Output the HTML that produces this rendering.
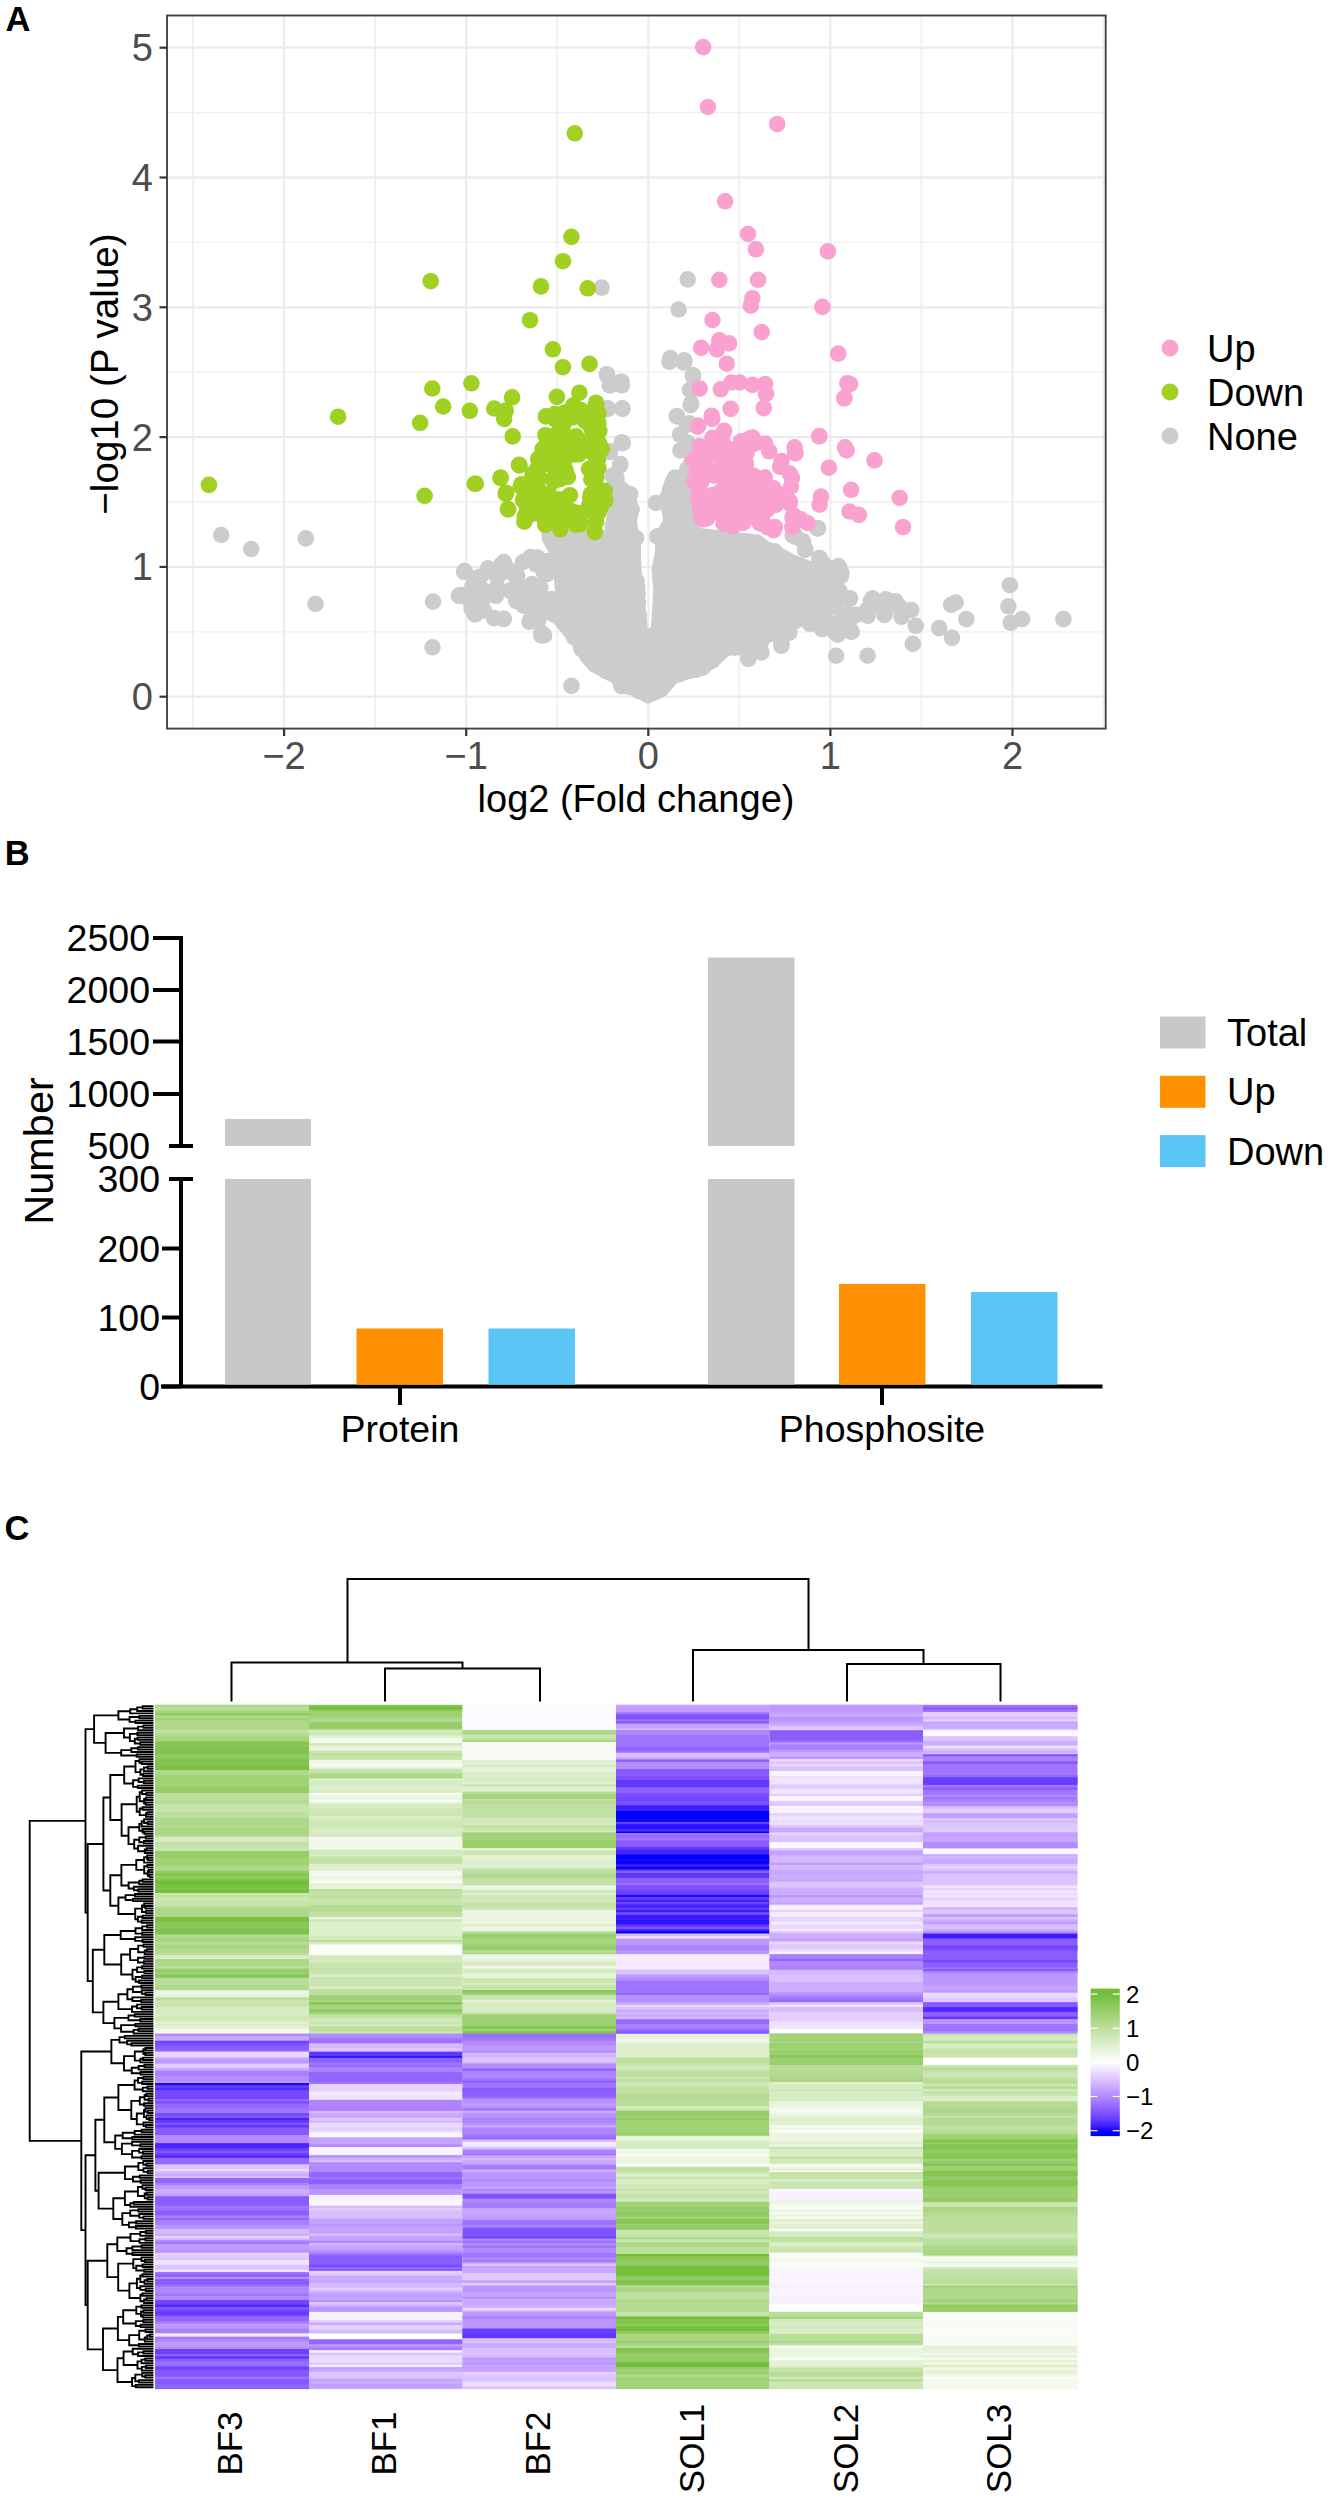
<!DOCTYPE html>
<html><head><meta charset="utf-8"><style>html,body{margin:0;padding:0;background:#fff;}svg{display:block;}</style></head>
<body><svg width="1328" height="2500" viewBox="0 0 1328 2500">
<rect width="1328" height="2500" fill="#fff"/>
<g id="panelA">
<text x="5.5" y="30.6" font-family="Liberation Sans" font-weight="bold" font-size="34.5" fill="#000">A</text>
<line x1="193.0" y1="15.5" x2="193.0" y2="728.6" stroke="#EEEEEE" stroke-width="1.6"/>
<line x1="375.1" y1="15.5" x2="375.1" y2="728.6" stroke="#EEEEEE" stroke-width="1.6"/>
<line x1="557.2" y1="15.5" x2="557.2" y2="728.6" stroke="#EEEEEE" stroke-width="1.6"/>
<line x1="739.3" y1="15.5" x2="739.3" y2="728.6" stroke="#EEEEEE" stroke-width="1.6"/>
<line x1="921.4" y1="15.5" x2="921.4" y2="728.6" stroke="#EEEEEE" stroke-width="1.6"/>
<line x1="1103.5" y1="15.5" x2="1103.5" y2="728.6" stroke="#EEEEEE" stroke-width="1.6"/>
<line x1="167.0" y1="631.8" x2="1105.7" y2="631.8" stroke="#EFEFEF" stroke-width="1.3"/>
<line x1="167.0" y1="502.0" x2="1105.7" y2="502.0" stroke="#EFEFEF" stroke-width="1.3"/>
<line x1="167.0" y1="372.2" x2="1105.7" y2="372.2" stroke="#EFEFEF" stroke-width="1.3"/>
<line x1="167.0" y1="242.4" x2="1105.7" y2="242.4" stroke="#EFEFEF" stroke-width="1.3"/>
<line x1="167.0" y1="112.6" x2="1105.7" y2="112.6" stroke="#EFEFEF" stroke-width="1.3"/>
<line x1="284.1" y1="15.5" x2="284.1" y2="728.6" stroke="#EBEBEB" stroke-width="2.0"/>
<line x1="466.2" y1="15.5" x2="466.2" y2="728.6" stroke="#EBEBEB" stroke-width="2.0"/>
<line x1="648.3" y1="15.5" x2="648.3" y2="728.6" stroke="#EBEBEB" stroke-width="2.0"/>
<line x1="830.4" y1="15.5" x2="830.4" y2="728.6" stroke="#EBEBEB" stroke-width="2.0"/>
<line x1="1012.5" y1="15.5" x2="1012.5" y2="728.6" stroke="#EBEBEB" stroke-width="2.0"/>
<line x1="167.0" y1="696.7" x2="1105.7" y2="696.7" stroke="#EBEBEB" stroke-width="2.3"/>
<line x1="167.0" y1="566.9" x2="1105.7" y2="566.9" stroke="#EBEBEB" stroke-width="2.3"/>
<line x1="167.0" y1="437.1" x2="1105.7" y2="437.1" stroke="#EBEBEB" stroke-width="2.3"/>
<line x1="167.0" y1="307.3" x2="1105.7" y2="307.3" stroke="#EBEBEB" stroke-width="2.3"/>
<line x1="167.0" y1="177.5" x2="1105.7" y2="177.5" stroke="#EBEBEB" stroke-width="2.3"/>
<line x1="167.0" y1="47.7" x2="1105.7" y2="47.7" stroke="#EBEBEB" stroke-width="2.3"/>
<polygon points="606.0,478.0 623.4,470.0 622.5,479.0 636.1,492.6 638.8,513.4 636.0,525.0 641.0,540.0 641.0,556.0 641.5,569.4 643.3,590.0 647.0,620.0 648.5,636.0 647.7,704.0 632.8,695.9 619.5,692.5 611.2,682.6 589.7,671.0 579.8,659.4 574.8,647.8 567.3,639.9 553.6,623.2 555.5,598.7 552.6,559.6 541.8,540.0 541.3,530.0 606.0,530.0 610.0,490.0" fill="#CCCCCC"/>
<polygon points="680.4,470.0 690.0,440.0 700.0,440.0 700.0,528.0 760.0,534.7 769.8,542.5 781.5,547.4 793.3,554.3 810.9,561.1 820.7,554.0 835.8,563.5 841.0,576.0 849.0,598.0 836.0,606.0 828.5,627.7 803.0,626.0 786.4,635.8 768.2,642.5 748.7,666.0 738.8,652.8 728.9,656.1 715.6,667.7 702.4,676.0 689.1,679.3 677.5,682.6 665.9,695.9 647.7,704.0 648.5,636.0 651.0,626.0 653.3,590.0 651.4,569.4 655.1,551.3 655.1,533.3 663.2,519.7 658.7,497.1 668.6,475.4" fill="#CCCCCC"/>
<g><circle cx="614.7" cy="484.1" r="8.3" fill="#CCCCCC"/><circle cx="621.3" cy="490.7" r="8.3" fill="#CCCCCC"/><circle cx="620.3" cy="497.8" r="8.3" fill="#CCCCCC"/><circle cx="628.3" cy="497.0" r="8.3" fill="#CCCCCC"/><circle cx="622.2" cy="504.7" r="8.3" fill="#CCCCCC"/><circle cx="628.5" cy="505.1" r="8.3" fill="#CCCCCC"/><circle cx="614.4" cy="513.0" r="8.3" fill="#CCCCCC"/><circle cx="621.9" cy="511.6" r="8.3" fill="#CCCCCC"/><circle cx="628.9" cy="511.1" r="8.3" fill="#CCCCCC"/><circle cx="614.4" cy="519.1" r="8.3" fill="#CCCCCC"/><circle cx="621.3" cy="520.0" r="8.3" fill="#CCCCCC"/><circle cx="628.5" cy="519.2" r="8.3" fill="#CCCCCC"/><circle cx="612.8" cy="525.8" r="8.3" fill="#CCCCCC"/><circle cx="622.1" cy="525.1" r="8.3" fill="#CCCCCC"/><circle cx="629.5" cy="524.6" r="8.3" fill="#CCCCCC"/><circle cx="612.1" cy="533.6" r="8.3" fill="#CCCCCC"/><circle cx="620.9" cy="533.8" r="8.3" fill="#CCCCCC"/><circle cx="630.5" cy="531.7" r="8.3" fill="#CCCCCC"/><circle cx="550.7" cy="538.7" r="8.3" fill="#CCCCCC"/><circle cx="557.6" cy="539.1" r="8.3" fill="#CCCCCC"/><circle cx="564.7" cy="538.0" r="8.3" fill="#CCCCCC"/><circle cx="574.5" cy="540.7" r="8.3" fill="#CCCCCC"/><circle cx="582.7" cy="538.1" r="8.3" fill="#CCCCCC"/><circle cx="588.4" cy="539.6" r="8.3" fill="#CCCCCC"/><circle cx="598.7" cy="539.4" r="8.3" fill="#CCCCCC"/><circle cx="605.9" cy="539.8" r="8.3" fill="#CCCCCC"/><circle cx="612.6" cy="539.4" r="8.3" fill="#CCCCCC"/><circle cx="620.7" cy="538.5" r="8.3" fill="#CCCCCC"/><circle cx="628.0" cy="538.6" r="8.3" fill="#CCCCCC"/><circle cx="556.8" cy="547.2" r="8.3" fill="#CCCCCC"/><circle cx="566.5" cy="545.6" r="8.3" fill="#CCCCCC"/><circle cx="572.8" cy="546.3" r="8.3" fill="#CCCCCC"/><circle cx="581.5" cy="546.5" r="8.3" fill="#CCCCCC"/><circle cx="588.5" cy="544.8" r="8.3" fill="#CCCCCC"/><circle cx="596.5" cy="544.9" r="8.3" fill="#CCCCCC"/><circle cx="605.5" cy="544.9" r="8.3" fill="#CCCCCC"/><circle cx="612.0" cy="546.6" r="8.3" fill="#CCCCCC"/><circle cx="620.7" cy="547.1" r="8.3" fill="#CCCCCC"/><circle cx="629.3" cy="547.3" r="8.3" fill="#CCCCCC"/><circle cx="558.3" cy="552.6" r="8.3" fill="#CCCCCC"/><circle cx="564.1" cy="553.2" r="8.3" fill="#CCCCCC"/><circle cx="574.6" cy="552.5" r="8.3" fill="#CCCCCC"/><circle cx="582.5" cy="552.1" r="8.3" fill="#CCCCCC"/><circle cx="590.5" cy="551.7" r="8.3" fill="#CCCCCC"/><circle cx="596.7" cy="554.3" r="8.3" fill="#CCCCCC"/><circle cx="606.2" cy="554.4" r="8.3" fill="#CCCCCC"/><circle cx="614.3" cy="553.9" r="8.3" fill="#CCCCCC"/><circle cx="621.9" cy="552.2" r="8.3" fill="#CCCCCC"/><circle cx="629.1" cy="552.1" r="8.3" fill="#CCCCCC"/><circle cx="558.4" cy="559.9" r="8.3" fill="#CCCCCC"/><circle cx="565.0" cy="559.6" r="8.3" fill="#CCCCCC"/><circle cx="572.6" cy="558.6" r="8.3" fill="#CCCCCC"/><circle cx="581.7" cy="559.8" r="8.3" fill="#CCCCCC"/><circle cx="589.5" cy="558.8" r="8.3" fill="#CCCCCC"/><circle cx="596.9" cy="559.0" r="8.3" fill="#CCCCCC"/><circle cx="604.2" cy="559.3" r="8.3" fill="#CCCCCC"/><circle cx="614.3" cy="559.8" r="8.3" fill="#CCCCCC"/><circle cx="621.0" cy="560.4" r="8.3" fill="#CCCCCC"/><circle cx="628.5" cy="558.6" r="8.3" fill="#CCCCCC"/><circle cx="565.0" cy="567.2" r="8.3" fill="#CCCCCC"/><circle cx="574.5" cy="568.2" r="8.3" fill="#CCCCCC"/><circle cx="580.6" cy="567.4" r="8.3" fill="#CCCCCC"/><circle cx="587.9" cy="565.7" r="8.3" fill="#CCCCCC"/><circle cx="597.3" cy="568.1" r="8.3" fill="#CCCCCC"/><circle cx="604.3" cy="567.8" r="8.3" fill="#CCCCCC"/><circle cx="614.4" cy="566.4" r="8.3" fill="#CCCCCC"/><circle cx="621.9" cy="568.0" r="8.3" fill="#CCCCCC"/><circle cx="628.9" cy="567.6" r="8.3" fill="#CCCCCC"/><circle cx="566.1" cy="572.6" r="8.3" fill="#CCCCCC"/><circle cx="573.8" cy="574.6" r="8.3" fill="#CCCCCC"/><circle cx="580.8" cy="574.0" r="8.3" fill="#CCCCCC"/><circle cx="588.3" cy="574.6" r="8.3" fill="#CCCCCC"/><circle cx="595.9" cy="575.4" r="8.3" fill="#CCCCCC"/><circle cx="606.2" cy="574.3" r="8.3" fill="#CCCCCC"/><circle cx="612.6" cy="575.2" r="8.3" fill="#CCCCCC"/><circle cx="622.7" cy="572.8" r="8.3" fill="#CCCCCC"/><circle cx="630.1" cy="574.9" r="8.3" fill="#CCCCCC"/><circle cx="564.2" cy="582.1" r="8.3" fill="#CCCCCC"/><circle cx="574.7" cy="579.7" r="8.3" fill="#CCCCCC"/><circle cx="581.6" cy="580.6" r="8.3" fill="#CCCCCC"/><circle cx="588.2" cy="580.2" r="8.3" fill="#CCCCCC"/><circle cx="596.5" cy="581.6" r="8.3" fill="#CCCCCC"/><circle cx="603.8" cy="579.9" r="8.3" fill="#CCCCCC"/><circle cx="613.1" cy="579.4" r="8.3" fill="#CCCCCC"/><circle cx="621.7" cy="581.2" r="8.3" fill="#CCCCCC"/><circle cx="630.3" cy="580.0" r="8.3" fill="#CCCCCC"/><circle cx="636.7" cy="581.0" r="8.3" fill="#CCCCCC"/><circle cx="565.3" cy="588.8" r="8.3" fill="#CCCCCC"/><circle cx="574.1" cy="588.0" r="8.3" fill="#CCCCCC"/><circle cx="580.9" cy="587.1" r="8.3" fill="#CCCCCC"/><circle cx="588.1" cy="588.7" r="8.3" fill="#CCCCCC"/><circle cx="596.2" cy="588.5" r="8.3" fill="#CCCCCC"/><circle cx="605.4" cy="589.2" r="8.3" fill="#CCCCCC"/><circle cx="614.1" cy="589.2" r="8.3" fill="#CCCCCC"/><circle cx="620.2" cy="587.8" r="8.3" fill="#CCCCCC"/><circle cx="629.5" cy="587.2" r="8.3" fill="#CCCCCC"/><circle cx="637.3" cy="587.3" r="8.3" fill="#CCCCCC"/><circle cx="565.3" cy="595.1" r="8.3" fill="#CCCCCC"/><circle cx="572.9" cy="593.8" r="8.3" fill="#CCCCCC"/><circle cx="579.8" cy="594.0" r="8.3" fill="#CCCCCC"/><circle cx="589.6" cy="595.8" r="8.3" fill="#CCCCCC"/><circle cx="598.3" cy="594.7" r="8.3" fill="#CCCCCC"/><circle cx="606.8" cy="594.6" r="8.3" fill="#CCCCCC"/><circle cx="614.3" cy="594.4" r="8.3" fill="#CCCCCC"/><circle cx="622.0" cy="596.2" r="8.3" fill="#CCCCCC"/><circle cx="628.7" cy="593.7" r="8.3" fill="#CCCCCC"/><circle cx="637.7" cy="594.8" r="8.3" fill="#CCCCCC"/><circle cx="566.5" cy="602.4" r="8.3" fill="#CCCCCC"/><circle cx="573.3" cy="602.4" r="8.3" fill="#CCCCCC"/><circle cx="581.7" cy="602.1" r="8.3" fill="#CCCCCC"/><circle cx="589.7" cy="601.4" r="8.3" fill="#CCCCCC"/><circle cx="597.7" cy="602.0" r="8.3" fill="#CCCCCC"/><circle cx="606.6" cy="602.5" r="8.3" fill="#CCCCCC"/><circle cx="614.3" cy="602.4" r="8.3" fill="#CCCCCC"/><circle cx="622.2" cy="601.9" r="8.3" fill="#CCCCCC"/><circle cx="628.8" cy="600.9" r="8.3" fill="#CCCCCC"/><circle cx="637.9" cy="602.8" r="8.3" fill="#CCCCCC"/><circle cx="565.1" cy="608.1" r="8.3" fill="#CCCCCC"/><circle cx="573.8" cy="607.1" r="8.3" fill="#CCCCCC"/><circle cx="581.3" cy="609.9" r="8.3" fill="#CCCCCC"/><circle cx="589.9" cy="608.3" r="8.3" fill="#CCCCCC"/><circle cx="597.9" cy="608.9" r="8.3" fill="#CCCCCC"/><circle cx="604.4" cy="607.7" r="8.3" fill="#CCCCCC"/><circle cx="614.5" cy="607.9" r="8.3" fill="#CCCCCC"/><circle cx="620.0" cy="609.6" r="8.3" fill="#CCCCCC"/><circle cx="629.4" cy="608.2" r="8.3" fill="#CCCCCC"/><circle cx="637.3" cy="609.3" r="8.3" fill="#CCCCCC"/><circle cx="564.3" cy="616.4" r="8.3" fill="#CCCCCC"/><circle cx="574.4" cy="615.0" r="8.3" fill="#CCCCCC"/><circle cx="580.5" cy="616.9" r="8.3" fill="#CCCCCC"/><circle cx="589.9" cy="616.5" r="8.3" fill="#CCCCCC"/><circle cx="595.9" cy="616.7" r="8.3" fill="#CCCCCC"/><circle cx="605.7" cy="614.9" r="8.3" fill="#CCCCCC"/><circle cx="613.1" cy="616.3" r="8.3" fill="#CCCCCC"/><circle cx="622.2" cy="614.6" r="8.3" fill="#CCCCCC"/><circle cx="629.7" cy="614.5" r="8.3" fill="#CCCCCC"/><circle cx="638.7" cy="615.3" r="8.3" fill="#CCCCCC"/><circle cx="564.9" cy="623.2" r="8.3" fill="#CCCCCC"/><circle cx="572.5" cy="623.1" r="8.3" fill="#CCCCCC"/><circle cx="582.0" cy="621.8" r="8.3" fill="#CCCCCC"/><circle cx="588.1" cy="622.1" r="8.3" fill="#CCCCCC"/><circle cx="597.3" cy="621.2" r="8.3" fill="#CCCCCC"/><circle cx="604.4" cy="621.1" r="8.3" fill="#CCCCCC"/><circle cx="613.6" cy="623.6" r="8.3" fill="#CCCCCC"/><circle cx="620.4" cy="621.0" r="8.3" fill="#CCCCCC"/><circle cx="629.9" cy="623.4" r="8.3" fill="#CCCCCC"/><circle cx="638.7" cy="622.8" r="8.3" fill="#CCCCCC"/><circle cx="574.3" cy="629.2" r="8.3" fill="#CCCCCC"/><circle cx="581.5" cy="628.5" r="8.3" fill="#CCCCCC"/><circle cx="589.9" cy="628.8" r="8.3" fill="#CCCCCC"/><circle cx="597.6" cy="630.6" r="8.3" fill="#CCCCCC"/><circle cx="606.8" cy="628.0" r="8.3" fill="#CCCCCC"/><circle cx="614.2" cy="630.4" r="8.3" fill="#CCCCCC"/><circle cx="620.8" cy="629.0" r="8.3" fill="#CCCCCC"/><circle cx="629.5" cy="630.6" r="8.3" fill="#CCCCCC"/><circle cx="637.0" cy="630.5" r="8.3" fill="#CCCCCC"/><circle cx="574.3" cy="637.5" r="8.3" fill="#CCCCCC"/><circle cx="579.9" cy="635.0" r="8.3" fill="#CCCCCC"/><circle cx="590.3" cy="634.9" r="8.3" fill="#CCCCCC"/><circle cx="596.6" cy="635.1" r="8.3" fill="#CCCCCC"/><circle cx="604.1" cy="634.9" r="8.3" fill="#CCCCCC"/><circle cx="613.7" cy="637.0" r="8.3" fill="#CCCCCC"/><circle cx="621.9" cy="637.3" r="8.3" fill="#CCCCCC"/><circle cx="629.8" cy="635.9" r="8.3" fill="#CCCCCC"/><circle cx="637.7" cy="637.7" r="8.3" fill="#CCCCCC"/><circle cx="580.4" cy="644.3" r="8.3" fill="#CCCCCC"/><circle cx="589.1" cy="643.7" r="8.3" fill="#CCCCCC"/><circle cx="597.9" cy="643.9" r="8.3" fill="#CCCCCC"/><circle cx="606.0" cy="644.0" r="8.3" fill="#CCCCCC"/><circle cx="612.6" cy="644.6" r="8.3" fill="#CCCCCC"/><circle cx="620.3" cy="644.5" r="8.3" fill="#CCCCCC"/><circle cx="630.4" cy="644.3" r="8.3" fill="#CCCCCC"/><circle cx="636.0" cy="642.0" r="8.3" fill="#CCCCCC"/><circle cx="581.4" cy="648.9" r="8.3" fill="#CCCCCC"/><circle cx="590.2" cy="648.9" r="8.3" fill="#CCCCCC"/><circle cx="595.9" cy="649.8" r="8.3" fill="#CCCCCC"/><circle cx="606.0" cy="649.6" r="8.3" fill="#CCCCCC"/><circle cx="612.2" cy="651.0" r="8.3" fill="#CCCCCC"/><circle cx="622.2" cy="651.2" r="8.3" fill="#CCCCCC"/><circle cx="628.7" cy="649.9" r="8.3" fill="#CCCCCC"/><circle cx="636.5" cy="650.3" r="8.3" fill="#CCCCCC"/><circle cx="590.3" cy="656.4" r="8.3" fill="#CCCCCC"/><circle cx="596.3" cy="656.7" r="8.3" fill="#CCCCCC"/><circle cx="605.4" cy="655.8" r="8.3" fill="#CCCCCC"/><circle cx="612.8" cy="657.3" r="8.3" fill="#CCCCCC"/><circle cx="619.9" cy="658.0" r="8.3" fill="#CCCCCC"/><circle cx="629.8" cy="656.5" r="8.3" fill="#CCCCCC"/><circle cx="636.7" cy="656.6" r="8.3" fill="#CCCCCC"/><circle cx="598.6" cy="664.9" r="8.3" fill="#CCCCCC"/><circle cx="604.2" cy="664.1" r="8.3" fill="#CCCCCC"/><circle cx="613.5" cy="665.5" r="8.3" fill="#CCCCCC"/><circle cx="622.2" cy="664.6" r="8.3" fill="#CCCCCC"/><circle cx="630.0" cy="663.6" r="8.3" fill="#CCCCCC"/><circle cx="638.6" cy="664.4" r="8.3" fill="#CCCCCC"/><circle cx="605.7" cy="671.0" r="8.3" fill="#CCCCCC"/><circle cx="612.0" cy="669.6" r="8.3" fill="#CCCCCC"/><circle cx="622.4" cy="671.3" r="8.3" fill="#CCCCCC"/><circle cx="628.3" cy="672.0" r="8.3" fill="#CCCCCC"/><circle cx="635.9" cy="670.5" r="8.3" fill="#CCCCCC"/><circle cx="622.4" cy="678.7" r="8.3" fill="#CCCCCC"/><circle cx="629.6" cy="676.5" r="8.3" fill="#CCCCCC"/><circle cx="638.4" cy="677.7" r="8.3" fill="#CCCCCC"/><circle cx="621.4" cy="686.2" r="8.3" fill="#CCCCCC"/><circle cx="628.3" cy="685.2" r="8.3" fill="#CCCCCC"/><circle cx="638.8" cy="685.5" r="8.3" fill="#CCCCCC"/><circle cx="638.8" cy="691.0" r="8.3" fill="#CCCCCC"/></g>
<g><circle cx="687.3" cy="469.0" r="8.3" fill="#CCCCCC"/><circle cx="694.4" cy="468.5" r="8.3" fill="#CCCCCC"/><circle cx="687.1" cy="473.8" r="8.3" fill="#CCCCCC"/><circle cx="672.3" cy="482.7" r="8.3" fill="#CCCCCC"/><circle cx="680.2" cy="482.5" r="8.3" fill="#CCCCCC"/><circle cx="686.3" cy="482.9" r="8.3" fill="#CCCCCC"/><circle cx="670.2" cy="488.7" r="8.3" fill="#CCCCCC"/><circle cx="681.1" cy="488.1" r="8.3" fill="#CCCCCC"/><circle cx="687.8" cy="488.1" r="8.3" fill="#CCCCCC"/><circle cx="670.8" cy="496.0" r="8.3" fill="#CCCCCC"/><circle cx="679.3" cy="495.0" r="8.3" fill="#CCCCCC"/><circle cx="688.6" cy="494.6" r="8.3" fill="#CCCCCC"/><circle cx="670.6" cy="501.5" r="8.3" fill="#CCCCCC"/><circle cx="679.0" cy="502.1" r="8.3" fill="#CCCCCC"/><circle cx="687.0" cy="501.9" r="8.3" fill="#CCCCCC"/><circle cx="670.7" cy="508.2" r="8.3" fill="#CCCCCC"/><circle cx="680.2" cy="508.1" r="8.3" fill="#CCCCCC"/><circle cx="689.1" cy="509.7" r="8.3" fill="#CCCCCC"/><circle cx="694.3" cy="510.5" r="8.3" fill="#CCCCCC"/><circle cx="670.9" cy="516.8" r="8.3" fill="#CCCCCC"/><circle cx="680.3" cy="516.7" r="8.3" fill="#CCCCCC"/><circle cx="686.3" cy="516.4" r="8.3" fill="#CCCCCC"/><circle cx="672.5" cy="523.7" r="8.3" fill="#CCCCCC"/><circle cx="680.6" cy="523.0" r="8.3" fill="#CCCCCC"/><circle cx="687.6" cy="522.7" r="8.3" fill="#CCCCCC"/><circle cx="673.1" cy="531.3" r="8.3" fill="#CCCCCC"/><circle cx="678.8" cy="530.7" r="8.3" fill="#CCCCCC"/><circle cx="688.8" cy="530.3" r="8.3" fill="#CCCCCC"/><circle cx="662.5" cy="537.5" r="8.3" fill="#CCCCCC"/><circle cx="671.5" cy="535.9" r="8.3" fill="#CCCCCC"/><circle cx="679.1" cy="537.5" r="8.3" fill="#CCCCCC"/><circle cx="687.6" cy="538.3" r="8.3" fill="#CCCCCC"/><circle cx="695.3" cy="536.5" r="8.3" fill="#CCCCCC"/><circle cx="705.0" cy="537.3" r="8.3" fill="#CCCCCC"/><circle cx="710.5" cy="537.8" r="8.3" fill="#CCCCCC"/><circle cx="719.3" cy="538.3" r="8.3" fill="#CCCCCC"/><circle cx="728.1" cy="537.9" r="8.3" fill="#CCCCCC"/><circle cx="662.9" cy="543.0" r="8.3" fill="#CCCCCC"/><circle cx="670.2" cy="543.6" r="8.3" fill="#CCCCCC"/><circle cx="679.7" cy="543.3" r="8.3" fill="#CCCCCC"/><circle cx="688.2" cy="542.6" r="8.3" fill="#CCCCCC"/><circle cx="695.8" cy="544.0" r="8.3" fill="#CCCCCC"/><circle cx="703.4" cy="545.2" r="8.3" fill="#CCCCCC"/><circle cx="710.6" cy="543.7" r="8.3" fill="#CCCCCC"/><circle cx="719.6" cy="543.5" r="8.3" fill="#CCCCCC"/><circle cx="729.1" cy="544.1" r="8.3" fill="#CCCCCC"/><circle cx="735.7" cy="543.7" r="8.3" fill="#CCCCCC"/><circle cx="743.5" cy="545.3" r="8.3" fill="#CCCCCC"/><circle cx="752.6" cy="544.4" r="8.3" fill="#CCCCCC"/><circle cx="758.7" cy="544.2" r="8.3" fill="#CCCCCC"/><circle cx="663.3" cy="551.9" r="8.3" fill="#CCCCCC"/><circle cx="671.6" cy="551.3" r="8.3" fill="#CCCCCC"/><circle cx="679.9" cy="551.0" r="8.3" fill="#CCCCCC"/><circle cx="687.6" cy="552.2" r="8.3" fill="#CCCCCC"/><circle cx="696.5" cy="550.6" r="8.3" fill="#CCCCCC"/><circle cx="703.7" cy="552.0" r="8.3" fill="#CCCCCC"/><circle cx="712.4" cy="551.3" r="8.3" fill="#CCCCCC"/><circle cx="721.1" cy="549.7" r="8.3" fill="#CCCCCC"/><circle cx="728.0" cy="551.2" r="8.3" fill="#CCCCCC"/><circle cx="735.6" cy="552.2" r="8.3" fill="#CCCCCC"/><circle cx="745.1" cy="550.5" r="8.3" fill="#CCCCCC"/><circle cx="752.0" cy="551.6" r="8.3" fill="#CCCCCC"/><circle cx="760.3" cy="550.4" r="8.3" fill="#CCCCCC"/><circle cx="768.6" cy="550.4" r="8.3" fill="#CCCCCC"/><circle cx="774.6" cy="551.3" r="8.3" fill="#CCCCCC"/><circle cx="662.7" cy="558.8" r="8.3" fill="#CCCCCC"/><circle cx="671.2" cy="556.5" r="8.3" fill="#CCCCCC"/><circle cx="680.0" cy="557.5" r="8.3" fill="#CCCCCC"/><circle cx="689.0" cy="557.6" r="8.3" fill="#CCCCCC"/><circle cx="694.5" cy="556.3" r="8.3" fill="#CCCCCC"/><circle cx="702.3" cy="557.8" r="8.3" fill="#CCCCCC"/><circle cx="712.3" cy="556.4" r="8.3" fill="#CCCCCC"/><circle cx="719.2" cy="557.7" r="8.3" fill="#CCCCCC"/><circle cx="728.9" cy="559.2" r="8.3" fill="#CCCCCC"/><circle cx="736.8" cy="558.2" r="8.3" fill="#CCCCCC"/><circle cx="743.9" cy="556.9" r="8.3" fill="#CCCCCC"/><circle cx="752.0" cy="556.8" r="8.3" fill="#CCCCCC"/><circle cx="759.1" cy="558.8" r="8.3" fill="#CCCCCC"/><circle cx="767.9" cy="558.5" r="8.3" fill="#CCCCCC"/><circle cx="775.6" cy="557.1" r="8.3" fill="#CCCCCC"/><circle cx="783.7" cy="558.0" r="8.3" fill="#CCCCCC"/><circle cx="665.0" cy="565.7" r="8.3" fill="#CCCCCC"/><circle cx="672.0" cy="565.6" r="8.3" fill="#CCCCCC"/><circle cx="678.6" cy="563.8" r="8.3" fill="#CCCCCC"/><circle cx="688.3" cy="563.2" r="8.3" fill="#CCCCCC"/><circle cx="694.5" cy="565.5" r="8.3" fill="#CCCCCC"/><circle cx="702.8" cy="563.8" r="8.3" fill="#CCCCCC"/><circle cx="711.4" cy="565.7" r="8.3" fill="#CCCCCC"/><circle cx="718.2" cy="565.8" r="8.3" fill="#CCCCCC"/><circle cx="727.1" cy="564.9" r="8.3" fill="#CCCCCC"/><circle cx="735.6" cy="563.6" r="8.3" fill="#CCCCCC"/><circle cx="745.1" cy="563.7" r="8.3" fill="#CCCCCC"/><circle cx="752.6" cy="565.8" r="8.3" fill="#CCCCCC"/><circle cx="759.6" cy="566.1" r="8.3" fill="#CCCCCC"/><circle cx="766.4" cy="563.6" r="8.3" fill="#CCCCCC"/><circle cx="775.7" cy="563.4" r="8.3" fill="#CCCCCC"/><circle cx="784.6" cy="564.8" r="8.3" fill="#CCCCCC"/><circle cx="792.6" cy="564.1" r="8.3" fill="#CCCCCC"/><circle cx="798.3" cy="565.9" r="8.3" fill="#CCCCCC"/><circle cx="823.6" cy="563.8" r="8.3" fill="#CCCCCC"/><circle cx="662.7" cy="572.9" r="8.3" fill="#CCCCCC"/><circle cx="670.3" cy="570.5" r="8.3" fill="#CCCCCC"/><circle cx="678.5" cy="572.5" r="8.3" fill="#CCCCCC"/><circle cx="687.7" cy="572.9" r="8.3" fill="#CCCCCC"/><circle cx="697.1" cy="573.0" r="8.3" fill="#CCCCCC"/><circle cx="704.0" cy="571.2" r="8.3" fill="#CCCCCC"/><circle cx="713.1" cy="572.3" r="8.3" fill="#CCCCCC"/><circle cx="718.8" cy="571.8" r="8.3" fill="#CCCCCC"/><circle cx="726.3" cy="570.2" r="8.3" fill="#CCCCCC"/><circle cx="736.1" cy="572.3" r="8.3" fill="#CCCCCC"/><circle cx="744.8" cy="572.4" r="8.3" fill="#CCCCCC"/><circle cx="750.6" cy="572.3" r="8.3" fill="#CCCCCC"/><circle cx="761.1" cy="572.2" r="8.3" fill="#CCCCCC"/><circle cx="767.6" cy="571.0" r="8.3" fill="#CCCCCC"/><circle cx="774.4" cy="572.0" r="8.3" fill="#CCCCCC"/><circle cx="785.1" cy="570.5" r="8.3" fill="#CCCCCC"/><circle cx="792.7" cy="572.8" r="8.3" fill="#CCCCCC"/><circle cx="799.3" cy="572.7" r="8.3" fill="#CCCCCC"/><circle cx="806.7" cy="571.0" r="8.3" fill="#CCCCCC"/><circle cx="815.9" cy="572.8" r="8.3" fill="#CCCCCC"/><circle cx="823.8" cy="570.4" r="8.3" fill="#CCCCCC"/><circle cx="833.0" cy="571.8" r="8.3" fill="#CCCCCC"/><circle cx="664.7" cy="578.1" r="8.3" fill="#CCCCCC"/><circle cx="673.0" cy="579.0" r="8.3" fill="#CCCCCC"/><circle cx="679.2" cy="577.6" r="8.3" fill="#CCCCCC"/><circle cx="689.1" cy="579.0" r="8.3" fill="#CCCCCC"/><circle cx="694.3" cy="579.1" r="8.3" fill="#CCCCCC"/><circle cx="703.3" cy="578.3" r="8.3" fill="#CCCCCC"/><circle cx="712.5" cy="577.7" r="8.3" fill="#CCCCCC"/><circle cx="719.0" cy="578.7" r="8.3" fill="#CCCCCC"/><circle cx="728.9" cy="577.3" r="8.3" fill="#CCCCCC"/><circle cx="736.7" cy="579.2" r="8.3" fill="#CCCCCC"/><circle cx="742.7" cy="579.0" r="8.3" fill="#CCCCCC"/><circle cx="752.1" cy="579.2" r="8.3" fill="#CCCCCC"/><circle cx="759.8" cy="578.0" r="8.3" fill="#CCCCCC"/><circle cx="767.7" cy="577.8" r="8.3" fill="#CCCCCC"/><circle cx="775.6" cy="578.3" r="8.3" fill="#CCCCCC"/><circle cx="782.5" cy="577.8" r="8.3" fill="#CCCCCC"/><circle cx="791.2" cy="578.2" r="8.3" fill="#CCCCCC"/><circle cx="799.9" cy="579.3" r="8.3" fill="#CCCCCC"/><circle cx="807.0" cy="578.7" r="8.3" fill="#CCCCCC"/><circle cx="815.2" cy="577.7" r="8.3" fill="#CCCCCC"/><circle cx="822.6" cy="579.9" r="8.3" fill="#CCCCCC"/><circle cx="833.0" cy="579.6" r="8.3" fill="#CCCCCC"/><circle cx="664.7" cy="584.6" r="8.3" fill="#CCCCCC"/><circle cx="670.2" cy="586.4" r="8.3" fill="#CCCCCC"/><circle cx="679.3" cy="584.9" r="8.3" fill="#CCCCCC"/><circle cx="686.7" cy="584.8" r="8.3" fill="#CCCCCC"/><circle cx="695.0" cy="584.8" r="8.3" fill="#CCCCCC"/><circle cx="702.9" cy="585.5" r="8.3" fill="#CCCCCC"/><circle cx="712.6" cy="584.9" r="8.3" fill="#CCCCCC"/><circle cx="719.4" cy="585.4" r="8.3" fill="#CCCCCC"/><circle cx="728.7" cy="586.3" r="8.3" fill="#CCCCCC"/><circle cx="737.2" cy="584.5" r="8.3" fill="#CCCCCC"/><circle cx="744.6" cy="584.9" r="8.3" fill="#CCCCCC"/><circle cx="751.9" cy="585.6" r="8.3" fill="#CCCCCC"/><circle cx="759.9" cy="585.0" r="8.3" fill="#CCCCCC"/><circle cx="766.4" cy="584.0" r="8.3" fill="#CCCCCC"/><circle cx="777.0" cy="586.6" r="8.3" fill="#CCCCCC"/><circle cx="783.6" cy="584.3" r="8.3" fill="#CCCCCC"/><circle cx="792.7" cy="585.5" r="8.3" fill="#CCCCCC"/><circle cx="799.6" cy="585.9" r="8.3" fill="#CCCCCC"/><circle cx="806.7" cy="584.6" r="8.3" fill="#CCCCCC"/><circle cx="816.6" cy="586.2" r="8.3" fill="#CCCCCC"/><circle cx="825.2" cy="585.3" r="8.3" fill="#CCCCCC"/><circle cx="833.1" cy="586.7" r="8.3" fill="#CCCCCC"/><circle cx="664.2" cy="591.6" r="8.3" fill="#CCCCCC"/><circle cx="672.6" cy="591.0" r="8.3" fill="#CCCCCC"/><circle cx="679.9" cy="593.6" r="8.3" fill="#CCCCCC"/><circle cx="687.8" cy="591.8" r="8.3" fill="#CCCCCC"/><circle cx="697.2" cy="593.1" r="8.3" fill="#CCCCCC"/><circle cx="704.6" cy="593.6" r="8.3" fill="#CCCCCC"/><circle cx="713.0" cy="592.6" r="8.3" fill="#CCCCCC"/><circle cx="720.7" cy="592.4" r="8.3" fill="#CCCCCC"/><circle cx="727.0" cy="591.8" r="8.3" fill="#CCCCCC"/><circle cx="735.0" cy="591.0" r="8.3" fill="#CCCCCC"/><circle cx="744.1" cy="592.1" r="8.3" fill="#CCCCCC"/><circle cx="752.9" cy="591.1" r="8.3" fill="#CCCCCC"/><circle cx="760.5" cy="591.5" r="8.3" fill="#CCCCCC"/><circle cx="767.2" cy="591.8" r="8.3" fill="#CCCCCC"/><circle cx="777.1" cy="592.9" r="8.3" fill="#CCCCCC"/><circle cx="783.6" cy="591.5" r="8.3" fill="#CCCCCC"/><circle cx="790.3" cy="592.0" r="8.3" fill="#CCCCCC"/><circle cx="801.1" cy="592.2" r="8.3" fill="#CCCCCC"/><circle cx="808.2" cy="593.6" r="8.3" fill="#CCCCCC"/><circle cx="814.3" cy="591.9" r="8.3" fill="#CCCCCC"/><circle cx="823.5" cy="591.6" r="8.3" fill="#CCCCCC"/><circle cx="831.3" cy="593.0" r="8.3" fill="#CCCCCC"/><circle cx="838.6" cy="593.0" r="8.3" fill="#CCCCCC"/><circle cx="665.1" cy="599.6" r="8.3" fill="#CCCCCC"/><circle cx="670.3" cy="598.9" r="8.3" fill="#CCCCCC"/><circle cx="681.1" cy="599.8" r="8.3" fill="#CCCCCC"/><circle cx="688.5" cy="599.3" r="8.3" fill="#CCCCCC"/><circle cx="697.0" cy="600.6" r="8.3" fill="#CCCCCC"/><circle cx="704.0" cy="599.6" r="8.3" fill="#CCCCCC"/><circle cx="710.5" cy="597.9" r="8.3" fill="#CCCCCC"/><circle cx="718.8" cy="600.0" r="8.3" fill="#CCCCCC"/><circle cx="728.7" cy="600.2" r="8.3" fill="#CCCCCC"/><circle cx="736.9" cy="597.9" r="8.3" fill="#CCCCCC"/><circle cx="742.3" cy="598.6" r="8.3" fill="#CCCCCC"/><circle cx="750.3" cy="599.6" r="8.3" fill="#CCCCCC"/><circle cx="761.0" cy="600.5" r="8.3" fill="#CCCCCC"/><circle cx="766.5" cy="599.8" r="8.3" fill="#CCCCCC"/><circle cx="776.2" cy="599.8" r="8.3" fill="#CCCCCC"/><circle cx="783.4" cy="598.6" r="8.3" fill="#CCCCCC"/><circle cx="792.9" cy="600.6" r="8.3" fill="#CCCCCC"/><circle cx="800.3" cy="599.5" r="8.3" fill="#CCCCCC"/><circle cx="806.3" cy="598.7" r="8.3" fill="#CCCCCC"/><circle cx="814.9" cy="598.6" r="8.3" fill="#CCCCCC"/><circle cx="822.8" cy="599.8" r="8.3" fill="#CCCCCC"/><circle cx="832.2" cy="598.4" r="8.3" fill="#CCCCCC"/><circle cx="662.8" cy="605.2" r="8.3" fill="#CCCCCC"/><circle cx="672.6" cy="605.5" r="8.3" fill="#CCCCCC"/><circle cx="678.5" cy="606.2" r="8.3" fill="#CCCCCC"/><circle cx="686.8" cy="605.4" r="8.3" fill="#CCCCCC"/><circle cx="695.1" cy="605.0" r="8.3" fill="#CCCCCC"/><circle cx="704.7" cy="606.5" r="8.3" fill="#CCCCCC"/><circle cx="712.2" cy="605.6" r="8.3" fill="#CCCCCC"/><circle cx="720.5" cy="607.7" r="8.3" fill="#CCCCCC"/><circle cx="729.2" cy="604.9" r="8.3" fill="#CCCCCC"/><circle cx="735.1" cy="605.0" r="8.3" fill="#CCCCCC"/><circle cx="743.6" cy="606.7" r="8.3" fill="#CCCCCC"/><circle cx="752.0" cy="605.8" r="8.3" fill="#CCCCCC"/><circle cx="761.1" cy="606.6" r="8.3" fill="#CCCCCC"/><circle cx="769.2" cy="606.0" r="8.3" fill="#CCCCCC"/><circle cx="776.1" cy="605.1" r="8.3" fill="#CCCCCC"/><circle cx="783.8" cy="606.7" r="8.3" fill="#CCCCCC"/><circle cx="790.9" cy="606.6" r="8.3" fill="#CCCCCC"/><circle cx="798.6" cy="606.2" r="8.3" fill="#CCCCCC"/><circle cx="808.0" cy="606.2" r="8.3" fill="#CCCCCC"/><circle cx="814.7" cy="605.3" r="8.3" fill="#CCCCCC"/><circle cx="823.3" cy="606.7" r="8.3" fill="#CCCCCC"/><circle cx="662.3" cy="612.0" r="8.3" fill="#CCCCCC"/><circle cx="671.1" cy="614.1" r="8.3" fill="#CCCCCC"/><circle cx="681.0" cy="614.0" r="8.3" fill="#CCCCCC"/><circle cx="686.8" cy="614.2" r="8.3" fill="#CCCCCC"/><circle cx="694.3" cy="612.0" r="8.3" fill="#CCCCCC"/><circle cx="702.5" cy="613.4" r="8.3" fill="#CCCCCC"/><circle cx="712.0" cy="613.6" r="8.3" fill="#CCCCCC"/><circle cx="721.0" cy="614.0" r="8.3" fill="#CCCCCC"/><circle cx="728.4" cy="612.2" r="8.3" fill="#CCCCCC"/><circle cx="736.9" cy="614.5" r="8.3" fill="#CCCCCC"/><circle cx="744.7" cy="611.9" r="8.3" fill="#CCCCCC"/><circle cx="752.3" cy="613.3" r="8.3" fill="#CCCCCC"/><circle cx="759.8" cy="612.5" r="8.3" fill="#CCCCCC"/><circle cx="768.5" cy="614.1" r="8.3" fill="#CCCCCC"/><circle cx="776.5" cy="612.6" r="8.3" fill="#CCCCCC"/><circle cx="784.4" cy="612.0" r="8.3" fill="#CCCCCC"/><circle cx="792.2" cy="611.8" r="8.3" fill="#CCCCCC"/><circle cx="798.2" cy="612.0" r="8.3" fill="#CCCCCC"/><circle cx="808.2" cy="614.7" r="8.3" fill="#CCCCCC"/><circle cx="815.6" cy="613.6" r="8.3" fill="#CCCCCC"/><circle cx="824.0" cy="614.2" r="8.3" fill="#CCCCCC"/><circle cx="663.5" cy="621.2" r="8.3" fill="#CCCCCC"/><circle cx="672.8" cy="621.6" r="8.3" fill="#CCCCCC"/><circle cx="679.0" cy="620.5" r="8.3" fill="#CCCCCC"/><circle cx="688.8" cy="619.8" r="8.3" fill="#CCCCCC"/><circle cx="696.0" cy="619.3" r="8.3" fill="#CCCCCC"/><circle cx="704.8" cy="620.0" r="8.3" fill="#CCCCCC"/><circle cx="711.7" cy="620.6" r="8.3" fill="#CCCCCC"/><circle cx="719.2" cy="621.1" r="8.3" fill="#CCCCCC"/><circle cx="727.6" cy="619.9" r="8.3" fill="#CCCCCC"/><circle cx="736.4" cy="620.6" r="8.3" fill="#CCCCCC"/><circle cx="744.3" cy="621.3" r="8.3" fill="#CCCCCC"/><circle cx="752.6" cy="619.9" r="8.3" fill="#CCCCCC"/><circle cx="760.1" cy="621.2" r="8.3" fill="#CCCCCC"/><circle cx="766.4" cy="620.6" r="8.3" fill="#CCCCCC"/><circle cx="775.8" cy="619.8" r="8.3" fill="#CCCCCC"/><circle cx="782.6" cy="619.5" r="8.3" fill="#CCCCCC"/><circle cx="792.4" cy="621.3" r="8.3" fill="#CCCCCC"/><circle cx="814.7" cy="620.7" r="8.3" fill="#CCCCCC"/><circle cx="824.8" cy="620.9" r="8.3" fill="#CCCCCC"/><circle cx="664.7" cy="628.3" r="8.3" fill="#CCCCCC"/><circle cx="671.0" cy="627.8" r="8.3" fill="#CCCCCC"/><circle cx="678.7" cy="627.0" r="8.3" fill="#CCCCCC"/><circle cx="687.2" cy="625.8" r="8.3" fill="#CCCCCC"/><circle cx="695.5" cy="627.2" r="8.3" fill="#CCCCCC"/><circle cx="704.8" cy="625.9" r="8.3" fill="#CCCCCC"/><circle cx="711.1" cy="625.6" r="8.3" fill="#CCCCCC"/><circle cx="718.8" cy="626.4" r="8.3" fill="#CCCCCC"/><circle cx="728.7" cy="628.4" r="8.3" fill="#CCCCCC"/><circle cx="734.8" cy="627.0" r="8.3" fill="#CCCCCC"/><circle cx="743.8" cy="627.0" r="8.3" fill="#CCCCCC"/><circle cx="753.1" cy="628.4" r="8.3" fill="#CCCCCC"/><circle cx="758.3" cy="626.8" r="8.3" fill="#CCCCCC"/><circle cx="767.8" cy="627.5" r="8.3" fill="#CCCCCC"/><circle cx="775.8" cy="628.0" r="8.3" fill="#CCCCCC"/><circle cx="782.5" cy="626.9" r="8.3" fill="#CCCCCC"/><circle cx="654.9" cy="634.2" r="8.3" fill="#CCCCCC"/><circle cx="665.1" cy="634.6" r="8.3" fill="#CCCCCC"/><circle cx="670.4" cy="634.9" r="8.3" fill="#CCCCCC"/><circle cx="678.8" cy="634.3" r="8.3" fill="#CCCCCC"/><circle cx="686.8" cy="632.7" r="8.3" fill="#CCCCCC"/><circle cx="696.5" cy="633.9" r="8.3" fill="#CCCCCC"/><circle cx="704.0" cy="634.6" r="8.3" fill="#CCCCCC"/><circle cx="712.0" cy="633.7" r="8.3" fill="#CCCCCC"/><circle cx="719.2" cy="634.1" r="8.3" fill="#CCCCCC"/><circle cx="726.9" cy="633.3" r="8.3" fill="#CCCCCC"/><circle cx="736.6" cy="633.5" r="8.3" fill="#CCCCCC"/><circle cx="744.4" cy="634.5" r="8.3" fill="#CCCCCC"/><circle cx="751.6" cy="634.8" r="8.3" fill="#CCCCCC"/><circle cx="759.2" cy="632.5" r="8.3" fill="#CCCCCC"/><circle cx="768.7" cy="634.7" r="8.3" fill="#CCCCCC"/><circle cx="655.1" cy="642.2" r="8.3" fill="#CCCCCC"/><circle cx="664.7" cy="640.2" r="8.3" fill="#CCCCCC"/><circle cx="671.7" cy="641.1" r="8.3" fill="#CCCCCC"/><circle cx="680.5" cy="640.2" r="8.3" fill="#CCCCCC"/><circle cx="687.9" cy="641.0" r="8.3" fill="#CCCCCC"/><circle cx="696.0" cy="641.1" r="8.3" fill="#CCCCCC"/><circle cx="703.5" cy="640.6" r="8.3" fill="#CCCCCC"/><circle cx="711.4" cy="642.4" r="8.3" fill="#CCCCCC"/><circle cx="719.8" cy="639.7" r="8.3" fill="#CCCCCC"/><circle cx="727.4" cy="641.7" r="8.3" fill="#CCCCCC"/><circle cx="736.2" cy="639.7" r="8.3" fill="#CCCCCC"/><circle cx="743.4" cy="640.8" r="8.3" fill="#CCCCCC"/><circle cx="752.7" cy="640.2" r="8.3" fill="#CCCCCC"/><circle cx="760.9" cy="641.9" r="8.3" fill="#CCCCCC"/><circle cx="654.2" cy="646.4" r="8.3" fill="#CCCCCC"/><circle cx="662.8" cy="648.7" r="8.3" fill="#CCCCCC"/><circle cx="671.9" cy="648.6" r="8.3" fill="#CCCCCC"/><circle cx="680.3" cy="649.0" r="8.3" fill="#CCCCCC"/><circle cx="688.0" cy="646.4" r="8.3" fill="#CCCCCC"/><circle cx="694.5" cy="647.6" r="8.3" fill="#CCCCCC"/><circle cx="702.6" cy="647.3" r="8.3" fill="#CCCCCC"/><circle cx="711.0" cy="649.3" r="8.3" fill="#CCCCCC"/><circle cx="721.1" cy="648.4" r="8.3" fill="#CCCCCC"/><circle cx="727.5" cy="647.6" r="8.3" fill="#CCCCCC"/><circle cx="734.4" cy="647.7" r="8.3" fill="#CCCCCC"/><circle cx="742.6" cy="647.9" r="8.3" fill="#CCCCCC"/><circle cx="752.6" cy="647.5" r="8.3" fill="#CCCCCC"/><circle cx="657.0" cy="653.5" r="8.3" fill="#CCCCCC"/><circle cx="663.7" cy="654.9" r="8.3" fill="#CCCCCC"/><circle cx="671.2" cy="655.5" r="8.3" fill="#CCCCCC"/><circle cx="680.8" cy="654.0" r="8.3" fill="#CCCCCC"/><circle cx="687.1" cy="654.7" r="8.3" fill="#CCCCCC"/><circle cx="695.6" cy="655.2" r="8.3" fill="#CCCCCC"/><circle cx="704.5" cy="654.3" r="8.3" fill="#CCCCCC"/><circle cx="713.0" cy="654.6" r="8.3" fill="#CCCCCC"/><circle cx="718.3" cy="654.5" r="8.3" fill="#CCCCCC"/><circle cx="750.6" cy="654.1" r="8.3" fill="#CCCCCC"/><circle cx="654.8" cy="660.2" r="8.3" fill="#CCCCCC"/><circle cx="663.9" cy="661.2" r="8.3" fill="#CCCCCC"/><circle cx="671.4" cy="662.0" r="8.3" fill="#CCCCCC"/><circle cx="680.5" cy="662.8" r="8.3" fill="#CCCCCC"/><circle cx="687.2" cy="661.9" r="8.3" fill="#CCCCCC"/><circle cx="696.1" cy="662.3" r="8.3" fill="#CCCCCC"/><circle cx="704.0" cy="661.6" r="8.3" fill="#CCCCCC"/><circle cx="712.6" cy="660.3" r="8.3" fill="#CCCCCC"/><circle cx="654.9" cy="668.4" r="8.3" fill="#CCCCCC"/><circle cx="663.5" cy="667.5" r="8.3" fill="#CCCCCC"/><circle cx="671.1" cy="667.1" r="8.3" fill="#CCCCCC"/><circle cx="679.7" cy="669.0" r="8.3" fill="#CCCCCC"/><circle cx="689.2" cy="670.0" r="8.3" fill="#CCCCCC"/><circle cx="695.2" cy="670.0" r="8.3" fill="#CCCCCC"/><circle cx="702.5" cy="667.6" r="8.3" fill="#CCCCCC"/><circle cx="655.3" cy="676.4" r="8.3" fill="#CCCCCC"/><circle cx="662.3" cy="675.3" r="8.3" fill="#CCCCCC"/><circle cx="670.6" cy="676.4" r="8.3" fill="#CCCCCC"/><circle cx="679.1" cy="674.5" r="8.3" fill="#CCCCCC"/><circle cx="655.5" cy="681.9" r="8.3" fill="#CCCCCC"/><circle cx="664.0" cy="681.9" r="8.3" fill="#CCCCCC"/><circle cx="655.7" cy="689.6" r="8.3" fill="#CCCCCC"/></g>
<circle cx="523.6" cy="605.7" r="8.3" fill="#CCCCCC"/><circle cx="538.4" cy="619.9" r="8.3" fill="#CCCCCC"/><circle cx="533.6" cy="618.5" r="8.3" fill="#CCCCCC"/><circle cx="472.5" cy="586.1" r="8.3" fill="#CCCCCC"/><circle cx="551.1" cy="599.1" r="8.3" fill="#CCCCCC"/><circle cx="547.5" cy="561.0" r="8.3" fill="#CCCCCC"/><circle cx="510.3" cy="570.5" r="8.3" fill="#CCCCCC"/><circle cx="516.8" cy="593.7" r="8.3" fill="#CCCCCC"/><circle cx="494.0" cy="618.1" r="8.3" fill="#CCCCCC"/><circle cx="535.9" cy="564.3" r="8.3" fill="#CCCCCC"/><circle cx="538.6" cy="562.9" r="8.3" fill="#CCCCCC"/><circle cx="523.1" cy="562.0" r="8.3" fill="#CCCCCC"/><circle cx="488.0" cy="568.3" r="8.3" fill="#CCCCCC"/><circle cx="554.5" cy="614.9" r="8.3" fill="#CCCCCC"/><circle cx="516.4" cy="601.1" r="8.3" fill="#CCCCCC"/><circle cx="529.4" cy="621.6" r="8.3" fill="#CCCCCC"/><circle cx="546.9" cy="574.2" r="8.3" fill="#CCCCCC"/><circle cx="501.1" cy="564.8" r="8.3" fill="#CCCCCC"/><circle cx="495.9" cy="595.8" r="8.3" fill="#CCCCCC"/><circle cx="470.3" cy="601.1" r="8.3" fill="#CCCCCC"/><circle cx="499.1" cy="575.0" r="8.3" fill="#CCCCCC"/><circle cx="540.4" cy="587.1" r="8.3" fill="#CCCCCC"/><circle cx="497.2" cy="587.2" r="8.3" fill="#CCCCCC"/><circle cx="530.6" cy="557.0" r="8.3" fill="#CCCCCC"/><circle cx="534.5" cy="613.0" r="8.3" fill="#CCCCCC"/><circle cx="471.6" cy="608.9" r="8.3" fill="#CCCCCC"/>
<circle cx="800.0" cy="613.0" r="8.3" fill="#CCCCCC"/><circle cx="849.4" cy="620.8" r="8.3" fill="#CCCCCC"/><circle cx="839.2" cy="621.6" r="8.3" fill="#CCCCCC"/><circle cx="828.6" cy="624.2" r="8.3" fill="#CCCCCC"/><circle cx="856.5" cy="614.6" r="8.3" fill="#CCCCCC"/><circle cx="820.3" cy="604.3" r="8.3" fill="#CCCCCC"/><circle cx="884.4" cy="614.9" r="8.3" fill="#CCCCCC"/><circle cx="809.8" cy="624.0" r="8.3" fill="#CCCCCC"/><circle cx="809.8" cy="575.8" r="8.3" fill="#CCCCCC"/><circle cx="899.9" cy="607.1" r="8.3" fill="#CCCCCC"/><circle cx="821.1" cy="612.4" r="8.3" fill="#CCCCCC"/><circle cx="837.8" cy="634.6" r="8.3" fill="#CCCCCC"/><circle cx="895.5" cy="601.2" r="8.3" fill="#CCCCCC"/><circle cx="867.7" cy="615.8" r="8.3" fill="#CCCCCC"/><circle cx="803.0" cy="588.9" r="8.3" fill="#CCCCCC"/><circle cx="892.4" cy="602.0" r="8.3" fill="#CCCCCC"/><circle cx="812.3" cy="613.0" r="8.3" fill="#CCCCCC"/><circle cx="832.8" cy="575.7" r="8.3" fill="#CCCCCC"/><circle cx="822.0" cy="629.2" r="8.3" fill="#CCCCCC"/><circle cx="835.0" cy="632.4" r="8.3" fill="#CCCCCC"/><circle cx="839.6" cy="591.1" r="8.3" fill="#CCCCCC"/><circle cx="805.7" cy="593.8" r="8.3" fill="#CCCCCC"/>
<circle cx="221.3" cy="535.0" r="8.3" fill="#CCCCCC"/>
<circle cx="251.2" cy="549.0" r="8.3" fill="#CCCCCC"/>
<circle cx="305.8" cy="538.4" r="8.3" fill="#CCCCCC"/>
<circle cx="315.5" cy="603.9" r="8.3" fill="#CCCCCC"/>
<circle cx="433.0" cy="601.6" r="8.3" fill="#CCCCCC"/>
<circle cx="432.5" cy="647.3" r="8.3" fill="#CCCCCC"/>
<circle cx="464.2" cy="571.8" r="8.3" fill="#CCCCCC"/>
<circle cx="459.0" cy="595.6" r="8.3" fill="#CCCCCC"/>
<circle cx="474.8" cy="614.0" r="8.3" fill="#CCCCCC"/>
<circle cx="477.0" cy="578.0" r="8.3" fill="#CCCCCC"/>
<circle cx="478.2" cy="598.0" r="8.3" fill="#CCCCCC"/>
<circle cx="601.6" cy="287.6" r="8.3" fill="#CCCCCC"/>
<circle cx="606.8" cy="374.2" r="8.3" fill="#CCCCCC"/>
<circle cx="620.4" cy="382.0" r="8.3" fill="#CCCCCC"/>
<circle cx="609.8" cy="385.0" r="8.3" fill="#CCCCCC"/>
<circle cx="607.6" cy="408.3" r="8.3" fill="#CCCCCC"/>
<circle cx="622.3" cy="408.3" r="8.3" fill="#CCCCCC"/>
<circle cx="622.7" cy="443.0" r="8.3" fill="#CCCCCC"/>
<circle cx="609.8" cy="452.0" r="8.3" fill="#CCCCCC"/>
<circle cx="620.4" cy="464.0" r="8.3" fill="#CCCCCC"/>
<circle cx="630.2" cy="494.2" r="8.3" fill="#CCCCCC"/>
<circle cx="631.7" cy="509.3" r="8.3" fill="#CCCCCC"/>
<circle cx="636.2" cy="538.0" r="8.3" fill="#CCCCCC"/>
<circle cx="610.2" cy="385.3" r="8.3" fill="#CCCCCC"/>
<circle cx="621.8" cy="385.3" r="8.3" fill="#CCCCCC"/>
<circle cx="621.8" cy="442.2" r="8.3" fill="#CCCCCC"/>
<circle cx="616.5" cy="478.0" r="8.3" fill="#CCCCCC"/>
<circle cx="623.9" cy="491.7" r="8.3" fill="#CCCCCC"/>
<circle cx="626.0" cy="517.0" r="8.3" fill="#CCCCCC"/>
<circle cx="687.7" cy="279.4" r="8.3" fill="#CCCCCC"/>
<circle cx="678.6" cy="309.5" r="8.3" fill="#CCCCCC"/>
<circle cx="670.3" cy="358.1" r="8.3" fill="#CCCCCC"/>
<circle cx="684.3" cy="360.4" r="8.3" fill="#CCCCCC"/>
<circle cx="692.9" cy="375.0" r="8.3" fill="#CCCCCC"/>
<circle cx="689.9" cy="390.0" r="8.3" fill="#CCCCCC"/>
<circle cx="690.7" cy="405.1" r="8.3" fill="#CCCCCC"/>
<circle cx="677.1" cy="416.4" r="8.3" fill="#CCCCCC"/>
<circle cx="686.9" cy="424.7" r="8.3" fill="#CCCCCC"/>
<circle cx="687.7" cy="442.8" r="8.3" fill="#CCCCCC"/>
<circle cx="680.0" cy="434.6" r="8.3" fill="#CCCCCC"/>
<circle cx="655.8" cy="503.0" r="8.3" fill="#CCCCCC"/>
<circle cx="657.3" cy="536.4" r="8.3" fill="#CCCCCC"/>
<circle cx="464.5" cy="571.0" r="8.3" fill="#CCCCCC"/>
<circle cx="479.6" cy="577.0" r="8.3" fill="#CCCCCC"/>
<circle cx="503.7" cy="562.0" r="8.3" fill="#CCCCCC"/>
<circle cx="494.6" cy="574.0" r="8.3" fill="#CCCCCC"/>
<circle cx="517.2" cy="575.5" r="8.3" fill="#CCCCCC"/>
<circle cx="533.8" cy="559.0" r="8.3" fill="#CCCCCC"/>
<circle cx="484.0" cy="590.6" r="8.3" fill="#CCCCCC"/>
<circle cx="461.5" cy="595.0" r="8.3" fill="#CCCCCC"/>
<circle cx="475.0" cy="613.0" r="8.3" fill="#CCCCCC"/>
<circle cx="503.7" cy="619.0" r="8.3" fill="#CCCCCC"/>
<circle cx="530.8" cy="619.0" r="8.3" fill="#CCCCCC"/>
<circle cx="541.3" cy="632.8" r="8.3" fill="#CCCCCC"/>
<circle cx="509.7" cy="590.6" r="8.3" fill="#CCCCCC"/>
<circle cx="544.3" cy="599.6" r="8.3" fill="#CCCCCC"/>
<circle cx="545.0" cy="604.7" r="8.3" fill="#CCCCCC"/>
<circle cx="544.1" cy="635.4" r="8.3" fill="#CCCCCC"/>
<circle cx="571.5" cy="685.9" r="8.3" fill="#CCCCCC"/>
<circle cx="794.7" cy="534.8" r="8.3" fill="#CCCCCC"/>
<circle cx="803.0" cy="541.4" r="8.3" fill="#CCCCCC"/>
<circle cx="805.4" cy="549.7" r="8.3" fill="#CCCCCC"/>
<circle cx="819.5" cy="558.0" r="8.3" fill="#CCCCCC"/>
<circle cx="817.9" cy="528.2" r="8.3" fill="#CCCCCC"/>
<circle cx="839.4" cy="567.9" r="8.3" fill="#CCCCCC"/>
<circle cx="834.4" cy="579.5" r="8.3" fill="#CCCCCC"/>
<circle cx="841.0" cy="576.2" r="8.3" fill="#CCCCCC"/>
<circle cx="788.0" cy="576.2" r="8.3" fill="#CCCCCC"/>
<circle cx="786.4" cy="589.5" r="8.3" fill="#CCCCCC"/>
<circle cx="809.6" cy="576.2" r="8.3" fill="#CCCCCC"/>
<circle cx="811.2" cy="589.5" r="8.3" fill="#CCCCCC"/>
<circle cx="821.2" cy="586.1" r="8.3" fill="#CCCCCC"/>
<circle cx="849.3" cy="598.6" r="8.3" fill="#CCCCCC"/>
<circle cx="849.3" cy="614.3" r="8.3" fill="#CCCCCC"/>
<circle cx="836.1" cy="606.0" r="8.3" fill="#CCCCCC"/>
<circle cx="870.9" cy="601.1" r="8.3" fill="#CCCCCC"/>
<circle cx="885.8" cy="599.4" r="8.3" fill="#CCCCCC"/>
<circle cx="867.6" cy="609.3" r="8.3" fill="#CCCCCC"/>
<circle cx="884.1" cy="609.3" r="8.3" fill="#CCCCCC"/>
<circle cx="851.8" cy="631.7" r="8.3" fill="#CCCCCC"/>
<circle cx="836.1" cy="655.7" r="8.3" fill="#CCCCCC"/>
<circle cx="867.6" cy="655.7" r="8.3" fill="#CCCCCC"/>
<circle cx="781.4" cy="645.8" r="8.3" fill="#CCCCCC"/>
<circle cx="761.5" cy="652.4" r="8.3" fill="#CCCCCC"/>
<circle cx="748.3" cy="659.0" r="8.3" fill="#CCCCCC"/>
<circle cx="792.6" cy="535.4" r="8.3" fill="#CCCCCC"/>
<circle cx="817.6" cy="528.4" r="8.3" fill="#CCCCCC"/>
<circle cx="901.5" cy="616.8" r="8.3" fill="#CCCCCC"/>
<circle cx="911.3" cy="610.0" r="8.3" fill="#CCCCCC"/>
<circle cx="915.8" cy="625.8" r="8.3" fill="#CCCCCC"/>
<circle cx="912.8" cy="643.9" r="8.3" fill="#CCCCCC"/>
<circle cx="951.2" cy="604.8" r="8.3" fill="#CCCCCC"/>
<circle cx="955.7" cy="602.5" r="8.3" fill="#CCCCCC"/>
<circle cx="966.3" cy="619.1" r="8.3" fill="#CCCCCC"/>
<circle cx="939.2" cy="628.1" r="8.3" fill="#CCCCCC"/>
<circle cx="952.0" cy="637.9" r="8.3" fill="#CCCCCC"/>
<circle cx="1009.9" cy="585.2" r="8.3" fill="#CCCCCC"/>
<circle cx="1008.4" cy="606.3" r="8.3" fill="#CCCCCC"/>
<circle cx="1010.7" cy="622.8" r="8.3" fill="#CCCCCC"/>
<circle cx="1022.0" cy="619.1" r="8.3" fill="#CCCCCC"/>
<circle cx="1063.4" cy="619.1" r="8.3" fill="#CCCCCC"/>
<circle cx="607.2" cy="375.4" r="8.3" fill="#CCCCCC"/>
<circle cx="621.6" cy="381.7" r="8.3" fill="#CCCCCC"/>
<circle cx="609.9" cy="385.3" r="8.3" fill="#CCCCCC"/>
<circle cx="608.0" cy="408.8" r="8.3" fill="#CCCCCC"/>
<circle cx="622.5" cy="408.8" r="8.3" fill="#CCCCCC"/>
<circle cx="622.5" cy="443.1" r="8.3" fill="#CCCCCC"/>
<circle cx="609.9" cy="451.3" r="8.3" fill="#CCCCCC"/>
<circle cx="619.8" cy="465.7" r="8.3" fill="#CCCCCC"/>
<circle cx="612.6" cy="475.7" r="8.3" fill="#CCCCCC"/>
<circle cx="669.5" cy="361.8" r="8.3" fill="#CCCCCC"/>
<circle cx="684.0" cy="362.7" r="8.3" fill="#CCCCCC"/>
<circle cx="693.0" cy="376.3" r="8.3" fill="#CCCCCC"/>
<circle cx="691.2" cy="389.8" r="8.3" fill="#CCCCCC"/>
<circle cx="691.2" cy="403.4" r="8.3" fill="#CCCCCC"/>
<circle cx="676.7" cy="416.0" r="8.3" fill="#CCCCCC"/>
<circle cx="689.4" cy="423.3" r="8.3" fill="#CCCCCC"/>
<circle cx="685.8" cy="445.8" r="8.3" fill="#CCCCCC"/>
<circle cx="680.4" cy="450.4" r="8.3" fill="#CCCCCC"/>
<circle cx="675.0" cy="477.5" r="8.3" fill="#CCCCCC"/>
<circle cx="464.5" cy="571.8" r="8.3" fill="#CCCCCC"/>
<circle cx="479.6" cy="578.2" r="8.3" fill="#CCCCCC"/>
<circle cx="459.1" cy="595.8" r="8.3" fill="#CCCCCC"/>
<circle cx="503.6" cy="563.0" r="8.3" fill="#CCCCCC"/>
<circle cx="497.8" cy="574.8" r="8.3" fill="#CCCCCC"/>
<circle cx="515.4" cy="576.2" r="8.3" fill="#CCCCCC"/>
<circle cx="508.5" cy="571.3" r="8.3" fill="#CCCCCC"/>
<circle cx="487.0" cy="592.9" r="8.3" fill="#CCCCCC"/>
<circle cx="483.1" cy="598.7" r="8.3" fill="#CCCCCC"/>
<circle cx="484.0" cy="610.5" r="8.3" fill="#CCCCCC"/>
<circle cx="475.2" cy="614.4" r="8.3" fill="#CCCCCC"/>
<circle cx="503.6" cy="618.8" r="8.3" fill="#CCCCCC"/>
<circle cx="516.4" cy="600.7" r="8.3" fill="#CCCCCC"/>
<circle cx="511.5" cy="590.9" r="8.3" fill="#CCCCCC"/>
<circle cx="524.2" cy="588.0" r="8.3" fill="#CCCCCC"/>
<circle cx="537.9" cy="557.6" r="8.3" fill="#CCCCCC"/>
<circle cx="543.8" cy="572.3" r="8.3" fill="#CCCCCC"/>
<circle cx="532.0" cy="584.0" r="8.3" fill="#CCCCCC"/>
<circle cx="533.0" cy="597.8" r="8.3" fill="#CCCCCC"/>
<circle cx="545.7" cy="602.7" r="8.3" fill="#CCCCCC"/>
<circle cx="544.7" cy="612.4" r="8.3" fill="#CCCCCC"/>
<circle cx="531.0" cy="620.3" r="8.3" fill="#CCCCCC"/>
<circle cx="541.3" cy="635.4" r="8.3" fill="#CCCCCC"/>
<circle cx="817.8" cy="528.3" r="8.3" fill="#CCCCCC"/>
<circle cx="795.2" cy="536.6" r="8.3" fill="#CCCCCC"/>
<circle cx="805.0" cy="549.4" r="8.3" fill="#CCCCCC"/>
<circle cx="819.7" cy="558.2" r="8.3" fill="#CCCCCC"/>
<circle cx="838.3" cy="566.0" r="8.3" fill="#CCCCCC"/>
<circle cx="841.3" cy="572.9" r="8.3" fill="#CCCCCC"/>
<circle cx="834.4" cy="580.7" r="8.3" fill="#CCCCCC"/>
<circle cx="788.4" cy="577.8" r="8.3" fill="#CCCCCC"/>
<circle cx="788.4" cy="588.5" r="8.3" fill="#CCCCCC"/>
<circle cx="809.0" cy="575.8" r="8.3" fill="#CCCCCC"/>
<circle cx="809.0" cy="586.6" r="8.3" fill="#CCCCCC"/>
<circle cx="850.1" cy="598.3" r="8.3" fill="#CCCCCC"/>
<circle cx="848.1" cy="614.0" r="8.3" fill="#CCCCCC"/>
<circle cx="834.4" cy="606.1" r="8.3" fill="#CCCCCC"/>
<circle cx="820.7" cy="621.8" r="8.3" fill="#CCCCCC"/>
<circle cx="870.6" cy="606.1" r="8.3" fill="#CCCCCC"/>
<circle cx="872.6" cy="598.3" r="8.3" fill="#CCCCCC"/>
<circle cx="885.3" cy="603.2" r="8.3" fill="#CCCCCC"/>
<circle cx="885.3" cy="612.0" r="8.3" fill="#CCCCCC"/>
<circle cx="851.0" cy="631.6" r="8.3" fill="#CCCCCC"/>
<circle cx="789.4" cy="632.6" r="8.3" fill="#CCCCCC"/>
<circle cx="781.5" cy="643.3" r="8.3" fill="#CCCCCC"/>
<circle cx="538.7" cy="490.0" r="8.3" fill="#9FD022"/><circle cx="577.3" cy="512.7" r="8.3" fill="#9FD022"/><circle cx="581.8" cy="413.2" r="8.3" fill="#9FD022"/><circle cx="563.4" cy="424.8" r="8.3" fill="#9FD022"/><circle cx="542.0" cy="454.9" r="8.3" fill="#9FD022"/><circle cx="591.3" cy="479.3" r="8.3" fill="#9FD022"/><circle cx="528.5" cy="515.7" r="8.3" fill="#9FD022"/><circle cx="588.7" cy="506.7" r="8.3" fill="#9FD022"/><circle cx="590.2" cy="498.2" r="8.3" fill="#9FD022"/><circle cx="601.4" cy="505.0" r="8.3" fill="#9FD022"/><circle cx="538.5" cy="512.7" r="8.3" fill="#9FD022"/><circle cx="559.4" cy="499.6" r="8.3" fill="#9FD022"/><circle cx="566.4" cy="454.6" r="8.3" fill="#9FD022"/><circle cx="548.3" cy="454.6" r="8.3" fill="#9FD022"/><circle cx="589.6" cy="505.6" r="8.3" fill="#9FD022"/><circle cx="604.7" cy="490.8" r="8.3" fill="#9FD022"/><circle cx="565.5" cy="498.7" r="8.3" fill="#9FD022"/><circle cx="527.4" cy="488.8" r="8.3" fill="#9FD022"/><circle cx="555.5" cy="419.6" r="8.3" fill="#9FD022"/><circle cx="538.2" cy="458.7" r="8.3" fill="#9FD022"/><circle cx="570.2" cy="449.9" r="8.3" fill="#9FD022"/><circle cx="521.9" cy="485.3" r="8.3" fill="#9FD022"/><circle cx="601.8" cy="449.1" r="8.3" fill="#9FD022"/><circle cx="580.5" cy="524.2" r="8.3" fill="#9FD022"/><circle cx="588.4" cy="511.1" r="8.3" fill="#9FD022"/><circle cx="573.2" cy="417.3" r="8.3" fill="#9FD022"/><circle cx="552.7" cy="515.3" r="8.3" fill="#9FD022"/><circle cx="595.7" cy="506.3" r="8.3" fill="#9FD022"/><circle cx="533.6" cy="513.3" r="8.3" fill="#9FD022"/><circle cx="549.2" cy="494.3" r="8.3" fill="#9FD022"/><circle cx="570.0" cy="495.2" r="8.3" fill="#9FD022"/><circle cx="534.4" cy="480.6" r="8.3" fill="#9FD022"/><circle cx="567.9" cy="477.0" r="8.3" fill="#9FD022"/><circle cx="547.8" cy="495.8" r="8.3" fill="#9FD022"/><circle cx="546.2" cy="436.0" r="8.3" fill="#9FD022"/><circle cx="530.1" cy="489.8" r="8.3" fill="#9FD022"/><circle cx="521.5" cy="484.2" r="8.3" fill="#9FD022"/><circle cx="565.7" cy="470.3" r="8.3" fill="#9FD022"/><circle cx="539.6" cy="477.8" r="8.3" fill="#9FD022"/><circle cx="548.5" cy="510.6" r="8.3" fill="#9FD022"/><circle cx="560.3" cy="529.3" r="8.3" fill="#9FD022"/><circle cx="562.1" cy="460.8" r="8.3" fill="#9FD022"/><circle cx="576.0" cy="436.2" r="8.3" fill="#9FD022"/><circle cx="597.9" cy="497.3" r="8.3" fill="#9FD022"/><circle cx="538.7" cy="489.8" r="8.3" fill="#9FD022"/><circle cx="592.3" cy="431.0" r="8.3" fill="#9FD022"/><circle cx="568.6" cy="444.4" r="8.3" fill="#9FD022"/><circle cx="523.1" cy="500.1" r="8.3" fill="#9FD022"/><circle cx="585.5" cy="421.5" r="8.3" fill="#9FD022"/><circle cx="558.9" cy="471.9" r="8.3" fill="#9FD022"/><circle cx="545.4" cy="435.2" r="8.3" fill="#9FD022"/><circle cx="554.7" cy="414.1" r="8.3" fill="#9FD022"/><circle cx="593.6" cy="410.7" r="8.3" fill="#9FD022"/><circle cx="590.0" cy="425.4" r="8.3" fill="#9FD022"/><circle cx="542.7" cy="448.9" r="8.3" fill="#9FD022"/><circle cx="548.0" cy="456.3" r="8.3" fill="#9FD022"/><circle cx="594.8" cy="532.1" r="8.3" fill="#9FD022"/><circle cx="526.9" cy="506.3" r="8.3" fill="#9FD022"/><circle cx="544.5" cy="518.7" r="8.3" fill="#9FD022"/><circle cx="564.7" cy="412.6" r="8.3" fill="#9FD022"/><circle cx="594.0" cy="415.9" r="8.3" fill="#9FD022"/><circle cx="558.7" cy="446.6" r="8.3" fill="#9FD022"/><circle cx="546.5" cy="506.1" r="8.3" fill="#9FD022"/><circle cx="534.6" cy="494.6" r="8.3" fill="#9FD022"/><circle cx="575.7" cy="524.6" r="8.3" fill="#9FD022"/><circle cx="562.4" cy="522.5" r="8.3" fill="#9FD022"/><circle cx="555.2" cy="474.5" r="8.3" fill="#9FD022"/><circle cx="571.6" cy="511.3" r="8.3" fill="#9FD022"/><circle cx="596.7" cy="411.2" r="8.3" fill="#9FD022"/><circle cx="589.0" cy="469.0" r="8.3" fill="#9FD022"/><circle cx="581.2" cy="410.0" r="8.3" fill="#9FD022"/><circle cx="580.2" cy="515.0" r="8.3" fill="#9FD022"/><circle cx="553.7" cy="481.2" r="8.3" fill="#9FD022"/><circle cx="590.9" cy="494.2" r="8.3" fill="#9FD022"/><circle cx="541.6" cy="500.6" r="8.3" fill="#9FD022"/><circle cx="539.5" cy="503.7" r="8.3" fill="#9FD022"/><circle cx="545.3" cy="524.8" r="8.3" fill="#9FD022"/><circle cx="537.7" cy="512.8" r="8.3" fill="#9FD022"/><circle cx="592.7" cy="452.8" r="8.3" fill="#9FD022"/><circle cx="605.4" cy="500.6" r="8.3" fill="#9FD022"/><circle cx="559.2" cy="431.4" r="8.3" fill="#9FD022"/><circle cx="557.1" cy="520.0" r="8.3" fill="#9FD022"/><circle cx="563.9" cy="422.0" r="8.3" fill="#9FD022"/><circle cx="549.3" cy="461.0" r="8.3" fill="#9FD022"/><circle cx="532.5" cy="474.4" r="8.3" fill="#9FD022"/><circle cx="568.7" cy="437.7" r="8.3" fill="#9FD022"/><circle cx="595.6" cy="463.9" r="8.3" fill="#9FD022"/><circle cx="562.5" cy="510.6" r="8.3" fill="#9FD022"/><circle cx="534.7" cy="498.3" r="8.3" fill="#9FD022"/><circle cx="574.1" cy="454.5" r="8.3" fill="#9FD022"/><circle cx="593.5" cy="415.0" r="8.3" fill="#9FD022"/><circle cx="591.4" cy="416.5" r="8.3" fill="#9FD022"/><circle cx="599.3" cy="430.8" r="8.3" fill="#9FD022"/><circle cx="559.4" cy="479.3" r="8.3" fill="#9FD022"/><circle cx="537.3" cy="468.5" r="8.3" fill="#9FD022"/><circle cx="584.2" cy="442.2" r="8.3" fill="#9FD022"/><circle cx="578.8" cy="454.3" r="8.3" fill="#9FD022"/><circle cx="598.2" cy="497.6" r="8.3" fill="#9FD022"/><circle cx="524.3" cy="521.6" r="8.3" fill="#9FD022"/><circle cx="599.8" cy="508.2" r="8.3" fill="#9FD022"/>
<circle cx="596.4" cy="405" r="8.3" fill="#9FD022"/>
<circle cx="598.5" cy="414" r="8.3" fill="#9FD022"/>
<circle cx="598.3" cy="423" r="8.3" fill="#9FD022"/>
<circle cx="596.8" cy="432" r="8.3" fill="#9FD022"/>
<circle cx="597.5" cy="441" r="8.3" fill="#9FD022"/>
<circle cx="597.3" cy="450" r="8.3" fill="#9FD022"/>
<circle cx="598.0" cy="459" r="8.3" fill="#9FD022"/>
<circle cx="598.4" cy="468" r="8.3" fill="#9FD022"/>
<circle cx="596.3" cy="477" r="8.3" fill="#9FD022"/>
<circle cx="596.1" cy="486" r="8.3" fill="#9FD022"/>
<circle cx="598.5" cy="495" r="8.3" fill="#9FD022"/>
<circle cx="597.3" cy="504" r="8.3" fill="#9FD022"/>
<circle cx="598.3" cy="513" r="8.3" fill="#9FD022"/>
<circle cx="596.0" cy="522" r="8.3" fill="#9FD022"/>
<circle cx="574.8" cy="133.3" r="8.3" fill="#9FD022"/>
<circle cx="571.4" cy="236.9" r="8.3" fill="#9FD022"/>
<circle cx="563.0" cy="261.2" r="8.3" fill="#9FD022"/>
<circle cx="430.7" cy="281.2" r="8.3" fill="#9FD022"/>
<circle cx="541.0" cy="286.4" r="8.3" fill="#9FD022"/>
<circle cx="587.7" cy="288.3" r="8.3" fill="#9FD022"/>
<circle cx="530.0" cy="320.2" r="8.3" fill="#9FD022"/>
<circle cx="552.9" cy="349.3" r="8.3" fill="#9FD022"/>
<circle cx="562.9" cy="367.2" r="8.3" fill="#9FD022"/>
<circle cx="589.5" cy="363.9" r="8.3" fill="#9FD022"/>
<circle cx="338.1" cy="416.7" r="8.3" fill="#9FD022"/>
<circle cx="432.3" cy="388.5" r="8.3" fill="#9FD022"/>
<circle cx="443.2" cy="406.5" r="8.3" fill="#9FD022"/>
<circle cx="420.1" cy="422.8" r="8.3" fill="#9FD022"/>
<circle cx="471.4" cy="383.3" r="8.3" fill="#9FD022"/>
<circle cx="469.8" cy="410.8" r="8.3" fill="#9FD022"/>
<circle cx="208.9" cy="484.9" r="8.3" fill="#9FD022"/>
<circle cx="424.6" cy="495.8" r="8.3" fill="#9FD022"/>
<circle cx="474.8" cy="483.8" r="8.3" fill="#9FD022"/>
<circle cx="512.1" cy="397.4" r="8.3" fill="#9FD022"/>
<circle cx="494.2" cy="408.5" r="8.3" fill="#9FD022"/>
<circle cx="505.8" cy="410.6" r="8.3" fill="#9FD022"/>
<circle cx="504.2" cy="419.0" r="8.3" fill="#9FD022"/>
<circle cx="512.7" cy="436.4" r="8.3" fill="#9FD022"/>
<circle cx="556.9" cy="396.9" r="8.3" fill="#9FD022"/>
<circle cx="579.4" cy="392.7" r="8.3" fill="#9FD022"/>
<circle cx="573.3" cy="405.3" r="8.3" fill="#9FD022"/>
<circle cx="596.0" cy="402.7" r="8.3" fill="#9FD022"/>
<circle cx="545.9" cy="416.4" r="8.3" fill="#9FD022"/>
<circle cx="562.7" cy="421.1" r="8.3" fill="#9FD022"/>
<circle cx="588.0" cy="414.8" r="8.3" fill="#9FD022"/>
<circle cx="596.5" cy="415.8" r="8.3" fill="#9FD022"/>
<circle cx="552.2" cy="436.4" r="8.3" fill="#9FD022"/>
<circle cx="551.1" cy="449.6" r="8.3" fill="#9FD022"/>
<circle cx="570.1" cy="438.0" r="8.3" fill="#9FD022"/>
<circle cx="579.6" cy="447.5" r="8.3" fill="#9FD022"/>
<circle cx="599.6" cy="444.3" r="8.3" fill="#9FD022"/>
<circle cx="519.5" cy="465.4" r="8.3" fill="#9FD022"/>
<circle cx="500.5" cy="478.0" r="8.3" fill="#9FD022"/>
<circle cx="543.8" cy="464.3" r="8.3" fill="#9FD022"/>
<circle cx="534.3" cy="472.8" r="8.3" fill="#9FD022"/>
<circle cx="563.8" cy="462.2" r="8.3" fill="#9FD022"/>
<circle cx="520.6" cy="486.5" r="8.3" fill="#9FD022"/>
<circle cx="505.8" cy="493.9" r="8.3" fill="#9FD022"/>
<circle cx="507.9" cy="509.1" r="8.3" fill="#9FD022"/>
<circle cx="524.8" cy="516.0" r="8.3" fill="#9FD022"/>
<circle cx="539.5" cy="502.3" r="8.3" fill="#9FD022"/>
<circle cx="475.8" cy="483.7" r="8.3" fill="#9FD022"/>
<circle cx="500.7" cy="477.6" r="8.3" fill="#9FD022"/>
<circle cx="519.0" cy="464.8" r="8.3" fill="#9FD022"/>
<circle cx="505.9" cy="492.7" r="8.3" fill="#9FD022"/>
<circle cx="508.2" cy="509.3" r="8.3" fill="#9FD022"/>
<circle cx="703.9" cy="502.1" r="8.3" fill="#F9A2CF"/><circle cx="767.4" cy="527.2" r="8.3" fill="#F9A2CF"/><circle cx="723.0" cy="454.8" r="8.3" fill="#F9A2CF"/><circle cx="777.0" cy="497.4" r="8.3" fill="#F9A2CF"/><circle cx="726.7" cy="500.1" r="8.3" fill="#F9A2CF"/><circle cx="737.7" cy="510.0" r="8.3" fill="#F9A2CF"/><circle cx="705.2" cy="451.4" r="8.3" fill="#F9A2CF"/><circle cx="721.8" cy="512.8" r="8.3" fill="#F9A2CF"/><circle cx="765.1" cy="443.6" r="8.3" fill="#F9A2CF"/><circle cx="755.7" cy="498.0" r="8.3" fill="#F9A2CF"/><circle cx="710.6" cy="496.7" r="8.3" fill="#F9A2CF"/><circle cx="705.7" cy="463.4" r="8.3" fill="#F9A2CF"/><circle cx="701.1" cy="449.4" r="8.3" fill="#F9A2CF"/><circle cx="762.2" cy="520.0" r="8.3" fill="#F9A2CF"/><circle cx="760.1" cy="494.8" r="8.3" fill="#F9A2CF"/><circle cx="712.5" cy="437.8" r="8.3" fill="#F9A2CF"/><circle cx="714.0" cy="475.6" r="8.3" fill="#F9A2CF"/><circle cx="716.8" cy="512.2" r="8.3" fill="#F9A2CF"/><circle cx="749.8" cy="438.6" r="8.3" fill="#F9A2CF"/><circle cx="724.1" cy="430.8" r="8.3" fill="#F9A2CF"/><circle cx="752.7" cy="437.6" r="8.3" fill="#F9A2CF"/><circle cx="747.4" cy="500.2" r="8.3" fill="#F9A2CF"/><circle cx="753.8" cy="475.9" r="8.3" fill="#F9A2CF"/><circle cx="747.9" cy="474.0" r="8.3" fill="#F9A2CF"/><circle cx="746.7" cy="452.8" r="8.3" fill="#F9A2CF"/><circle cx="792.3" cy="527.1" r="8.3" fill="#F9A2CF"/><circle cx="773.4" cy="488.2" r="8.3" fill="#F9A2CF"/><circle cx="731.9" cy="488.0" r="8.3" fill="#F9A2CF"/><circle cx="726.6" cy="447.7" r="8.3" fill="#F9A2CF"/><circle cx="764.7" cy="477.4" r="8.3" fill="#F9A2CF"/><circle cx="721.3" cy="468.8" r="8.3" fill="#F9A2CF"/><circle cx="695.5" cy="460.8" r="8.3" fill="#F9A2CF"/><circle cx="733.2" cy="454.4" r="8.3" fill="#F9A2CF"/><circle cx="714.6" cy="452.1" r="8.3" fill="#F9A2CF"/><circle cx="720.4" cy="491.6" r="8.3" fill="#F9A2CF"/><circle cx="780.2" cy="466.8" r="8.3" fill="#F9A2CF"/><circle cx="756.8" cy="490.8" r="8.3" fill="#F9A2CF"/><circle cx="750.7" cy="516.7" r="8.3" fill="#F9A2CF"/><circle cx="734.1" cy="468.4" r="8.3" fill="#F9A2CF"/><circle cx="781.6" cy="461.0" r="8.3" fill="#F9A2CF"/><circle cx="746.1" cy="463.7" r="8.3" fill="#F9A2CF"/><circle cx="722.0" cy="438.7" r="8.3" fill="#F9A2CF"/><circle cx="714.8" cy="501.0" r="8.3" fill="#F9A2CF"/><circle cx="707.8" cy="455.1" r="8.3" fill="#F9A2CF"/><circle cx="743.6" cy="485.4" r="8.3" fill="#F9A2CF"/><circle cx="735.8" cy="510.8" r="8.3" fill="#F9A2CF"/><circle cx="721.3" cy="466.8" r="8.3" fill="#F9A2CF"/><circle cx="741.0" cy="441.4" r="8.3" fill="#F9A2CF"/><circle cx="717.3" cy="443.3" r="8.3" fill="#F9A2CF"/><circle cx="769.3" cy="451.3" r="8.3" fill="#F9A2CF"/><circle cx="766.8" cy="497.2" r="8.3" fill="#F9A2CF"/><circle cx="732.6" cy="526.4" r="8.3" fill="#F9A2CF"/><circle cx="768.0" cy="486.7" r="8.3" fill="#F9A2CF"/><circle cx="696.8" cy="470.8" r="8.3" fill="#F9A2CF"/><circle cx="722.4" cy="477.5" r="8.3" fill="#F9A2CF"/><circle cx="800.2" cy="519.1" r="8.3" fill="#F9A2CF"/><circle cx="698.6" cy="499.7" r="8.3" fill="#F9A2CF"/><circle cx="702.7" cy="519.4" r="8.3" fill="#F9A2CF"/><circle cx="793.4" cy="515.4" r="8.3" fill="#F9A2CF"/><circle cx="707.2" cy="467.9" r="8.3" fill="#F9A2CF"/><circle cx="743.8" cy="510.7" r="8.3" fill="#F9A2CF"/><circle cx="749.2" cy="483.6" r="8.3" fill="#F9A2CF"/><circle cx="720.3" cy="499.8" r="8.3" fill="#F9A2CF"/><circle cx="796.5" cy="518.2" r="8.3" fill="#F9A2CF"/><circle cx="737.8" cy="474.9" r="8.3" fill="#F9A2CF"/><circle cx="773.7" cy="530.1" r="8.3" fill="#F9A2CF"/><circle cx="752.5" cy="516.1" r="8.3" fill="#F9A2CF"/><circle cx="743.0" cy="523.0" r="8.3" fill="#F9A2CF"/><circle cx="699.5" cy="474.1" r="8.3" fill="#F9A2CF"/><circle cx="758.7" cy="511.8" r="8.3" fill="#F9A2CF"/><circle cx="740.7" cy="499.7" r="8.3" fill="#F9A2CF"/><circle cx="791.9" cy="478.1" r="8.3" fill="#F9A2CF"/><circle cx="736.6" cy="482.7" r="8.3" fill="#F9A2CF"/><circle cx="705.4" cy="451.3" r="8.3" fill="#F9A2CF"/><circle cx="718.9" cy="454.8" r="8.3" fill="#F9A2CF"/><circle cx="770.1" cy="500.3" r="8.3" fill="#F9A2CF"/><circle cx="767.1" cy="509.7" r="8.3" fill="#F9A2CF"/><circle cx="740.8" cy="451.6" r="8.3" fill="#F9A2CF"/><circle cx="778.2" cy="493.9" r="8.3" fill="#F9A2CF"/><circle cx="734.9" cy="500.9" r="8.3" fill="#F9A2CF"/><circle cx="736.2" cy="491.5" r="8.3" fill="#F9A2CF"/><circle cx="746.5" cy="507.6" r="8.3" fill="#F9A2CF"/><circle cx="732.0" cy="480.4" r="8.3" fill="#F9A2CF"/><circle cx="711.9" cy="495.1" r="8.3" fill="#F9A2CF"/><circle cx="706.9" cy="518.4" r="8.3" fill="#F9A2CF"/><circle cx="723.5" cy="523.4" r="8.3" fill="#F9A2CF"/><circle cx="753.6" cy="444.1" r="8.3" fill="#F9A2CF"/><circle cx="752.2" cy="499.9" r="8.3" fill="#F9A2CF"/><circle cx="748.1" cy="494.9" r="8.3" fill="#F9A2CF"/><circle cx="711.7" cy="512.1" r="8.3" fill="#F9A2CF"/><circle cx="694.2" cy="481.4" r="8.3" fill="#F9A2CF"/><circle cx="760.0" cy="523.4" r="8.3" fill="#F9A2CF"/><circle cx="727.5" cy="470.4" r="8.3" fill="#F9A2CF"/><circle cx="746.9" cy="491.8" r="8.3" fill="#F9A2CF"/><circle cx="732.2" cy="464.9" r="8.3" fill="#F9A2CF"/><circle cx="790.9" cy="486.5" r="8.3" fill="#F9A2CF"/><circle cx="732.5" cy="514.3" r="8.3" fill="#F9A2CF"/><circle cx="693.2" cy="460.1" r="8.3" fill="#F9A2CF"/><circle cx="714.6" cy="511.6" r="8.3" fill="#F9A2CF"/><circle cx="704.7" cy="517.6" r="8.3" fill="#F9A2CF"/>
<circle cx="699.8" cy="446" r="8.3" fill="#F9A2CF"/>
<circle cx="700.7" cy="455" r="8.3" fill="#F9A2CF"/>
<circle cx="699.2" cy="464" r="8.3" fill="#F9A2CF"/>
<circle cx="701.3" cy="473" r="8.3" fill="#F9A2CF"/>
<circle cx="701.2" cy="482" r="8.3" fill="#F9A2CF"/>
<circle cx="698.6" cy="491" r="8.3" fill="#F9A2CF"/>
<circle cx="698.6" cy="500" r="8.3" fill="#F9A2CF"/>
<circle cx="700.1" cy="509" r="8.3" fill="#F9A2CF"/>
<circle cx="701.3" cy="518" r="8.3" fill="#F9A2CF"/>
<circle cx="703.2" cy="47.1" r="8.3" fill="#F9A2CF"/>
<circle cx="707.9" cy="107.0" r="8.3" fill="#F9A2CF"/>
<circle cx="777.2" cy="124.1" r="8.3" fill="#F9A2CF"/>
<circle cx="725.1" cy="201.3" r="8.3" fill="#F9A2CF"/>
<circle cx="748.0" cy="234.0" r="8.3" fill="#F9A2CF"/>
<circle cx="755.9" cy="249.3" r="8.3" fill="#F9A2CF"/>
<circle cx="827.9" cy="251.4" r="8.3" fill="#F9A2CF"/>
<circle cx="719.3" cy="279.8" r="8.3" fill="#F9A2CF"/>
<circle cx="758.1" cy="279.8" r="8.3" fill="#F9A2CF"/>
<circle cx="752.4" cy="298.2" r="8.3" fill="#F9A2CF"/>
<circle cx="750.9" cy="305.7" r="8.3" fill="#F9A2CF"/>
<circle cx="822.4" cy="306.9" r="8.3" fill="#F9A2CF"/>
<circle cx="712.5" cy="320.0" r="8.3" fill="#F9A2CF"/>
<circle cx="761.7" cy="332.1" r="8.3" fill="#F9A2CF"/>
<circle cx="701.2" cy="347.9" r="8.3" fill="#F9A2CF"/>
<circle cx="719.3" cy="340.4" r="8.3" fill="#F9A2CF"/>
<circle cx="729.1" cy="343.4" r="8.3" fill="#F9A2CF"/>
<circle cx="717.0" cy="349.4" r="8.3" fill="#F9A2CF"/>
<circle cx="838.3" cy="353.6" r="8.3" fill="#F9A2CF"/>
<circle cx="726.8" cy="363.7" r="8.3" fill="#F9A2CF"/>
<circle cx="699.7" cy="388.6" r="8.3" fill="#F9A2CF"/>
<circle cx="720.8" cy="389.3" r="8.3" fill="#F9A2CF"/>
<circle cx="731.3" cy="382.5" r="8.3" fill="#F9A2CF"/>
<circle cx="739.6" cy="382.5" r="8.3" fill="#F9A2CF"/>
<circle cx="752.4" cy="384.8" r="8.3" fill="#F9A2CF"/>
<circle cx="765.2" cy="384.0" r="8.3" fill="#F9A2CF"/>
<circle cx="766.0" cy="393.8" r="8.3" fill="#F9A2CF"/>
<circle cx="763.7" cy="408.1" r="8.3" fill="#F9A2CF"/>
<circle cx="730.6" cy="408.9" r="8.3" fill="#F9A2CF"/>
<circle cx="711.7" cy="415.7" r="8.3" fill="#F9A2CF"/>
<circle cx="698.2" cy="425.5" r="8.3" fill="#F9A2CF"/>
<circle cx="819.4" cy="436.0" r="8.3" fill="#F9A2CF"/>
<circle cx="844.3" cy="398.3" r="8.3" fill="#F9A2CF"/>
<circle cx="847.3" cy="383.3" r="8.3" fill="#F9A2CF"/>
<circle cx="850.1" cy="384.2" r="8.3" fill="#F9A2CF"/>
<circle cx="844.4" cy="398.1" r="8.3" fill="#F9A2CF"/>
<circle cx="794.6" cy="447.3" r="8.3" fill="#F9A2CF"/>
<circle cx="845.0" cy="447.3" r="8.3" fill="#F9A2CF"/>
<circle cx="697.6" cy="426.7" r="8.3" fill="#F9A2CF"/>
<circle cx="712.3" cy="418.9" r="8.3" fill="#F9A2CF"/>
<circle cx="795.5" cy="453.2" r="8.3" fill="#F9A2CF"/>
<circle cx="819.2" cy="436.5" r="8.3" fill="#F9A2CF"/>
<circle cx="795.2" cy="453.2" r="8.3" fill="#F9A2CF"/>
<circle cx="846.7" cy="450.5" r="8.3" fill="#F9A2CF"/>
<circle cx="874.5" cy="460.4" r="8.3" fill="#F9A2CF"/>
<circle cx="828.9" cy="467.7" r="8.3" fill="#F9A2CF"/>
<circle cx="789.8" cy="473.5" r="8.3" fill="#F9A2CF"/>
<circle cx="851.1" cy="489.8" r="8.3" fill="#F9A2CF"/>
<circle cx="821.0" cy="496.6" r="8.3" fill="#F9A2CF"/>
<circle cx="819.6" cy="504.7" r="8.3" fill="#F9A2CF"/>
<circle cx="899.6" cy="497.9" r="8.3" fill="#F9A2CF"/>
<circle cx="849.5" cy="511.5" r="8.3" fill="#F9A2CF"/>
<circle cx="858.9" cy="514.9" r="8.3" fill="#F9A2CF"/>
<circle cx="903.0" cy="527.1" r="8.3" fill="#F9A2CF"/>
<circle cx="789.8" cy="501.3" r="8.3" fill="#F9A2CF"/>
<circle cx="776.3" cy="504.0" r="8.3" fill="#F9A2CF"/>
<circle cx="792.5" cy="517.6" r="8.3" fill="#F9A2CF"/>
<circle cx="807.4" cy="523.0" r="8.3" fill="#F9A2CF"/>
<circle cx="774.9" cy="527.1" r="8.3" fill="#F9A2CF"/>
<circle cx="775.6" cy="505.0" r="8.3" fill="#F9A2CF"/>
<circle cx="789.7" cy="503.3" r="8.3" fill="#F9A2CF"/>
<circle cx="793.0" cy="518.2" r="8.3" fill="#F9A2CF"/>
<rect x="167.0" y="15.5" width="938.7" height="713.1" fill="none" stroke="#444" stroke-width="1.9"/>
<line x1="159.5" y1="696.7" x2="167.0" y2="696.7" stroke="#333" stroke-width="2.2"/>
<text x="153" y="710.2" font-family="Liberation Sans" font-size="38" fill="#4D4D4D" text-anchor="end">0</text>
<line x1="159.5" y1="566.9" x2="167.0" y2="566.9" stroke="#333" stroke-width="2.2"/>
<text x="153" y="580.4" font-family="Liberation Sans" font-size="38" fill="#4D4D4D" text-anchor="end">1</text>
<line x1="159.5" y1="437.1" x2="167.0" y2="437.1" stroke="#333" stroke-width="2.2"/>
<text x="153" y="450.6" font-family="Liberation Sans" font-size="38" fill="#4D4D4D" text-anchor="end">2</text>
<line x1="159.5" y1="307.3" x2="167.0" y2="307.3" stroke="#333" stroke-width="2.2"/>
<text x="153" y="320.8" font-family="Liberation Sans" font-size="38" fill="#4D4D4D" text-anchor="end">3</text>
<line x1="159.5" y1="177.5" x2="167.0" y2="177.5" stroke="#333" stroke-width="2.2"/>
<text x="153" y="191.0" font-family="Liberation Sans" font-size="38" fill="#4D4D4D" text-anchor="end">4</text>
<line x1="159.5" y1="47.7" x2="167.0" y2="47.7" stroke="#333" stroke-width="2.2"/>
<text x="153" y="61.2" font-family="Liberation Sans" font-size="38" fill="#4D4D4D" text-anchor="end">5</text>
<line x1="284.1" y1="728.6" x2="284.1" y2="736" stroke="#333" stroke-width="2.2"/>
<text x="284.1" y="769" font-family="Liberation Sans" font-size="38" fill="#4D4D4D" text-anchor="middle">−2</text>
<line x1="466.2" y1="728.6" x2="466.2" y2="736" stroke="#333" stroke-width="2.2"/>
<text x="466.2" y="769" font-family="Liberation Sans" font-size="38" fill="#4D4D4D" text-anchor="middle">−1</text>
<line x1="648.3" y1="728.6" x2="648.3" y2="736" stroke="#333" stroke-width="2.2"/>
<text x="648.3" y="769" font-family="Liberation Sans" font-size="38" fill="#4D4D4D" text-anchor="middle">0</text>
<line x1="830.4" y1="728.6" x2="830.4" y2="736" stroke="#333" stroke-width="2.2"/>
<text x="830.4" y="769" font-family="Liberation Sans" font-size="38" fill="#4D4D4D" text-anchor="middle">1</text>
<line x1="1012.5" y1="728.6" x2="1012.5" y2="736" stroke="#333" stroke-width="2.2"/>
<text x="1012.5" y="769" font-family="Liberation Sans" font-size="38" fill="#4D4D4D" text-anchor="middle">2</text>
<text x="636" y="811.5" font-family="Liberation Sans" font-size="38" fill="#000" text-anchor="middle">log2 (Fold change)</text>
<text transform="translate(117.8,374) rotate(-90)" x="0" y="0" font-family="Liberation Sans" font-size="38.6" fill="#000" text-anchor="middle">−log10 (P value)</text>
<circle cx="1170" cy="348" r="8.5" fill="#F9A2CF"/>
<text x="1207" y="362" font-family="Liberation Sans" font-size="38" fill="#000">Up</text>
<circle cx="1170" cy="392" r="8.5" fill="#9FD022"/>
<text x="1207" y="406" font-family="Liberation Sans" font-size="38" fill="#000">Down</text>
<circle cx="1170" cy="436" r="8.5" fill="#CCCCCC"/>
<text x="1207" y="450" font-family="Liberation Sans" font-size="38" fill="#000">None</text>
</g>
<g id="panelB">
<text x="4.8" y="864.5" font-family="Liberation Sans" font-weight="bold" font-size="34.5" fill="#000">B</text>
<line x1="181" y1="936" x2="181" y2="1147" stroke="#000" stroke-width="4"/>
<line x1="181" y1="1177.5" x2="181" y2="1388" stroke="#000" stroke-width="4"/>
<line x1="153" y1="938" x2="181" y2="938" stroke="#000" stroke-width="4"/>
<text x="150" y="951" font-family="Liberation Sans" font-size="37.5" fill="#000" text-anchor="end">2500</text>
<line x1="153" y1="990" x2="181" y2="990" stroke="#000" stroke-width="4"/>
<text x="150" y="1003" font-family="Liberation Sans" font-size="37.5" fill="#000" text-anchor="end">2000</text>
<line x1="153" y1="1041.5" x2="181" y2="1041.5" stroke="#000" stroke-width="4"/>
<text x="150" y="1054.5" font-family="Liberation Sans" font-size="37.5" fill="#000" text-anchor="end">1500</text>
<line x1="153" y1="1094" x2="181" y2="1094" stroke="#000" stroke-width="4"/>
<text x="150" y="1107" font-family="Liberation Sans" font-size="37.5" fill="#000" text-anchor="end">1000</text>
<line x1="169" y1="1146" x2="193" y2="1146" stroke="#000" stroke-width="4"/>
<text x="150" y="1159" font-family="Liberation Sans" font-size="37.5" fill="#000" text-anchor="end">500</text>
<line x1="169" y1="1179" x2="193" y2="1179" stroke="#000" stroke-width="4"/>
<text x="160" y="1192" font-family="Liberation Sans" font-size="37.5" fill="#000" text-anchor="end">300</text>
<line x1="162" y1="1248.5" x2="181" y2="1248.5" stroke="#000" stroke-width="4"/>
<text x="160" y="1261.5" font-family="Liberation Sans" font-size="37.5" fill="#000" text-anchor="end">200</text>
<line x1="162" y1="1317.5" x2="181" y2="1317.5" stroke="#000" stroke-width="4"/>
<text x="160" y="1330.5" font-family="Liberation Sans" font-size="37.5" fill="#000" text-anchor="end">100</text>
<line x1="162" y1="1386.5" x2="181" y2="1386.5" stroke="#000" stroke-width="4"/>
<text x="160" y="1399.5" font-family="Liberation Sans" font-size="37.5" fill="#000" text-anchor="end">0</text>
<line x1="161" y1="1386.5" x2="1102.5" y2="1386.5" stroke="#000" stroke-width="4"/>
<line x1="400" y1="1386" x2="400" y2="1405" stroke="#000" stroke-width="4"/>
<line x1="882" y1="1386" x2="882" y2="1405" stroke="#000" stroke-width="4"/>
<rect x="225" y="1119" width="86.0" height="27.0" fill="#C8C8C8"/>
<rect x="225" y="1179" width="86.0" height="205.5" fill="#C8C8C8"/>
<rect x="356.5" y="1328.5" width="86.5" height="56.0" fill="#FF9100"/>
<rect x="488.5" y="1328.5" width="86.5" height="56.0" fill="#5BC5F5"/>
<rect x="708" y="957.5" width="86.5" height="188.5" fill="#C8C8C8"/>
<rect x="708" y="1179" width="86.5" height="205.5" fill="#C8C8C8"/>
<rect x="839" y="1284" width="86.5" height="100.5" fill="#FF9100"/>
<rect x="971" y="1292" width="86.5" height="92.5" fill="#5BC5F5"/>
<text x="400" y="1441.5" font-family="Liberation Sans" font-size="37.5" fill="#000" text-anchor="middle">Protein</text>
<text x="882" y="1441.5" font-family="Liberation Sans" font-size="37.5" fill="#000" text-anchor="middle">Phosphosite</text>
<text transform="translate(53,1151) rotate(-90)" font-family="Liberation Sans" font-size="41.5" fill="#000" text-anchor="middle">Number</text>
<rect x="1160" y="1016.5" width="45.5" height="32.0" fill="#C8C8C8"/>
<text x="1227" y="1046.0" font-family="Liberation Sans" font-size="38" fill="#000">Total</text>
<rect x="1160" y="1075.8" width="45.5" height="32.0" fill="#FF9100"/>
<text x="1227" y="1105.3" font-family="Liberation Sans" font-size="38" fill="#000">Up</text>
<rect x="1160" y="1135.1" width="45.5" height="32.0" fill="#5BC5F5"/>
<text x="1227" y="1164.6" font-family="Liberation Sans" font-size="38" fill="#000">Down</text>
</g>
<g id="panelC">
<text x="4.5" y="1540" font-family="Liberation Sans" font-weight="bold" font-size="34.5" fill="#000">C</text>
<rect x="155" y="1704.80" width="154.0" height="6.60" fill="#BCDF9D"/>
<rect x="155" y="1710.80" width="154.0" height="19.80" fill="#A0D276"/>
<rect x="155" y="1730.00" width="154.0" height="6.60" fill="#C3E2A7"/>
<rect x="155" y="1736.00" width="154.0" height="6.60" fill="#A7D580"/>
<rect x="155" y="1742.00" width="154.0" height="28.60" fill="#82C54E"/>
<rect x="155" y="1770.00" width="154.0" height="23.60" fill="#A0D276"/>
<rect x="155" y="1793.00" width="154.0" height="20.60" fill="#BCDF9D"/>
<rect x="155" y="1813.00" width="154.0" height="12.60" fill="#AFD88A"/>
<rect x="155" y="1825.00" width="154.0" height="12.60" fill="#B6DC93"/>
<rect x="155" y="1837.00" width="154.0" height="14.60" fill="#CAE5B0"/>
<rect x="155" y="1851.00" width="154.0" height="20.60" fill="#A0D276"/>
<rect x="155" y="1871.00" width="154.0" height="22.60" fill="#82C54E"/>
<rect x="155" y="1893.00" width="154.0" height="12.60" fill="#BCDF9D"/>
<rect x="155" y="1905.00" width="154.0" height="12.60" fill="#AFD88A"/>
<rect x="155" y="1917.00" width="154.0" height="18.40" fill="#8AC859"/>
<rect x="155" y="1934.80" width="154.0" height="18.70" fill="#A7D580"/>
<rect x="155" y="1952.90" width="154.0" height="6.70" fill="#CAE5B0"/>
<rect x="155" y="1959.00" width="154.0" height="11.40" fill="#AFD88A"/>
<rect x="155" y="1969.80" width="154.0" height="9.00" fill="#92CB63"/>
<rect x="155" y="1978.20" width="154.0" height="12.60" fill="#AFD88A"/>
<rect x="155" y="1990.20" width="154.0" height="7.90" fill="#EBF5E1"/>
<rect x="155" y="1997.50" width="154.0" height="10.20" fill="#CAE5B0"/>
<rect x="155" y="2007.10" width="154.0" height="19.90" fill="#D8ECC4"/>
<rect x="155" y="2026.40" width="154.0" height="7.80" fill="#F2F9EB"/>
<rect x="155" y="2033.60" width="154.0" height="7.80" fill="#B38BFF"/>
<rect x="155" y="2040.80" width="154.0" height="11.50" fill="#8A5DFF"/>
<rect x="155" y="2051.70" width="154.0" height="6.60" fill="#DCC4FF"/>
<rect x="155" y="2057.70" width="154.0" height="6.60" fill="#B38BFF"/>
<rect x="155" y="2063.70" width="154.0" height="7.90" fill="#D4B9FF"/>
<rect x="155" y="2071.00" width="154.0" height="12.60" fill="#AA80FF"/>
<rect x="155" y="2083.00" width="154.0" height="16.30" fill="#502BFF"/>
<rect x="155" y="2098.70" width="154.0" height="15.00" fill="#9569FF"/>
<rect x="155" y="2113.10" width="154.0" height="22.30" fill="#7145FF"/>
<rect x="155" y="2134.80" width="154.0" height="9.10" fill="#B38BFF"/>
<rect x="155" y="2143.30" width="154.0" height="15.00" fill="#6A3FFF"/>
<rect x="155" y="2157.70" width="154.0" height="7.20" fill="#9569FF"/>
<rect x="155" y="2164.30" width="154.0" height="14.30" fill="#DCC4FF"/>
<rect x="155" y="2178.00" width="154.0" height="11.50" fill="#AA80FF"/>
<rect x="155" y="2188.90" width="154.0" height="7.80" fill="#CCADFF"/>
<rect x="155" y="2196.10" width="154.0" height="19.90" fill="#8A5DFF"/>
<rect x="155" y="2215.40" width="154.0" height="13.90" fill="#AA80FF"/>
<rect x="155" y="2228.70" width="154.0" height="11.40" fill="#D4B9FF"/>
<rect x="155" y="2239.50" width="154.0" height="13.90" fill="#B38BFF"/>
<rect x="155" y="2252.80" width="154.0" height="19.80" fill="#EEE2FF"/>
<rect x="155" y="2272.00" width="154.0" height="28.40" fill="#A074FF"/>
<rect x="155" y="2299.80" width="154.0" height="17.40" fill="#7145FF"/>
<rect x="155" y="2316.60" width="154.0" height="17.50" fill="#AA80FF"/>
<rect x="155" y="2333.50" width="154.0" height="4.20" fill="#E3D0FF"/>
<rect x="155" y="2337.10" width="154.0" height="12.70" fill="#B38BFF"/>
<rect x="155" y="2349.20" width="154.0" height="18.60" fill="#7E52FF"/>
<rect x="155" y="2367.20" width="154.0" height="21.90" fill="#8457FF"/>
<rect x="155" y="1704.80" width="154.0" height="2.41" fill="#ADD888"/>
<rect x="155" y="1709.61" width="154.0" height="1.19" fill="#B1DA8E"/>
<rect x="155" y="1713.21" width="154.0" height="2.41" fill="#91CB62"/>
<rect x="155" y="1715.61" width="154.0" height="2.41" fill="#B1DA8D"/>
<rect x="155" y="1720.43" width="154.0" height="2.41" fill="#AFD98A"/>
<rect x="155" y="1722.84" width="154.0" height="2.41" fill="#B0D98C"/>
<rect x="155" y="1725.24" width="154.0" height="4.76" fill="#AED889"/>
<rect x="155" y="1732.41" width="154.0" height="3.59" fill="#B4DB91"/>
<rect x="155" y="1740.81" width="154.0" height="1.19" fill="#96CD69"/>
<rect x="155" y="1744.41" width="154.0" height="2.41" fill="#8AC859"/>
<rect x="155" y="1754.04" width="154.0" height="4.81" fill="#8ECA5F"/>
<rect x="155" y="1766.07" width="154.0" height="3.93" fill="#7AC143"/>
<rect x="155" y="1770.00" width="154.0" height="4.81" fill="#B0D98C"/>
<rect x="155" y="1786.85" width="154.0" height="2.41" fill="#95CD68"/>
<rect x="155" y="1789.26" width="154.0" height="3.74" fill="#96CD69"/>
<rect x="155" y="1800.22" width="154.0" height="2.41" fill="#B5DB92"/>
<rect x="155" y="1805.04" width="154.0" height="2.41" fill="#CAE5B0"/>
<rect x="155" y="1807.44" width="154.0" height="2.41" fill="#C8E4AD"/>
<rect x="155" y="1809.85" width="154.0" height="2.41" fill="#C8E5AE"/>
<rect x="155" y="1813.00" width="154.0" height="4.81" fill="#BDDF9E"/>
<rect x="155" y="1827.41" width="154.0" height="4.81" fill="#ABD785"/>
<rect x="155" y="1832.22" width="154.0" height="2.41" fill="#AAD683"/>
<rect x="155" y="1837.00" width="154.0" height="4.81" fill="#D9ECC6"/>
<rect x="155" y="1841.81" width="154.0" height="4.81" fill="#C3E2A7"/>
<rect x="155" y="1851.00" width="154.0" height="4.81" fill="#94CD67"/>
<rect x="155" y="1855.81" width="154.0" height="2.41" fill="#98CE6C"/>
<rect x="155" y="1865.44" width="154.0" height="4.81" fill="#AED889"/>
<rect x="155" y="1870.26" width="154.0" height="0.74" fill="#AAD784"/>
<rect x="155" y="1871.00" width="154.0" height="2.41" fill="#90CB61"/>
<rect x="155" y="1875.81" width="154.0" height="2.41" fill="#92CC64"/>
<rect x="155" y="1880.63" width="154.0" height="2.41" fill="#73BE39"/>
<rect x="155" y="1883.04" width="154.0" height="2.41" fill="#73BF3A"/>
<rect x="155" y="1885.44" width="154.0" height="2.41" fill="#7AC143"/>
<rect x="155" y="1890.26" width="154.0" height="2.41" fill="#72BE38"/>
<rect x="155" y="1893.00" width="154.0" height="2.41" fill="#CBE6B1"/>
<rect x="155" y="1895.41" width="154.0" height="2.41" fill="#C6E3AA"/>
<rect x="155" y="1897.81" width="154.0" height="2.41" fill="#CDE7B5"/>
<rect x="155" y="1900.22" width="154.0" height="4.78" fill="#C7E4AC"/>
<rect x="155" y="1905.00" width="154.0" height="2.41" fill="#C0E1A2"/>
<rect x="155" y="1917.00" width="154.0" height="4.81" fill="#78C141"/>
<rect x="155" y="1929.04" width="154.0" height="4.81" fill="#7EC349"/>
<rect x="155" y="1934.80" width="154.0" height="2.41" fill="#B5DC93"/>
<rect x="155" y="1942.02" width="154.0" height="2.41" fill="#B7DC95"/>
<rect x="155" y="1949.24" width="154.0" height="2.41" fill="#B5DC93"/>
<rect x="155" y="1951.65" width="154.0" height="1.25" fill="#B4DB91"/>
<rect x="155" y="1952.90" width="154.0" height="2.41" fill="#BBDE9B"/>
<rect x="155" y="1955.31" width="154.0" height="3.69" fill="#DAEDC8"/>
<rect x="155" y="1966.22" width="154.0" height="2.41" fill="#BCDF9C"/>
<rect x="155" y="1968.63" width="154.0" height="1.17" fill="#9DD072"/>
<rect x="155" y="1972.21" width="154.0" height="2.41" fill="#A1D277"/>
<rect x="155" y="1974.61" width="154.0" height="2.41" fill="#88C756"/>
<rect x="155" y="1977.02" width="154.0" height="1.18" fill="#9ACF6E"/>
<rect x="155" y="1978.20" width="154.0" height="4.81" fill="#BADE9A"/>
<rect x="155" y="1983.01" width="154.0" height="2.41" fill="#B9DD98"/>
<rect x="155" y="1995.01" width="154.0" height="2.41" fill="#E3F1D5"/>
<rect x="155" y="1997.50" width="154.0" height="2.41" fill="#BADE99"/>
<rect x="155" y="2016.73" width="154.0" height="2.41" fill="#CDE7B5"/>
<rect x="155" y="2019.14" width="154.0" height="2.41" fill="#D0E8B8"/>
<rect x="155" y="2021.54" width="154.0" height="2.41" fill="#E2F1D3"/>
<rect x="155" y="2026.40" width="154.0" height="2.41" fill="#E2F1D3"/>
<rect x="155" y="2036.01" width="154.0" height="4.79" fill="#C8A7FF"/>
<rect x="155" y="2040.80" width="154.0" height="2.41" fill="#6F44FF"/>
<rect x="155" y="2043.21" width="154.0" height="2.41" fill="#794DFF"/>
<rect x="155" y="2050.43" width="154.0" height="1.27" fill="#9D71FF"/>
<rect x="155" y="2051.70" width="154.0" height="2.41" fill="#EBDCFF"/>
<rect x="155" y="2054.11" width="154.0" height="2.41" fill="#E7D6FF"/>
<rect x="155" y="2056.51" width="154.0" height="1.19" fill="#E8D8FF"/>
<rect x="155" y="2057.70" width="154.0" height="2.41" fill="#C5A3FF"/>
<rect x="155" y="2060.11" width="154.0" height="3.59" fill="#BE99FF"/>
<rect x="155" y="2063.70" width="154.0" height="2.41" fill="#E3CFFF"/>
<rect x="155" y="2066.11" width="154.0" height="2.41" fill="#DFCAFF"/>
<rect x="155" y="2068.51" width="154.0" height="2.41" fill="#C4A1FF"/>
<rect x="155" y="2075.81" width="154.0" height="2.41" fill="#B58EFF"/>
<rect x="155" y="2078.22" width="154.0" height="2.41" fill="#B48DFF"/>
<rect x="155" y="2080.63" width="154.0" height="2.37" fill="#C09CFF"/>
<rect x="155" y="2083.00" width="154.0" height="2.41" fill="#1908FF"/>
<rect x="155" y="2085.41" width="154.0" height="2.41" fill="#6A40FF"/>
<rect x="155" y="2090.22" width="154.0" height="4.81" fill="#764AFF"/>
<rect x="155" y="2095.04" width="154.0" height="3.66" fill="#7348FF"/>
<rect x="155" y="2101.11" width="154.0" height="2.41" fill="#794DFF"/>
<rect x="155" y="2108.33" width="154.0" height="4.77" fill="#A277FF"/>
<rect x="155" y="2115.51" width="154.0" height="2.41" fill="#8659FF"/>
<rect x="155" y="2117.91" width="154.0" height="2.41" fill="#4825FF"/>
<rect x="155" y="2120.32" width="154.0" height="2.41" fill="#6138FF"/>
<rect x="155" y="2122.73" width="154.0" height="2.41" fill="#8255FF"/>
<rect x="155" y="2125.14" width="154.0" height="2.41" fill="#5E36FF"/>
<rect x="155" y="2127.54" width="154.0" height="2.41" fill="#8659FF"/>
<rect x="155" y="2129.95" width="154.0" height="2.41" fill="#8B5EFF"/>
<rect x="155" y="2132.36" width="154.0" height="2.41" fill="#8A5DFF"/>
<rect x="155" y="2143.30" width="154.0" height="4.81" fill="#4826FF"/>
<rect x="155" y="2150.52" width="154.0" height="2.41" fill="#8356FF"/>
<rect x="155" y="2155.34" width="154.0" height="2.36" fill="#4D29FF"/>
<rect x="155" y="2169.11" width="154.0" height="2.41" fill="#EADBFF"/>
<rect x="155" y="2171.52" width="154.0" height="2.41" fill="#D2B6FF"/>
<rect x="155" y="2173.93" width="154.0" height="2.41" fill="#CAAAFF"/>
<rect x="155" y="2178.00" width="154.0" height="4.81" fill="#9165FF"/>
<rect x="155" y="2185.22" width="154.0" height="3.68" fill="#BF9BFF"/>
<rect x="155" y="2193.71" width="154.0" height="2.39" fill="#C3A1FF"/>
<rect x="155" y="2205.73" width="154.0" height="2.41" fill="#A176FF"/>
<rect x="155" y="2208.14" width="154.0" height="2.41" fill="#9D71FF"/>
<rect x="155" y="2217.81" width="154.0" height="2.41" fill="#9467FF"/>
<rect x="155" y="2225.03" width="154.0" height="2.41" fill="#BC96FF"/>
<rect x="155" y="2227.44" width="154.0" height="1.26" fill="#BD99FF"/>
<rect x="155" y="2233.51" width="154.0" height="2.41" fill="#CBABFF"/>
<rect x="155" y="2235.92" width="154.0" height="2.41" fill="#E6D4FF"/>
<rect x="155" y="2238.33" width="154.0" height="1.17" fill="#DEC7FF"/>
<rect x="155" y="2241.91" width="154.0" height="2.41" fill="#A378FF"/>
<rect x="155" y="2244.31" width="154.0" height="4.81" fill="#C19EFF"/>
<rect x="155" y="2249.13" width="154.0" height="2.41" fill="#BC97FF"/>
<rect x="155" y="2252.80" width="154.0" height="2.41" fill="#E3D0FF"/>
<rect x="155" y="2255.21" width="154.0" height="2.41" fill="#DFCAFF"/>
<rect x="155" y="2257.61" width="154.0" height="2.41" fill="#DDC6FF"/>
<rect x="155" y="2264.84" width="154.0" height="4.81" fill="#DDC6FF"/>
<rect x="155" y="2274.41" width="154.0" height="2.41" fill="#8B5EFF"/>
<rect x="155" y="2276.81" width="154.0" height="2.41" fill="#B68FFF"/>
<rect x="155" y="2279.22" width="154.0" height="2.41" fill="#895CFF"/>
<rect x="155" y="2281.63" width="154.0" height="2.41" fill="#875AFF"/>
<rect x="155" y="2284.04" width="154.0" height="2.41" fill="#9467FF"/>
<rect x="155" y="2286.44" width="154.0" height="2.41" fill="#AF87FF"/>
<rect x="155" y="2288.85" width="154.0" height="4.81" fill="#AF87FF"/>
<rect x="155" y="2296.07" width="154.0" height="3.73" fill="#B48CFF"/>
<rect x="155" y="2304.61" width="154.0" height="2.41" fill="#4F2AFF"/>
<rect x="155" y="2307.02" width="154.0" height="2.41" fill="#8457FF"/>
<rect x="155" y="2311.84" width="154.0" height="2.41" fill="#5F37FF"/>
<rect x="155" y="2316.60" width="154.0" height="2.41" fill="#9468FF"/>
<rect x="155" y="2319.01" width="154.0" height="2.41" fill="#9467FF"/>
<rect x="155" y="2323.82" width="154.0" height="2.41" fill="#C09CFF"/>
<rect x="155" y="2326.23" width="154.0" height="2.41" fill="#BD98FF"/>
<rect x="155" y="2333.50" width="154.0" height="2.41" fill="#F3EAFF"/>
<rect x="155" y="2335.91" width="154.0" height="1.19" fill="#DBC2FF"/>
<rect x="155" y="2337.10" width="154.0" height="2.41" fill="#A57AFF"/>
<rect x="155" y="2341.91" width="154.0" height="4.81" fill="#BE9AFF"/>
<rect x="155" y="2349.20" width="154.0" height="4.81" fill="#683EFF"/>
<rect x="155" y="2354.01" width="154.0" height="2.41" fill="#9063FF"/>
<rect x="155" y="2356.42" width="154.0" height="2.41" fill="#5C35FF"/>
<rect x="155" y="2358.83" width="154.0" height="2.41" fill="#8C5FFF"/>
<rect x="155" y="2361.24" width="154.0" height="4.81" fill="#996DFF"/>
<rect x="155" y="2367.20" width="154.0" height="2.41" fill="#6A40FF"/>
<rect x="155" y="2376.83" width="154.0" height="2.41" fill="#9E73FF"/>
<rect x="155" y="2384.05" width="154.0" height="4.45" fill="#9165FF"/>
<rect x="309" y="1704.80" width="153.5" height="7.80" fill="#82C54E"/>
<rect x="309" y="1712.00" width="153.5" height="18.60" fill="#A7D580"/>
<rect x="309" y="1730.00" width="153.5" height="6.30" fill="#C3E2A7"/>
<rect x="309" y="1735.70" width="153.5" height="8.30" fill="#F2F9EB"/>
<rect x="309" y="1743.40" width="153.5" height="7.80" fill="#DEEFCE"/>
<rect x="309" y="1750.60" width="153.5" height="10.00" fill="#BCDF9D"/>
<rect x="309" y="1760.00" width="153.5" height="9.30" fill="#E5F2D7"/>
<rect x="309" y="1768.70" width="153.5" height="10.20" fill="#BCDF9D"/>
<rect x="309" y="1778.30" width="153.5" height="15.10" fill="#DEEFCE"/>
<rect x="309" y="1792.80" width="153.5" height="11.40" fill="#EBF5E1"/>
<rect x="309" y="1803.60" width="153.5" height="34.30" fill="#D8ECC4"/>
<rect x="309" y="1837.30" width="153.5" height="12.70" fill="#F2F9EB"/>
<rect x="309" y="1849.40" width="153.5" height="22.20" fill="#D1E9BA"/>
<rect x="309" y="1871.00" width="153.5" height="18.60" fill="#F5FAF0"/>
<rect x="309" y="1889.00" width="153.5" height="16.60" fill="#BCDF9D"/>
<rect x="309" y="1905.00" width="153.5" height="12.60" fill="#B6DC93"/>
<rect x="309" y="1917.00" width="153.5" height="23.20" fill="#DEEFCE"/>
<rect x="309" y="1939.60" width="153.5" height="5.50" fill="#CAE5B0"/>
<rect x="309" y="1944.50" width="153.5" height="11.40" fill="#FCFDFA"/>
<rect x="309" y="1955.30" width="153.5" height="40.30" fill="#CAE5B0"/>
<rect x="309" y="1995.00" width="153.5" height="19.90" fill="#99CF6D"/>
<rect x="309" y="2014.30" width="153.5" height="19.90" fill="#CAE5B0"/>
<rect x="309" y="2033.60" width="153.5" height="10.30" fill="#B38BFF"/>
<rect x="309" y="2043.30" width="153.5" height="9.00" fill="#D4B9FF"/>
<rect x="309" y="2051.70" width="153.5" height="6.60" fill="#381BFF"/>
<rect x="309" y="2057.70" width="153.5" height="27.10" fill="#A074FF"/>
<rect x="309" y="2084.20" width="153.5" height="16.30" fill="#F2E7FF"/>
<rect x="309" y="2099.90" width="153.5" height="11.40" fill="#BC97FF"/>
<rect x="309" y="2110.70" width="153.5" height="12.70" fill="#D4B9FF"/>
<rect x="309" y="2122.80" width="153.5" height="15.00" fill="#EBDCFF"/>
<rect x="309" y="2137.20" width="153.5" height="10.30" fill="#C4A2FF"/>
<rect x="309" y="2146.90" width="153.5" height="9.00" fill="#F8F3FF"/>
<rect x="309" y="2155.30" width="153.5" height="10.10" fill="#C4A2FF"/>
<rect x="309" y="2164.80" width="153.5" height="24.70" fill="#A074FF"/>
<rect x="309" y="2188.90" width="153.5" height="6.70" fill="#CCADFF"/>
<rect x="309" y="2195.00" width="153.5" height="11.40" fill="#F8F3FF"/>
<rect x="309" y="2205.80" width="153.5" height="13.80" fill="#E3D0FF"/>
<rect x="309" y="2219.00" width="153.5" height="34.40" fill="#C4A2FF"/>
<rect x="309" y="2252.80" width="153.5" height="18.60" fill="#8A5DFF"/>
<rect x="309" y="2270.80" width="153.5" height="29.60" fill="#D4B9FF"/>
<rect x="309" y="2299.80" width="153.5" height="12.60" fill="#CCADFF"/>
<rect x="309" y="2311.80" width="153.5" height="9.00" fill="#F8F3FF"/>
<rect x="309" y="2320.20" width="153.5" height="13.90" fill="#D4B9FF"/>
<rect x="309" y="2333.50" width="153.5" height="6.60" fill="#FFFFFF"/>
<rect x="309" y="2339.50" width="153.5" height="11.50" fill="#AA80FF"/>
<rect x="309" y="2350.40" width="153.5" height="17.40" fill="#EBDCFF"/>
<rect x="309" y="2367.20" width="153.5" height="21.90" fill="#D4B9FF"/>
<rect x="309" y="1707.21" width="153.5" height="2.41" fill="#72BE38"/>
<rect x="309" y="1709.61" width="153.5" height="2.39" fill="#95CD67"/>
<rect x="309" y="1712.00" width="153.5" height="4.81" fill="#9FD174"/>
<rect x="309" y="1719.22" width="153.5" height="2.41" fill="#B6DC94"/>
<rect x="309" y="1721.63" width="153.5" height="2.41" fill="#9ACF6E"/>
<rect x="309" y="1724.04" width="153.5" height="4.81" fill="#96CD69"/>
<rect x="309" y="1728.85" width="153.5" height="1.15" fill="#B1D98D"/>
<rect x="309" y="1730.00" width="153.5" height="2.41" fill="#D3EABD"/>
<rect x="309" y="1732.41" width="153.5" height="2.41" fill="#CFE8B7"/>
<rect x="309" y="1734.81" width="153.5" height="0.89" fill="#D4EABF"/>
<rect x="309" y="1735.70" width="153.5" height="2.41" fill="#E3F1D4"/>
<rect x="309" y="1743.40" width="153.5" height="2.41" fill="#CFE8B7"/>
<rect x="309" y="1745.81" width="153.5" height="2.41" fill="#E8F4DB"/>
<rect x="309" y="1748.21" width="153.5" height="2.39" fill="#EFF7E6"/>
<rect x="309" y="1750.60" width="153.5" height="2.41" fill="#CBE6B1"/>
<rect x="309" y="1755.41" width="153.5" height="2.41" fill="#C5E3A9"/>
<rect x="309" y="1757.82" width="153.5" height="2.18" fill="#CAE6B1"/>
<rect x="309" y="1760.00" width="153.5" height="2.41" fill="#F1F8E9"/>
<rect x="309" y="1762.41" width="153.5" height="4.81" fill="#F4FAEE"/>
<rect x="309" y="1767.22" width="153.5" height="1.48" fill="#EBF5E1"/>
<rect x="309" y="1768.70" width="153.5" height="4.81" fill="#C6E3AA"/>
<rect x="309" y="1773.51" width="153.5" height="4.79" fill="#ACD887"/>
<rect x="309" y="1780.71" width="153.5" height="4.81" fill="#D5EBC0"/>
<rect x="309" y="1790.34" width="153.5" height="2.41" fill="#D7ECC3"/>
<rect x="309" y="1792.80" width="153.5" height="2.41" fill="#F7FBF3"/>
<rect x="309" y="1800.02" width="153.5" height="2.41" fill="#FAFDF8"/>
<rect x="309" y="1802.43" width="153.5" height="1.17" fill="#DFEFCE"/>
<rect x="309" y="1808.41" width="153.5" height="4.81" fill="#CDE7B5"/>
<rect x="309" y="1813.23" width="153.5" height="2.41" fill="#CAE5B0"/>
<rect x="309" y="1820.45" width="153.5" height="2.41" fill="#CDE7B4"/>
<rect x="309" y="1822.86" width="153.5" height="4.81" fill="#CEE7B5"/>
<rect x="309" y="1837.30" width="153.5" height="2.41" fill="#F5FAF0"/>
<rect x="309" y="1846.93" width="153.5" height="2.47" fill="#F5FAF0"/>
<rect x="309" y="1854.21" width="153.5" height="2.41" fill="#D9ECC6"/>
<rect x="309" y="1856.62" width="153.5" height="2.41" fill="#C7E4AC"/>
<rect x="309" y="1859.03" width="153.5" height="4.81" fill="#C2E2A5"/>
<rect x="309" y="1863.84" width="153.5" height="4.81" fill="#DFEFCE"/>
<rect x="309" y="1868.66" width="153.5" height="2.34" fill="#DFF0CF"/>
<rect x="309" y="1875.81" width="153.5" height="2.41" fill="#EAF5DF"/>
<rect x="309" y="1878.22" width="153.5" height="2.41" fill="#EEF7E5"/>
<rect x="309" y="1880.63" width="153.5" height="2.41" fill="#FEFFFD"/>
<rect x="309" y="1883.04" width="153.5" height="4.81" fill="#E6F3D9"/>
<rect x="309" y="1887.85" width="153.5" height="1.15" fill="#EAF5DF"/>
<rect x="309" y="1891.41" width="153.5" height="4.81" fill="#C4E2A7"/>
<rect x="309" y="1898.63" width="153.5" height="4.81" fill="#C7E4AC"/>
<rect x="309" y="1903.44" width="153.5" height="1.56" fill="#C9E5AE"/>
<rect x="309" y="1912.22" width="153.5" height="4.78" fill="#C2E2A5"/>
<rect x="309" y="1917.00" width="153.5" height="2.41" fill="#EDF6E3"/>
<rect x="309" y="1919.41" width="153.5" height="2.41" fill="#CEE8B7"/>
<rect x="309" y="1936.26" width="153.5" height="2.41" fill="#CEE7B6"/>
<rect x="309" y="1938.67" width="153.5" height="0.93" fill="#E8F4DC"/>
<rect x="309" y="1939.60" width="153.5" height="2.41" fill="#BBDE9B"/>
<rect x="309" y="1942.01" width="153.5" height="2.41" fill="#D1E9BB"/>
<rect x="309" y="1944.50" width="153.5" height="2.41" fill="#FBFDF9"/>
<rect x="309" y="1946.91" width="153.5" height="2.41" fill="#FBFDF9"/>
<rect x="309" y="1949.31" width="153.5" height="2.41" fill="#FCFEFB"/>
<rect x="309" y="1951.72" width="153.5" height="2.41" fill="#FCFEFB"/>
<rect x="309" y="1954.13" width="153.5" height="1.17" fill="#FCFEFB"/>
<rect x="309" y="1955.30" width="153.5" height="4.81" fill="#D2E9BC"/>
<rect x="309" y="1960.11" width="153.5" height="2.41" fill="#D7EBC2"/>
<rect x="309" y="1967.34" width="153.5" height="2.41" fill="#C3E2A7"/>
<rect x="309" y="1974.56" width="153.5" height="2.41" fill="#DBEDC9"/>
<rect x="309" y="1986.60" width="153.5" height="2.41" fill="#DBEDC9"/>
<rect x="309" y="1989.00" width="153.5" height="2.41" fill="#BFE0A0"/>
<rect x="309" y="1991.41" width="153.5" height="2.41" fill="#BBDE9B"/>
<rect x="309" y="1993.82" width="153.5" height="1.18" fill="#C3E2A6"/>
<rect x="309" y="1995.00" width="153.5" height="4.81" fill="#A1D277"/>
<rect x="309" y="1999.81" width="153.5" height="2.41" fill="#A9D682"/>
<rect x="309" y="2002.22" width="153.5" height="2.41" fill="#86C654"/>
<rect x="309" y="2004.63" width="153.5" height="4.81" fill="#A8D681"/>
<rect x="309" y="2009.44" width="153.5" height="2.41" fill="#8FCA60"/>
<rect x="309" y="2011.85" width="153.5" height="2.41" fill="#A1D277"/>
<rect x="309" y="2014.30" width="153.5" height="2.41" fill="#BFE0A0"/>
<rect x="309" y="2019.11" width="153.5" height="2.41" fill="#D3EABD"/>
<rect x="309" y="2023.93" width="153.5" height="2.41" fill="#D5EAC0"/>
<rect x="309" y="2026.34" width="153.5" height="2.41" fill="#C0E1A3"/>
<rect x="309" y="2028.74" width="153.5" height="2.41" fill="#BDDF9E"/>
<rect x="309" y="2038.41" width="153.5" height="4.81" fill="#9F73FF"/>
<rect x="309" y="2048.11" width="153.5" height="3.59" fill="#DEC8FF"/>
<rect x="309" y="2051.70" width="153.5" height="4.81" fill="#5F37FF"/>
<rect x="309" y="2056.51" width="153.5" height="1.19" fill="#0000FF"/>
<rect x="309" y="2057.70" width="153.5" height="4.81" fill="#8C5FFF"/>
<rect x="309" y="2064.92" width="153.5" height="2.41" fill="#9569FF"/>
<rect x="309" y="2067.33" width="153.5" height="4.81" fill="#AB82FF"/>
<rect x="309" y="2072.14" width="153.5" height="4.81" fill="#9367FF"/>
<rect x="309" y="2076.96" width="153.5" height="4.81" fill="#9265FF"/>
<rect x="309" y="2084.20" width="153.5" height="2.41" fill="#E4D1FF"/>
<rect x="309" y="2086.61" width="153.5" height="4.81" fill="#E6D4FF"/>
<rect x="309" y="2096.24" width="153.5" height="2.41" fill="#EFE3FF"/>
<rect x="309" y="2099.90" width="153.5" height="4.81" fill="#AE85FF"/>
<rect x="309" y="2104.71" width="153.5" height="2.41" fill="#AD84FF"/>
<rect x="309" y="2107.12" width="153.5" height="3.58" fill="#A97FFF"/>
<rect x="309" y="2113.11" width="153.5" height="4.81" fill="#C8A8FF"/>
<rect x="309" y="2117.92" width="153.5" height="2.41" fill="#DEC7FF"/>
<rect x="309" y="2127.61" width="153.5" height="2.41" fill="#E2CEFF"/>
<rect x="309" y="2132.43" width="153.5" height="4.77" fill="#FBF7FF"/>
<rect x="309" y="2144.42" width="153.5" height="2.41" fill="#B38BFF"/>
<rect x="309" y="2154.12" width="153.5" height="1.18" fill="#F7F1FF"/>
<rect x="309" y="2155.30" width="153.5" height="2.41" fill="#B48DFF"/>
<rect x="309" y="2157.71" width="153.5" height="2.41" fill="#CDAEFF"/>
<rect x="309" y="2160.11" width="153.5" height="2.41" fill="#D7BDFF"/>
<rect x="309" y="2162.52" width="153.5" height="2.28" fill="#AE85FF"/>
<rect x="309" y="2164.80" width="153.5" height="2.41" fill="#B48DFF"/>
<rect x="309" y="2167.21" width="153.5" height="4.81" fill="#B189FF"/>
<rect x="309" y="2172.02" width="153.5" height="2.41" fill="#9366FF"/>
<rect x="309" y="2174.43" width="153.5" height="2.41" fill="#9164FF"/>
<rect x="309" y="2179.24" width="153.5" height="4.81" fill="#8B5EFF"/>
<rect x="309" y="2184.06" width="153.5" height="4.81" fill="#AA80FF"/>
<rect x="309" y="2188.90" width="153.5" height="2.41" fill="#BB96FF"/>
<rect x="309" y="2191.31" width="153.5" height="2.41" fill="#B791FF"/>
<rect x="309" y="2193.71" width="153.5" height="1.29" fill="#C19EFF"/>
<rect x="309" y="2197.41" width="153.5" height="2.41" fill="#F7F0FF"/>
<rect x="309" y="2199.81" width="153.5" height="4.81" fill="#F9F5FF"/>
<rect x="309" y="2205.80" width="153.5" height="2.41" fill="#D4B9FF"/>
<rect x="309" y="2210.61" width="153.5" height="4.81" fill="#D8BEFF"/>
<rect x="309" y="2215.43" width="153.5" height="2.41" fill="#D9C0FF"/>
<rect x="309" y="2217.84" width="153.5" height="1.16" fill="#D0B3FF"/>
<rect x="309" y="2223.81" width="153.5" height="2.41" fill="#BB95FF"/>
<rect x="309" y="2233.44" width="153.5" height="2.41" fill="#D7BCFF"/>
<rect x="309" y="2240.67" width="153.5" height="2.41" fill="#AF87FF"/>
<rect x="309" y="2243.07" width="153.5" height="2.41" fill="#D4B8FF"/>
<rect x="309" y="2250.30" width="153.5" height="2.41" fill="#B992FF"/>
<rect x="309" y="2252.80" width="153.5" height="2.41" fill="#A176FF"/>
<rect x="309" y="2264.84" width="153.5" height="2.41" fill="#784BFF"/>
<rect x="309" y="2267.24" width="153.5" height="2.41" fill="#976BFF"/>
<rect x="309" y="2269.65" width="153.5" height="1.15" fill="#6F43FF"/>
<rect x="309" y="2270.80" width="153.5" height="2.41" fill="#E6D4FF"/>
<rect x="309" y="2273.21" width="153.5" height="2.41" fill="#DEC8FF"/>
<rect x="309" y="2275.61" width="153.5" height="2.41" fill="#CAA9FF"/>
<rect x="309" y="2278.02" width="153.5" height="2.41" fill="#CBABFF"/>
<rect x="309" y="2280.43" width="153.5" height="2.41" fill="#C5A3FF"/>
<rect x="309" y="2287.65" width="153.5" height="2.41" fill="#E3D0FF"/>
<rect x="309" y="2292.47" width="153.5" height="4.81" fill="#C2A0FF"/>
<rect x="309" y="2297.28" width="153.5" height="2.52" fill="#C6A5FF"/>
<rect x="309" y="2299.80" width="153.5" height="2.41" fill="#BA94FF"/>
<rect x="309" y="2302.21" width="153.5" height="2.41" fill="#DFC9FF"/>
<rect x="309" y="2307.02" width="153.5" height="4.78" fill="#BA94FF"/>
<rect x="309" y="2314.21" width="153.5" height="4.81" fill="#F7F1FF"/>
<rect x="309" y="2319.02" width="153.5" height="1.18" fill="#FAF5FF"/>
<rect x="309" y="2320.20" width="153.5" height="2.41" fill="#E5D2FF"/>
<rect x="309" y="2322.61" width="153.5" height="2.41" fill="#C8A7FF"/>
<rect x="309" y="2325.01" width="153.5" height="4.81" fill="#E5D2FF"/>
<rect x="309" y="2335.91" width="153.5" height="2.41" fill="#FFFFFF"/>
<rect x="309" y="2339.50" width="153.5" height="2.41" fill="#9063FF"/>
<rect x="309" y="2341.91" width="153.5" height="2.41" fill="#9468FF"/>
<rect x="309" y="2344.31" width="153.5" height="2.41" fill="#BE9AFF"/>
<rect x="309" y="2350.40" width="153.5" height="2.41" fill="#F6EFFF"/>
<rect x="309" y="2352.81" width="153.5" height="2.41" fill="#DCC4FF"/>
<rect x="309" y="2362.44" width="153.5" height="2.41" fill="#DFCAFF"/>
<rect x="309" y="2364.84" width="153.5" height="2.36" fill="#F3EAFF"/>
<rect x="309" y="2367.20" width="153.5" height="2.41" fill="#C19EFF"/>
<rect x="309" y="2369.61" width="153.5" height="2.41" fill="#CAAAFF"/>
<rect x="309" y="2372.01" width="153.5" height="4.81" fill="#DEC8FF"/>
<rect x="309" y="2379.24" width="153.5" height="2.41" fill="#C3A0FF"/>
<rect x="309" y="2381.64" width="153.5" height="2.41" fill="#CBABFF"/>
<rect x="309" y="2384.05" width="153.5" height="4.45" fill="#C3A0FF"/>
<rect x="462.5" y="1704.80" width="153.5" height="25.80" fill="#FCF9FF"/>
<rect x="462.5" y="1730.00" width="153.5" height="12.80" fill="#BCDF9D"/>
<rect x="462.5" y="1742.20" width="153.5" height="18.60" fill="#F9FCF5"/>
<rect x="462.5" y="1760.20" width="153.5" height="32.00" fill="#D8ECC4"/>
<rect x="462.5" y="1791.60" width="153.5" height="17.40" fill="#B6DC93"/>
<rect x="462.5" y="1808.40" width="153.5" height="24.70" fill="#CAE5B0"/>
<rect x="462.5" y="1832.50" width="153.5" height="16.30" fill="#99CF6D"/>
<rect x="462.5" y="1848.20" width="153.5" height="21.10" fill="#D8ECC4"/>
<rect x="462.5" y="1868.70" width="153.5" height="17.40" fill="#C3E2A7"/>
<rect x="462.5" y="1885.50" width="153.5" height="17.50" fill="#DEEFCE"/>
<rect x="462.5" y="1902.40" width="153.5" height="7.80" fill="#C3E2A7"/>
<rect x="462.5" y="1909.60" width="153.5" height="22.30" fill="#EBF5E1"/>
<rect x="462.5" y="1931.30" width="153.5" height="2.90" fill="#BCDF9D"/>
<rect x="462.5" y="1933.60" width="153.5" height="21.10" fill="#A7D580"/>
<rect x="462.5" y="1954.10" width="153.5" height="24.70" fill="#E5F2D7"/>
<rect x="462.5" y="1978.20" width="153.5" height="12.60" fill="#CAE5B0"/>
<rect x="462.5" y="1990.20" width="153.5" height="5.50" fill="#99CF6D"/>
<rect x="462.5" y="1995.10" width="153.5" height="19.80" fill="#D8ECC4"/>
<rect x="462.5" y="2014.30" width="153.5" height="19.90" fill="#92CB63"/>
<rect x="462.5" y="2033.60" width="153.5" height="19.90" fill="#B38BFF"/>
<rect x="462.5" y="2052.90" width="153.5" height="11.40" fill="#DCC4FF"/>
<rect x="462.5" y="2063.70" width="153.5" height="35.60" fill="#A074FF"/>
<rect x="462.5" y="2098.70" width="153.5" height="29.50" fill="#B791FF"/>
<rect x="462.5" y="2127.60" width="153.5" height="12.60" fill="#A074FF"/>
<rect x="462.5" y="2139.60" width="153.5" height="10.30" fill="#E3D0FF"/>
<rect x="462.5" y="2149.30" width="153.5" height="6.60" fill="#AA80FF"/>
<rect x="462.5" y="2155.30" width="153.5" height="10.10" fill="#D4B9FF"/>
<rect x="462.5" y="2164.80" width="153.5" height="29.50" fill="#BC97FF"/>
<rect x="462.5" y="2193.70" width="153.5" height="5.50" fill="#7E52FF"/>
<rect x="462.5" y="2198.60" width="153.5" height="29.50" fill="#B38BFF"/>
<rect x="462.5" y="2227.50" width="153.5" height="11.40" fill="#7E52FF"/>
<rect x="462.5" y="2238.30" width="153.5" height="25.90" fill="#B38BFF"/>
<rect x="462.5" y="2263.60" width="153.5" height="22.30" fill="#D4B9FF"/>
<rect x="462.5" y="2285.30" width="153.5" height="13.90" fill="#BC97FF"/>
<rect x="462.5" y="2298.60" width="153.5" height="13.80" fill="#DCC4FF"/>
<rect x="462.5" y="2311.80" width="153.5" height="17.50" fill="#BC97FF"/>
<rect x="462.5" y="2328.70" width="153.5" height="10.20" fill="#7E52FF"/>
<rect x="462.5" y="2338.30" width="153.5" height="27.10" fill="#CCADFF"/>
<rect x="462.5" y="2364.80" width="153.5" height="7.80" fill="#B38BFF"/>
<rect x="462.5" y="2372.00" width="153.5" height="17.10" fill="#DCC4FF"/>
<rect x="462.5" y="1712.02" width="153.5" height="4.81" fill="#FCFAFF"/>
<rect x="462.5" y="1716.84" width="153.5" height="4.81" fill="#FBF8FF"/>
<rect x="462.5" y="1721.65" width="153.5" height="2.41" fill="#FBF8FF"/>
<rect x="462.5" y="1724.06" width="153.5" height="2.41" fill="#FDFBFF"/>
<rect x="462.5" y="1726.47" width="153.5" height="3.53" fill="#FBF8FF"/>
<rect x="462.5" y="1730.00" width="153.5" height="4.81" fill="#ADD888"/>
<rect x="462.5" y="1734.81" width="153.5" height="2.41" fill="#CDE7B4"/>
<rect x="462.5" y="1737.22" width="153.5" height="2.41" fill="#CAE5B0"/>
<rect x="462.5" y="1739.63" width="153.5" height="2.57" fill="#ADD887"/>
<rect x="462.5" y="1742.20" width="153.5" height="2.41" fill="#F8FBF4"/>
<rect x="462.5" y="1744.61" width="153.5" height="2.41" fill="#F7FBF3"/>
<rect x="462.5" y="1747.01" width="153.5" height="2.41" fill="#F7FBF3"/>
<rect x="462.5" y="1749.42" width="153.5" height="2.41" fill="#FAFDF7"/>
<rect x="462.5" y="1756.64" width="153.5" height="3.56" fill="#F8FBF4"/>
<rect x="462.5" y="1760.20" width="153.5" height="4.81" fill="#E0F0D1"/>
<rect x="462.5" y="1767.42" width="153.5" height="4.81" fill="#E6F3D8"/>
<rect x="462.5" y="1774.64" width="153.5" height="2.41" fill="#E0F0D0"/>
<rect x="462.5" y="1781.87" width="153.5" height="2.41" fill="#E3F1D4"/>
<rect x="462.5" y="1784.27" width="153.5" height="2.41" fill="#CBE6B1"/>
<rect x="462.5" y="1786.68" width="153.5" height="2.41" fill="#DFF0CF"/>
<rect x="462.5" y="1789.09" width="153.5" height="2.41" fill="#E1F1D2"/>
<rect x="462.5" y="1794.01" width="153.5" height="4.81" fill="#A5D47D"/>
<rect x="462.5" y="1798.82" width="153.5" height="2.41" fill="#BFE0A0"/>
<rect x="462.5" y="1803.64" width="153.5" height="4.76" fill="#BFE0A0"/>
<rect x="462.5" y="1808.40" width="153.5" height="4.81" fill="#BEE0A0"/>
<rect x="462.5" y="1813.21" width="153.5" height="4.81" fill="#C1E1A4"/>
<rect x="462.5" y="1818.03" width="153.5" height="2.41" fill="#D1E9BA"/>
<rect x="462.5" y="1820.44" width="153.5" height="4.81" fill="#D2E9BC"/>
<rect x="462.5" y="1825.25" width="153.5" height="2.41" fill="#C2E2A5"/>
<rect x="462.5" y="1830.07" width="153.5" height="2.41" fill="#D3EABD"/>
<rect x="462.5" y="1832.50" width="153.5" height="2.41" fill="#A1D277"/>
<rect x="462.5" y="1834.91" width="153.5" height="4.81" fill="#A4D47C"/>
<rect x="462.5" y="1848.20" width="153.5" height="2.41" fill="#E5F2D7"/>
<rect x="462.5" y="1850.61" width="153.5" height="2.41" fill="#CBE6B1"/>
<rect x="462.5" y="1853.01" width="153.5" height="2.41" fill="#CCE6B3"/>
<rect x="462.5" y="1855.42" width="153.5" height="2.41" fill="#E7F3DA"/>
<rect x="462.5" y="1857.83" width="153.5" height="2.41" fill="#E0F0D1"/>
<rect x="462.5" y="1860.24" width="153.5" height="2.41" fill="#E2F1D3"/>
<rect x="462.5" y="1862.64" width="153.5" height="4.81" fill="#E2F1D3"/>
<rect x="462.5" y="1871.11" width="153.5" height="2.41" fill="#BADE9A"/>
<rect x="462.5" y="1873.51" width="153.5" height="4.81" fill="#B4DB91"/>
<rect x="462.5" y="1885.50" width="153.5" height="2.41" fill="#EEF6E4"/>
<rect x="462.5" y="1887.91" width="153.5" height="2.41" fill="#EAF5DF"/>
<rect x="462.5" y="1890.31" width="153.5" height="2.41" fill="#CEE7B5"/>
<rect x="462.5" y="1895.13" width="153.5" height="4.81" fill="#D0E8B9"/>
<rect x="462.5" y="1899.94" width="153.5" height="2.41" fill="#D4EABE"/>
<rect x="462.5" y="1907.21" width="153.5" height="2.39" fill="#CDE7B5"/>
<rect x="462.5" y="1924.04" width="153.5" height="2.41" fill="#DBEEC9"/>
<rect x="462.5" y="1933.60" width="153.5" height="4.81" fill="#9ACF6D"/>
<rect x="462.5" y="1943.23" width="153.5" height="2.41" fill="#9FD175"/>
<rect x="462.5" y="1945.64" width="153.5" height="2.41" fill="#97CE6B"/>
<rect x="462.5" y="1948.04" width="153.5" height="2.41" fill="#99CF6D"/>
<rect x="462.5" y="1950.45" width="153.5" height="2.41" fill="#B5DC93"/>
<rect x="462.5" y="1956.51" width="153.5" height="2.41" fill="#F1F8EA"/>
<rect x="462.5" y="1961.32" width="153.5" height="4.81" fill="#DBEDC8"/>
<rect x="462.5" y="1966.14" width="153.5" height="2.41" fill="#F2F9EC"/>
<rect x="462.5" y="1968.54" width="153.5" height="4.81" fill="#D7EBC3"/>
<rect x="462.5" y="1983.01" width="153.5" height="2.41" fill="#D7ECC3"/>
<rect x="462.5" y="1985.42" width="153.5" height="2.41" fill="#C2E1A4"/>
<rect x="462.5" y="1990.20" width="153.5" height="2.41" fill="#87C755"/>
<rect x="462.5" y="1995.10" width="153.5" height="4.81" fill="#C9E5AF"/>
<rect x="462.5" y="1999.91" width="153.5" height="2.41" fill="#E5F3D8"/>
<rect x="462.5" y="2011.95" width="153.5" height="2.35" fill="#CCE6B3"/>
<rect x="462.5" y="2014.30" width="153.5" height="2.41" fill="#9DD172"/>
<rect x="462.5" y="2016.71" width="153.5" height="2.41" fill="#A2D379"/>
<rect x="462.5" y="2019.11" width="153.5" height="4.81" fill="#9ED174"/>
<rect x="462.5" y="2023.93" width="153.5" height="2.41" fill="#9FD275"/>
<rect x="462.5" y="2026.34" width="153.5" height="2.41" fill="#7FC44B"/>
<rect x="462.5" y="2028.74" width="153.5" height="2.41" fill="#A2D379"/>
<rect x="462.5" y="2031.15" width="153.5" height="2.45" fill="#84C651"/>
<rect x="462.5" y="2033.60" width="153.5" height="4.81" fill="#9D71FF"/>
<rect x="462.5" y="2038.41" width="153.5" height="2.41" fill="#A175FF"/>
<rect x="462.5" y="2045.64" width="153.5" height="4.81" fill="#BF9BFF"/>
<rect x="462.5" y="2052.90" width="153.5" height="4.81" fill="#D2B6FF"/>
<rect x="462.5" y="2062.53" width="153.5" height="1.17" fill="#C9A9FF"/>
<rect x="462.5" y="2063.70" width="153.5" height="4.81" fill="#B790FF"/>
<rect x="462.5" y="2068.51" width="153.5" height="2.41" fill="#9265FF"/>
<rect x="462.5" y="2070.92" width="153.5" height="4.81" fill="#AD84FF"/>
<rect x="462.5" y="2075.74" width="153.5" height="2.41" fill="#B088FF"/>
<rect x="462.5" y="2080.55" width="153.5" height="2.41" fill="#8C5FFF"/>
<rect x="462.5" y="2087.77" width="153.5" height="4.81" fill="#875AFF"/>
<rect x="462.5" y="2092.59" width="153.5" height="4.81" fill="#8C5FFF"/>
<rect x="462.5" y="2103.51" width="153.5" height="2.41" fill="#C29FFF"/>
<rect x="462.5" y="2108.33" width="153.5" height="2.41" fill="#A176FF"/>
<rect x="462.5" y="2110.74" width="153.5" height="2.41" fill="#CCADFF"/>
<rect x="462.5" y="2117.96" width="153.5" height="2.41" fill="#A97FFF"/>
<rect x="462.5" y="2120.37" width="153.5" height="2.41" fill="#AE85FF"/>
<rect x="462.5" y="2125.18" width="153.5" height="2.42" fill="#CAA9FF"/>
<rect x="462.5" y="2127.60" width="153.5" height="2.41" fill="#B087FF"/>
<rect x="462.5" y="2130.01" width="153.5" height="4.81" fill="#AC83FF"/>
<rect x="462.5" y="2137.23" width="153.5" height="2.37" fill="#9467FF"/>
<rect x="462.5" y="2139.60" width="153.5" height="2.41" fill="#D6BBFF"/>
<rect x="462.5" y="2142.01" width="153.5" height="4.81" fill="#F4EBFF"/>
<rect x="462.5" y="2146.82" width="153.5" height="2.41" fill="#D9BFFF"/>
<rect x="462.5" y="2154.11" width="153.5" height="1.19" fill="#9B6FFF"/>
<rect x="462.5" y="2155.30" width="153.5" height="2.41" fill="#C7A6FF"/>
<rect x="462.5" y="2160.11" width="153.5" height="2.41" fill="#C7A6FF"/>
<rect x="462.5" y="2162.52" width="153.5" height="2.28" fill="#C5A3FF"/>
<rect x="462.5" y="2164.80" width="153.5" height="4.81" fill="#A77DFF"/>
<rect x="462.5" y="2169.61" width="153.5" height="2.41" fill="#CFB1FF"/>
<rect x="462.5" y="2179.24" width="153.5" height="2.41" fill="#B188FF"/>
<rect x="462.5" y="2186.47" width="153.5" height="2.41" fill="#C6A4FF"/>
<rect x="462.5" y="2188.87" width="153.5" height="2.41" fill="#B189FF"/>
<rect x="462.5" y="2201.01" width="153.5" height="2.41" fill="#A980FF"/>
<rect x="462.5" y="2203.41" width="153.5" height="4.81" fill="#A77DFF"/>
<rect x="462.5" y="2208.23" width="153.5" height="4.81" fill="#C7A6FF"/>
<rect x="462.5" y="2213.04" width="153.5" height="4.81" fill="#C5A4FF"/>
<rect x="462.5" y="2217.86" width="153.5" height="2.41" fill="#BD98FF"/>
<rect x="462.5" y="2220.27" width="153.5" height="4.81" fill="#9C71FF"/>
<rect x="462.5" y="2225.08" width="153.5" height="2.41" fill="#A97FFF"/>
<rect x="462.5" y="2237.13" width="153.5" height="1.17" fill="#643BFF"/>
<rect x="462.5" y="2240.71" width="153.5" height="2.41" fill="#9C70FF"/>
<rect x="462.5" y="2245.52" width="153.5" height="2.41" fill="#A075FF"/>
<rect x="462.5" y="2252.74" width="153.5" height="4.81" fill="#A176FF"/>
<rect x="462.5" y="2259.97" width="153.5" height="2.41" fill="#A378FF"/>
<rect x="462.5" y="2262.37" width="153.5" height="1.23" fill="#C6A4FF"/>
<rect x="462.5" y="2263.60" width="153.5" height="2.41" fill="#DCC5FF"/>
<rect x="462.5" y="2266.01" width="153.5" height="2.41" fill="#C4A2FF"/>
<rect x="462.5" y="2268.41" width="153.5" height="4.81" fill="#C6A5FF"/>
<rect x="462.5" y="2273.23" width="153.5" height="4.81" fill="#DFC9FF"/>
<rect x="462.5" y="2278.04" width="153.5" height="2.41" fill="#E0CBFF"/>
<rect x="462.5" y="2280.45" width="153.5" height="2.41" fill="#C29FFF"/>
<rect x="462.5" y="2282.86" width="153.5" height="2.44" fill="#E3D0FF"/>
<rect x="462.5" y="2292.52" width="153.5" height="4.81" fill="#C6A4FF"/>
<rect x="462.5" y="2297.34" width="153.5" height="1.26" fill="#AD83FF"/>
<rect x="462.5" y="2298.60" width="153.5" height="2.41" fill="#CAAAFF"/>
<rect x="462.5" y="2301.01" width="153.5" height="4.81" fill="#C9A9FF"/>
<rect x="462.5" y="2305.82" width="153.5" height="2.41" fill="#D2B5FF"/>
<rect x="462.5" y="2308.23" width="153.5" height="2.41" fill="#EBDCFF"/>
<rect x="462.5" y="2310.64" width="153.5" height="1.16" fill="#C9A8FF"/>
<rect x="462.5" y="2316.61" width="153.5" height="2.41" fill="#AC82FF"/>
<rect x="462.5" y="2328.70" width="153.5" height="4.81" fill="#683EFF"/>
<rect x="462.5" y="2333.51" width="153.5" height="2.41" fill="#5F36FF"/>
<rect x="462.5" y="2335.92" width="153.5" height="2.38" fill="#5D35FF"/>
<rect x="462.5" y="2338.30" width="153.5" height="4.81" fill="#D8BEFF"/>
<rect x="462.5" y="2347.93" width="153.5" height="2.41" fill="#DAC1FF"/>
<rect x="462.5" y="2350.34" width="153.5" height="4.81" fill="#DCC5FF"/>
<rect x="462.5" y="2355.15" width="153.5" height="2.41" fill="#D6BBFF"/>
<rect x="462.5" y="2357.56" width="153.5" height="2.41" fill="#BF9BFF"/>
<rect x="462.5" y="2359.97" width="153.5" height="2.41" fill="#C3A0FF"/>
<rect x="462.5" y="2362.37" width="153.5" height="2.43" fill="#B993FF"/>
<rect x="462.5" y="2364.80" width="153.5" height="2.41" fill="#C4A2FF"/>
<rect x="462.5" y="2367.21" width="153.5" height="4.79" fill="#C6A4FF"/>
<rect x="462.5" y="2372.00" width="153.5" height="2.41" fill="#E4D1FF"/>
<rect x="462.5" y="2381.63" width="153.5" height="4.81" fill="#EDE0FF"/>
<rect x="616" y="1704.80" width="153.5" height="7.80" fill="#D4B9FF"/>
<rect x="616" y="1712.00" width="153.5" height="11.90" fill="#9063FF"/>
<rect x="616" y="1723.30" width="153.5" height="7.40" fill="#C4A2FF"/>
<rect x="616" y="1730.10" width="153.5" height="23.20" fill="#A074FF"/>
<rect x="616" y="1752.70" width="153.5" height="7.40" fill="#D8BFFF"/>
<rect x="616" y="1759.50" width="153.5" height="16.40" fill="#A074FF"/>
<rect x="616" y="1775.30" width="153.5" height="18.70" fill="#7E52FF"/>
<rect x="616" y="1793.40" width="153.5" height="15.60" fill="#5932FF"/>
<rect x="616" y="1808.40" width="153.5" height="11.70" fill="#0000FF"/>
<rect x="616" y="1819.50" width="153.5" height="14.10" fill="#502BFF"/>
<rect x="616" y="1833.00" width="153.5" height="15.00" fill="#8A5DFF"/>
<rect x="616" y="1847.40" width="153.5" height="23.90" fill="#4523FF"/>
<rect x="616" y="1870.70" width="153.5" height="24.70" fill="#7E52FF"/>
<rect x="616" y="1894.80" width="153.5" height="13.40" fill="#4523FF"/>
<rect x="616" y="1907.60" width="153.5" height="24.30" fill="#6239FF"/>
<rect x="616" y="1931.30" width="153.5" height="2.90" fill="#381BFF"/>
<rect x="616" y="1933.60" width="153.5" height="5.40" fill="#E3D0FF"/>
<rect x="616" y="1938.40" width="153.5" height="16.30" fill="#BC97FF"/>
<rect x="616" y="1954.10" width="153.5" height="16.30" fill="#F5EDFF"/>
<rect x="616" y="1969.80" width="153.5" height="9.00" fill="#CCADFF"/>
<rect x="616" y="1978.20" width="153.5" height="24.70" fill="#A074FF"/>
<rect x="616" y="2002.30" width="153.5" height="17.50" fill="#D4B9FF"/>
<rect x="616" y="2019.20" width="153.5" height="15.00" fill="#9569FF"/>
<rect x="616" y="2033.60" width="153.5" height="24.70" fill="#E5F2D7"/>
<rect x="616" y="2057.70" width="153.5" height="53.60" fill="#C3E2A7"/>
<rect x="616" y="2110.70" width="153.5" height="25.90" fill="#A0D276"/>
<rect x="616" y="2136.00" width="153.5" height="13.90" fill="#DEEFCE"/>
<rect x="616" y="2149.30" width="153.5" height="18.50" fill="#EBF5E1"/>
<rect x="616" y="2167.20" width="153.5" height="35.60" fill="#D1E9BA"/>
<rect x="616" y="2202.20" width="153.5" height="28.30" fill="#92CB63"/>
<rect x="616" y="2229.90" width="153.5" height="24.70" fill="#BCDF9D"/>
<rect x="616" y="2254.00" width="153.5" height="31.90" fill="#82C54E"/>
<rect x="616" y="2285.30" width="153.5" height="31.90" fill="#B6DC93"/>
<rect x="616" y="2316.60" width="153.5" height="17.50" fill="#82C54E"/>
<rect x="616" y="2333.50" width="153.5" height="15.10" fill="#A7D580"/>
<rect x="616" y="2348.00" width="153.5" height="19.80" fill="#82C54E"/>
<rect x="616" y="2367.20" width="153.5" height="21.90" fill="#A0D276"/>
<rect x="616" y="1704.80" width="153.5" height="2.41" fill="#C4A1FF"/>
<rect x="616" y="1707.21" width="153.5" height="4.79" fill="#C19DFF"/>
<rect x="616" y="1712.00" width="153.5" height="2.41" fill="#A57AFF"/>
<rect x="616" y="1714.41" width="153.5" height="4.81" fill="#7E52FF"/>
<rect x="616" y="1719.22" width="153.5" height="2.41" fill="#9D71FF"/>
<rect x="616" y="1721.63" width="153.5" height="1.67" fill="#7E51FF"/>
<rect x="616" y="1728.11" width="153.5" height="1.99" fill="#D5BAFF"/>
<rect x="616" y="1730.10" width="153.5" height="4.81" fill="#B088FF"/>
<rect x="616" y="1746.95" width="153.5" height="4.81" fill="#9265FF"/>
<rect x="616" y="1751.77" width="153.5" height="0.93" fill="#AE85FF"/>
<rect x="616" y="1757.51" width="153.5" height="1.99" fill="#CAAAFF"/>
<rect x="616" y="1759.50" width="153.5" height="2.41" fill="#8B5EFF"/>
<rect x="616" y="1761.91" width="153.5" height="4.81" fill="#B48DFF"/>
<rect x="616" y="1766.72" width="153.5" height="2.41" fill="#B690FF"/>
<rect x="616" y="1769.13" width="153.5" height="4.81" fill="#8659FF"/>
<rect x="616" y="1773.94" width="153.5" height="1.36" fill="#8C60FF"/>
<rect x="616" y="1780.11" width="153.5" height="4.81" fill="#5F37FF"/>
<rect x="616" y="1784.93" width="153.5" height="2.41" fill="#5F36FF"/>
<rect x="616" y="1787.34" width="153.5" height="4.81" fill="#8E61FF"/>
<rect x="616" y="1792.15" width="153.5" height="1.25" fill="#9164FF"/>
<rect x="616" y="1793.40" width="153.5" height="4.81" fill="#774BFF"/>
<rect x="616" y="1798.21" width="153.5" height="2.41" fill="#764AFF"/>
<rect x="616" y="1800.62" width="153.5" height="4.81" fill="#7B4EFF"/>
<rect x="616" y="1805.44" width="153.5" height="2.41" fill="#3E1FFF"/>
<rect x="616" y="1807.84" width="153.5" height="0.56" fill="#2811FF"/>
<rect x="616" y="1808.40" width="153.5" height="2.41" fill="#4A27FF"/>
<rect x="616" y="1810.81" width="153.5" height="4.81" fill="#0000FF"/>
<rect x="616" y="1819.50" width="153.5" height="2.41" fill="#0000FF"/>
<rect x="616" y="1821.91" width="153.5" height="2.41" fill="#693FFF"/>
<rect x="616" y="1824.31" width="153.5" height="4.81" fill="#2710FF"/>
<rect x="616" y="1831.54" width="153.5" height="1.46" fill="#0000FF"/>
<rect x="616" y="1833.00" width="153.5" height="2.41" fill="#A176FF"/>
<rect x="616" y="1835.41" width="153.5" height="2.41" fill="#966AFF"/>
<rect x="616" y="1837.81" width="153.5" height="2.41" fill="#A075FF"/>
<rect x="616" y="1847.40" width="153.5" height="2.41" fill="#6138FF"/>
<rect x="616" y="1854.62" width="153.5" height="4.81" fill="#0000FF"/>
<rect x="616" y="1859.44" width="153.5" height="4.81" fill="#0A03FF"/>
<rect x="616" y="1866.66" width="153.5" height="2.41" fill="#0000FF"/>
<rect x="616" y="1870.70" width="153.5" height="2.41" fill="#8E61FF"/>
<rect x="616" y="1873.11" width="153.5" height="2.41" fill="#5A32FF"/>
<rect x="616" y="1875.51" width="153.5" height="2.41" fill="#6138FF"/>
<rect x="616" y="1877.92" width="153.5" height="4.81" fill="#9063FF"/>
<rect x="616" y="1882.74" width="153.5" height="2.41" fill="#996DFF"/>
<rect x="616" y="1889.96" width="153.5" height="4.81" fill="#6E43FF"/>
<rect x="616" y="1894.80" width="153.5" height="2.41" fill="#220DFF"/>
<rect x="616" y="1897.21" width="153.5" height="2.41" fill="#6C42FF"/>
<rect x="616" y="1902.02" width="153.5" height="2.41" fill="#6C42FF"/>
<rect x="616" y="1910.01" width="153.5" height="2.41" fill="#371AFF"/>
<rect x="616" y="1912.41" width="153.5" height="2.41" fill="#7E51FF"/>
<rect x="616" y="1914.82" width="153.5" height="4.81" fill="#3619FF"/>
<rect x="616" y="1919.64" width="153.5" height="4.81" fill="#2B13FF"/>
<rect x="616" y="1926.86" width="153.5" height="2.41" fill="#7E52FF"/>
<rect x="616" y="1929.27" width="153.5" height="2.03" fill="#4121FF"/>
<rect x="616" y="1931.30" width="153.5" height="2.30" fill="#0000FF"/>
<rect x="616" y="1933.60" width="153.5" height="2.41" fill="#D5BAFF"/>
<rect x="616" y="1936.01" width="153.5" height="2.39" fill="#EDDFFF"/>
<rect x="616" y="1945.62" width="153.5" height="4.81" fill="#AC83FF"/>
<rect x="616" y="1961.32" width="153.5" height="4.81" fill="#F3EAFF"/>
<rect x="616" y="1969.80" width="153.5" height="4.81" fill="#D9C0FF"/>
<rect x="616" y="1974.61" width="153.5" height="3.59" fill="#BE9AFF"/>
<rect x="616" y="1978.20" width="153.5" height="2.41" fill="#B68FFF"/>
<rect x="616" y="1992.64" width="153.5" height="2.41" fill="#9367FF"/>
<rect x="616" y="1995.05" width="153.5" height="4.81" fill="#B791FF"/>
<rect x="616" y="1999.87" width="153.5" height="2.41" fill="#B68FFF"/>
<rect x="616" y="2002.30" width="153.5" height="2.41" fill="#C8A7FF"/>
<rect x="616" y="2004.71" width="153.5" height="2.41" fill="#E6D5FF"/>
<rect x="616" y="2007.11" width="153.5" height="2.41" fill="#DDC6FF"/>
<rect x="616" y="2009.52" width="153.5" height="2.41" fill="#CBACFF"/>
<rect x="616" y="2014.34" width="153.5" height="2.41" fill="#CCACFF"/>
<rect x="616" y="2024.01" width="153.5" height="4.81" fill="#AD84FF"/>
<rect x="616" y="2031.24" width="153.5" height="2.36" fill="#885BFF"/>
<rect x="616" y="2038.41" width="153.5" height="4.81" fill="#EDF6E4"/>
<rect x="616" y="2043.23" width="153.5" height="2.41" fill="#DEEFCE"/>
<rect x="616" y="2045.64" width="153.5" height="4.81" fill="#DDEECB"/>
<rect x="616" y="2050.45" width="153.5" height="2.41" fill="#D9EDC7"/>
<rect x="616" y="2052.86" width="153.5" height="4.81" fill="#DEEFCD"/>
<rect x="616" y="2057.70" width="153.5" height="4.81" fill="#BCDF9D"/>
<rect x="616" y="2064.92" width="153.5" height="4.81" fill="#D0E8B9"/>
<rect x="616" y="2072.14" width="153.5" height="4.81" fill="#BCDF9D"/>
<rect x="616" y="2076.96" width="153.5" height="2.41" fill="#CCE6B3"/>
<rect x="616" y="2079.37" width="153.5" height="2.41" fill="#BCDF9D"/>
<rect x="616" y="2081.77" width="153.5" height="4.81" fill="#CFE8B7"/>
<rect x="616" y="2093.81" width="153.5" height="4.81" fill="#B4DB92"/>
<rect x="616" y="2098.63" width="153.5" height="2.41" fill="#B6DC94"/>
<rect x="616" y="2101.03" width="153.5" height="2.41" fill="#BADE99"/>
<rect x="616" y="2103.44" width="153.5" height="2.41" fill="#B8DD97"/>
<rect x="616" y="2105.85" width="153.5" height="2.41" fill="#D3EABD"/>
<rect x="616" y="2108.26" width="153.5" height="2.44" fill="#CDE7B4"/>
<rect x="616" y="2110.70" width="153.5" height="4.81" fill="#96CD69"/>
<rect x="616" y="2117.92" width="153.5" height="2.41" fill="#93CC65"/>
<rect x="616" y="2132.37" width="153.5" height="2.41" fill="#97CE6B"/>
<rect x="616" y="2134.77" width="153.5" height="1.23" fill="#ABD785"/>
<rect x="616" y="2136.00" width="153.5" height="4.81" fill="#E9F4DD"/>
<rect x="616" y="2140.81" width="153.5" height="4.81" fill="#D6EBC1"/>
<rect x="616" y="2145.63" width="153.5" height="2.41" fill="#D7EBC2"/>
<rect x="616" y="2149.30" width="153.5" height="2.41" fill="#F4F9ED"/>
<rect x="616" y="2154.11" width="153.5" height="2.41" fill="#F9FCF6"/>
<rect x="616" y="2163.74" width="153.5" height="2.41" fill="#F8FCF5"/>
<rect x="616" y="2166.15" width="153.5" height="1.05" fill="#E4F2D5"/>
<rect x="616" y="2167.20" width="153.5" height="4.81" fill="#C1E1A3"/>
<rect x="616" y="2174.42" width="153.5" height="2.41" fill="#DDEFCC"/>
<rect x="616" y="2176.83" width="153.5" height="2.41" fill="#C6E4AB"/>
<rect x="616" y="2179.24" width="153.5" height="4.81" fill="#DBEEC9"/>
<rect x="616" y="2188.87" width="153.5" height="2.41" fill="#C6E4AB"/>
<rect x="616" y="2193.68" width="153.5" height="4.81" fill="#C6E3AA"/>
<rect x="616" y="2200.90" width="153.5" height="1.30" fill="#C8E5AE"/>
<rect x="616" y="2202.20" width="153.5" height="4.81" fill="#9FD275"/>
<rect x="616" y="2209.42" width="153.5" height="2.41" fill="#9ACF6E"/>
<rect x="616" y="2216.64" width="153.5" height="2.41" fill="#A4D47B"/>
<rect x="616" y="2219.05" width="153.5" height="4.81" fill="#86C654"/>
<rect x="616" y="2223.87" width="153.5" height="2.41" fill="#9BD06F"/>
<rect x="616" y="2229.90" width="153.5" height="4.81" fill="#CBE6B1"/>
<rect x="616" y="2234.71" width="153.5" height="2.41" fill="#C8E5AE"/>
<rect x="616" y="2237.12" width="153.5" height="2.41" fill="#B0D98C"/>
<rect x="616" y="2239.53" width="153.5" height="2.41" fill="#CBE6B1"/>
<rect x="616" y="2241.94" width="153.5" height="4.81" fill="#AED88A"/>
<rect x="616" y="2254.00" width="153.5" height="2.41" fill="#72BE38"/>
<rect x="616" y="2256.41" width="153.5" height="4.81" fill="#8AC859"/>
<rect x="616" y="2261.22" width="153.5" height="4.81" fill="#91CB63"/>
<rect x="616" y="2266.04" width="153.5" height="2.41" fill="#74BF3B"/>
<rect x="616" y="2268.44" width="153.5" height="2.41" fill="#77C03F"/>
<rect x="616" y="2270.85" width="153.5" height="2.41" fill="#77C03F"/>
<rect x="616" y="2273.26" width="153.5" height="2.41" fill="#72BE38"/>
<rect x="616" y="2275.67" width="153.5" height="4.81" fill="#8FCA5F"/>
<rect x="616" y="2287.71" width="153.5" height="4.81" fill="#ABD786"/>
<rect x="616" y="2292.52" width="153.5" height="2.41" fill="#C0E1A2"/>
<rect x="616" y="2294.93" width="153.5" height="4.81" fill="#BFE0A1"/>
<rect x="616" y="2299.74" width="153.5" height="2.41" fill="#ADD888"/>
<rect x="616" y="2311.78" width="153.5" height="4.81" fill="#C5E3A9"/>
<rect x="616" y="2316.60" width="153.5" height="2.41" fill="#72BE38"/>
<rect x="616" y="2323.82" width="153.5" height="2.41" fill="#8FCA60"/>
<rect x="616" y="2326.23" width="153.5" height="4.81" fill="#74BF3A"/>
<rect x="616" y="2331.04" width="153.5" height="2.41" fill="#8FCA60"/>
<rect x="616" y="2340.72" width="153.5" height="2.41" fill="#9BD070"/>
<rect x="616" y="2345.54" width="153.5" height="2.46" fill="#B6DC95"/>
<rect x="616" y="2352.81" width="153.5" height="4.81" fill="#94CD66"/>
<rect x="616" y="2357.63" width="153.5" height="4.81" fill="#94CC65"/>
<rect x="616" y="2362.44" width="153.5" height="4.76" fill="#72BE38"/>
<rect x="616" y="2367.20" width="153.5" height="2.41" fill="#95CD67"/>
<rect x="616" y="2372.01" width="153.5" height="2.41" fill="#97CE6A"/>
<rect x="616" y="2374.42" width="153.5" height="2.41" fill="#B1DA8D"/>
<rect x="769.5" y="1704.80" width="153.5" height="7.80" fill="#B38BFF"/>
<rect x="769.5" y="1712.00" width="153.5" height="18.70" fill="#CCADFF"/>
<rect x="769.5" y="1730.10" width="153.5" height="12.70" fill="#8A5DFF"/>
<rect x="769.5" y="1742.20" width="153.5" height="17.40" fill="#BC97FF"/>
<rect x="769.5" y="1759.00" width="153.5" height="18.70" fill="#EBDCFF"/>
<rect x="769.5" y="1777.10" width="153.5" height="44.00" fill="#F0E5FF"/>
<rect x="769.5" y="1820.50" width="153.5" height="22.30" fill="#DCC4FF"/>
<rect x="769.5" y="1842.20" width="153.5" height="6.60" fill="#FCF9FF"/>
<rect x="769.5" y="1848.20" width="153.5" height="40.40" fill="#D4B9FF"/>
<rect x="769.5" y="1888.00" width="153.5" height="17.40" fill="#C4A2FF"/>
<rect x="769.5" y="1904.80" width="153.5" height="27.10" fill="#F5EDFF"/>
<rect x="769.5" y="1931.30" width="153.5" height="2.90" fill="#DCC4FF"/>
<rect x="769.5" y="1933.60" width="153.5" height="9.00" fill="#C4A2FF"/>
<rect x="769.5" y="1942.00" width="153.5" height="12.70" fill="#EBDCFF"/>
<rect x="769.5" y="1954.10" width="153.5" height="16.30" fill="#AA80FF"/>
<rect x="769.5" y="1969.80" width="153.5" height="23.50" fill="#CCADFF"/>
<rect x="769.5" y="1992.70" width="153.5" height="10.20" fill="#AA80FF"/>
<rect x="769.5" y="2002.30" width="153.5" height="27.10" fill="#E3D0FF"/>
<rect x="769.5" y="2028.80" width="153.5" height="5.40" fill="#FFFFFF"/>
<rect x="769.5" y="2033.60" width="153.5" height="15.00" fill="#A7D580"/>
<rect x="769.5" y="2048.00" width="153.5" height="17.60" fill="#99CF6D"/>
<rect x="769.5" y="2065.00" width="153.5" height="17.40" fill="#AFD88A"/>
<rect x="769.5" y="2081.80" width="153.5" height="22.30" fill="#D8ECC4"/>
<rect x="769.5" y="2103.50" width="153.5" height="44.00" fill="#EBF5E1"/>
<rect x="769.5" y="2146.90" width="153.5" height="17.40" fill="#D1E9BA"/>
<rect x="769.5" y="2163.70" width="153.5" height="8.90" fill="#F2F9EB"/>
<rect x="769.5" y="2172.00" width="153.5" height="17.50" fill="#D1E9BA"/>
<rect x="769.5" y="2188.90" width="153.5" height="11.50" fill="#F8F3FF"/>
<rect x="769.5" y="2199.80" width="153.5" height="33.10" fill="#EBF5E1"/>
<rect x="769.5" y="2232.30" width="153.5" height="21.10" fill="#CAE5B0"/>
<rect x="769.5" y="2252.80" width="153.5" height="16.20" fill="#F2F9EB"/>
<rect x="769.5" y="2268.40" width="153.5" height="36.80" fill="#F8F3FF"/>
<rect x="769.5" y="2304.60" width="153.5" height="7.80" fill="#FFFFFF"/>
<rect x="769.5" y="2311.80" width="153.5" height="7.80" fill="#A7D580"/>
<rect x="769.5" y="2319.00" width="153.5" height="15.10" fill="#D1E9BA"/>
<rect x="769.5" y="2333.50" width="153.5" height="12.60" fill="#BCDF9D"/>
<rect x="769.5" y="2345.50" width="153.5" height="22.30" fill="#EBF5E1"/>
<rect x="769.5" y="2367.20" width="153.5" height="21.90" fill="#C3E2A7"/>
<rect x="769.5" y="1704.80" width="153.5" height="2.41" fill="#BF9BFF"/>
<rect x="769.5" y="1707.21" width="153.5" height="4.79" fill="#BF9BFF"/>
<rect x="769.5" y="1712.00" width="153.5" height="2.41" fill="#C4A1FF"/>
<rect x="769.5" y="1716.81" width="153.5" height="4.81" fill="#BA94FF"/>
<rect x="769.5" y="1721.63" width="153.5" height="2.41" fill="#C4A2FF"/>
<rect x="769.5" y="1726.44" width="153.5" height="3.66" fill="#DFC9FF"/>
<rect x="769.5" y="1739.73" width="153.5" height="2.41" fill="#966AFF"/>
<rect x="769.5" y="1744.61" width="153.5" height="4.81" fill="#A97FFF"/>
<rect x="769.5" y="1751.83" width="153.5" height="4.81" fill="#CCADFF"/>
<rect x="769.5" y="1761.41" width="153.5" height="2.41" fill="#DAC1FF"/>
<rect x="769.5" y="1766.22" width="153.5" height="4.81" fill="#DAC2FF"/>
<rect x="769.5" y="1771.04" width="153.5" height="4.81" fill="#F9F4FF"/>
<rect x="769.5" y="1784.32" width="153.5" height="4.81" fill="#E1CDFF"/>
<rect x="769.5" y="1793.95" width="153.5" height="2.41" fill="#E2CEFF"/>
<rect x="769.5" y="1796.36" width="153.5" height="2.41" fill="#FDFBFF"/>
<rect x="769.5" y="1798.77" width="153.5" height="2.41" fill="#FAF5FF"/>
<rect x="769.5" y="1801.17" width="153.5" height="4.81" fill="#DFC9FF"/>
<rect x="769.5" y="1805.99" width="153.5" height="2.41" fill="#FAF6FF"/>
<rect x="769.5" y="1808.40" width="153.5" height="4.81" fill="#F7F1FF"/>
<rect x="769.5" y="1813.21" width="153.5" height="2.41" fill="#E5D3FF"/>
<rect x="769.5" y="1820.50" width="153.5" height="4.81" fill="#ECDEFF"/>
<rect x="769.5" y="1827.72" width="153.5" height="4.81" fill="#CAAAFF"/>
<rect x="769.5" y="1832.54" width="153.5" height="2.41" fill="#E6D4FF"/>
<rect x="769.5" y="1847.01" width="153.5" height="1.19" fill="#FBF8FF"/>
<rect x="769.5" y="1848.20" width="153.5" height="2.41" fill="#DFC9FF"/>
<rect x="769.5" y="1850.61" width="153.5" height="4.81" fill="#C4A2FF"/>
<rect x="769.5" y="1862.64" width="153.5" height="2.41" fill="#C09DFF"/>
<rect x="769.5" y="1869.87" width="153.5" height="2.41" fill="#C9A9FF"/>
<rect x="769.5" y="1872.27" width="153.5" height="2.41" fill="#C5A4FF"/>
<rect x="769.5" y="1874.68" width="153.5" height="2.41" fill="#CBACFF"/>
<rect x="769.5" y="1877.09" width="153.5" height="4.81" fill="#CAAAFF"/>
<rect x="769.5" y="1881.90" width="153.5" height="4.81" fill="#DEC7FF"/>
<rect x="769.5" y="1888.00" width="153.5" height="4.81" fill="#CDAEFF"/>
<rect x="769.5" y="1892.81" width="153.5" height="2.41" fill="#CEAFFF"/>
<rect x="769.5" y="1895.22" width="153.5" height="2.41" fill="#BB96FF"/>
<rect x="769.5" y="1897.63" width="153.5" height="4.81" fill="#CDAEFF"/>
<rect x="769.5" y="1904.80" width="153.5" height="2.41" fill="#F3EAFF"/>
<rect x="769.5" y="1907.21" width="153.5" height="2.41" fill="#FCFAFF"/>
<rect x="769.5" y="1909.61" width="153.5" height="2.41" fill="#E6D4FF"/>
<rect x="769.5" y="1916.84" width="153.5" height="4.81" fill="#E6D5FF"/>
<rect x="769.5" y="1924.06" width="153.5" height="4.81" fill="#E9DAFF"/>
<rect x="769.5" y="1933.60" width="153.5" height="4.81" fill="#CEAFFF"/>
<rect x="769.5" y="1940.82" width="153.5" height="1.18" fill="#D7BDFF"/>
<rect x="769.5" y="1944.41" width="153.5" height="4.81" fill="#DEC8FF"/>
<rect x="769.5" y="1951.63" width="153.5" height="2.41" fill="#FAF6FF"/>
<rect x="769.5" y="1958.91" width="153.5" height="2.41" fill="#9367FF"/>
<rect x="769.5" y="1961.32" width="153.5" height="4.81" fill="#B38BFF"/>
<rect x="769.5" y="1969.80" width="153.5" height="4.81" fill="#D5BAFF"/>
<rect x="769.5" y="1974.61" width="153.5" height="2.41" fill="#D9C1FF"/>
<rect x="769.5" y="1977.02" width="153.5" height="4.81" fill="#D9C1FF"/>
<rect x="769.5" y="1992.70" width="153.5" height="2.41" fill="#B891FF"/>
<rect x="769.5" y="1997.51" width="153.5" height="2.41" fill="#9E72FF"/>
<rect x="769.5" y="1999.92" width="153.5" height="2.38" fill="#986CFF"/>
<rect x="769.5" y="2002.30" width="153.5" height="2.41" fill="#DCC4FF"/>
<rect x="769.5" y="2004.71" width="153.5" height="2.41" fill="#EFE2FF"/>
<rect x="769.5" y="2007.11" width="153.5" height="4.81" fill="#D6BCFF"/>
<rect x="769.5" y="2021.56" width="153.5" height="2.41" fill="#EEE1FF"/>
<rect x="769.5" y="2023.97" width="153.5" height="2.41" fill="#EEE1FF"/>
<rect x="769.5" y="2026.37" width="153.5" height="2.43" fill="#F3E9FF"/>
<rect x="769.5" y="2033.60" width="153.5" height="2.41" fill="#A0D276"/>
<rect x="769.5" y="2038.41" width="153.5" height="2.41" fill="#9DD072"/>
<rect x="769.5" y="2043.23" width="153.5" height="4.77" fill="#9CD071"/>
<rect x="769.5" y="2048.00" width="153.5" height="2.41" fill="#A3D37A"/>
<rect x="769.5" y="2055.22" width="153.5" height="2.41" fill="#8AC859"/>
<rect x="769.5" y="2065.00" width="153.5" height="2.41" fill="#B9DD98"/>
<rect x="769.5" y="2067.41" width="153.5" height="2.41" fill="#BADE99"/>
<rect x="769.5" y="2069.81" width="153.5" height="4.81" fill="#B6DC94"/>
<rect x="769.5" y="2079.44" width="153.5" height="2.36" fill="#A5D47C"/>
<rect x="769.5" y="2081.80" width="153.5" height="2.41" fill="#E0F0D0"/>
<rect x="769.5" y="2089.02" width="153.5" height="2.41" fill="#CEE7B6"/>
<rect x="769.5" y="2101.06" width="153.5" height="2.41" fill="#E7F3DB"/>
<rect x="769.5" y="2108.31" width="153.5" height="4.81" fill="#F5FAEF"/>
<rect x="769.5" y="2115.54" width="153.5" height="2.41" fill="#E3F1D4"/>
<rect x="769.5" y="2117.94" width="153.5" height="4.81" fill="#DCEECB"/>
<rect x="769.5" y="2122.76" width="153.5" height="2.41" fill="#E0F0D0"/>
<rect x="769.5" y="2125.17" width="153.5" height="2.41" fill="#F5FAF0"/>
<rect x="769.5" y="2129.98" width="153.5" height="2.41" fill="#FAFDF7"/>
<rect x="769.5" y="2142.02" width="153.5" height="2.41" fill="#DFF0CF"/>
<rect x="769.5" y="2146.90" width="153.5" height="2.41" fill="#CAE5B0"/>
<rect x="769.5" y="2149.31" width="153.5" height="2.41" fill="#D9EDC6"/>
<rect x="769.5" y="2151.71" width="153.5" height="4.81" fill="#DAEDC7"/>
<rect x="769.5" y="2156.53" width="153.5" height="2.41" fill="#C1E1A4"/>
<rect x="769.5" y="2168.51" width="153.5" height="2.41" fill="#E2F1D3"/>
<rect x="769.5" y="2170.92" width="153.5" height="1.08" fill="#FDFEFB"/>
<rect x="769.5" y="2172.00" width="153.5" height="2.41" fill="#C2E2A5"/>
<rect x="769.5" y="2174.41" width="153.5" height="2.41" fill="#C3E2A7"/>
<rect x="769.5" y="2176.81" width="153.5" height="2.41" fill="#C5E3AA"/>
<rect x="769.5" y="2179.22" width="153.5" height="2.41" fill="#D9EDC6"/>
<rect x="769.5" y="2181.63" width="153.5" height="4.81" fill="#CAE5B0"/>
<rect x="769.5" y="2186.44" width="153.5" height="2.46" fill="#C8E4AD"/>
<rect x="769.5" y="2188.90" width="153.5" height="2.41" fill="#FAF6FF"/>
<rect x="769.5" y="2193.71" width="153.5" height="2.41" fill="#F7F1FF"/>
<rect x="769.5" y="2196.12" width="153.5" height="3.68" fill="#F8F2FF"/>
<rect x="769.5" y="2204.61" width="153.5" height="4.81" fill="#F8FCF5"/>
<rect x="769.5" y="2211.84" width="153.5" height="2.41" fill="#F8FBF4"/>
<rect x="769.5" y="2216.65" width="153.5" height="2.41" fill="#F4FAEE"/>
<rect x="769.5" y="2219.06" width="153.5" height="2.41" fill="#DEEFCD"/>
<rect x="769.5" y="2223.87" width="153.5" height="2.41" fill="#E2F1D3"/>
<rect x="769.5" y="2226.28" width="153.5" height="2.41" fill="#DDEFCC"/>
<rect x="769.5" y="2228.69" width="153.5" height="2.41" fill="#F9FCF6"/>
<rect x="769.5" y="2231.10" width="153.5" height="1.20" fill="#DFF0CF"/>
<rect x="769.5" y="2232.30" width="153.5" height="4.81" fill="#D6EBC2"/>
<rect x="769.5" y="2237.11" width="153.5" height="2.41" fill="#BADE9A"/>
<rect x="769.5" y="2239.52" width="153.5" height="2.41" fill="#BEE0A0"/>
<rect x="769.5" y="2241.93" width="153.5" height="4.81" fill="#D8ECC5"/>
<rect x="769.5" y="2252.80" width="153.5" height="2.41" fill="#FBFDF9"/>
<rect x="769.5" y="2255.21" width="153.5" height="2.41" fill="#FCFEFB"/>
<rect x="769.5" y="2262.43" width="153.5" height="2.41" fill="#FAFCF7"/>
<rect x="769.5" y="2264.84" width="153.5" height="2.41" fill="#FAFDF8"/>
<rect x="769.5" y="2267.24" width="153.5" height="1.16" fill="#F9FCF6"/>
<rect x="769.5" y="2270.81" width="153.5" height="2.41" fill="#F9F5FF"/>
<rect x="769.5" y="2275.62" width="153.5" height="2.41" fill="#FAF5FF"/>
<rect x="769.5" y="2278.03" width="153.5" height="4.81" fill="#FAF6FF"/>
<rect x="769.5" y="2282.84" width="153.5" height="4.81" fill="#F7F1FF"/>
<rect x="769.5" y="2292.47" width="153.5" height="2.41" fill="#FAF5FF"/>
<rect x="769.5" y="2294.88" width="153.5" height="2.41" fill="#F7F0FF"/>
<rect x="769.5" y="2297.29" width="153.5" height="2.41" fill="#F7F0FF"/>
<rect x="769.5" y="2299.70" width="153.5" height="2.41" fill="#F7F1FF"/>
<rect x="769.5" y="2304.60" width="153.5" height="2.41" fill="#FFFFFF"/>
<rect x="769.5" y="2307.01" width="153.5" height="2.41" fill="#FFFFFF"/>
<rect x="769.5" y="2309.41" width="153.5" height="2.39" fill="#FFFFFF"/>
<rect x="769.5" y="2311.80" width="153.5" height="4.81" fill="#B8DD98"/>
<rect x="769.5" y="2321.41" width="153.5" height="4.81" fill="#D8ECC5"/>
<rect x="769.5" y="2328.63" width="153.5" height="2.41" fill="#DAEDC8"/>
<rect x="769.5" y="2331.04" width="153.5" height="2.46" fill="#DCEECA"/>
<rect x="769.5" y="2335.91" width="153.5" height="2.41" fill="#B5DC93"/>
<rect x="769.5" y="2340.72" width="153.5" height="2.41" fill="#AFD98A"/>
<rect x="769.5" y="2345.50" width="153.5" height="2.41" fill="#F6FBF1"/>
<rect x="769.5" y="2357.54" width="153.5" height="2.41" fill="#FBFDFA"/>
<rect x="769.5" y="2359.94" width="153.5" height="4.81" fill="#E4F2D6"/>
<rect x="769.5" y="2364.76" width="153.5" height="2.41" fill="#E0F0D1"/>
<rect x="769.5" y="2372.01" width="153.5" height="4.81" fill="#B7DC95"/>
<rect x="769.5" y="2376.83" width="153.5" height="2.41" fill="#D1E9BB"/>
<rect x="769.5" y="2379.24" width="153.5" height="2.41" fill="#B5DC93"/>
<rect x="769.5" y="2381.64" width="153.5" height="2.41" fill="#D0E8B9"/>
<rect x="769.5" y="2384.05" width="153.5" height="4.45" fill="#CBE6B2"/>
<rect x="923" y="1704.80" width="154.5" height="7.80" fill="#A074FF"/>
<rect x="923" y="1712.00" width="154.5" height="18.70" fill="#D4B9FF"/>
<rect x="923" y="1730.10" width="154.5" height="6.60" fill="#FCF9FF"/>
<rect x="923" y="1736.10" width="154.5" height="18.70" fill="#DCC4FF"/>
<rect x="923" y="1754.20" width="154.5" height="21.40" fill="#A074FF"/>
<rect x="923" y="1775.00" width="154.5" height="10.60" fill="#7E52FF"/>
<rect x="923" y="1785.00" width="154.5" height="21.60" fill="#A074FF"/>
<rect x="923" y="1806.00" width="154.5" height="36.80" fill="#D4B9FF"/>
<rect x="923" y="1842.20" width="154.5" height="6.60" fill="#A074FF"/>
<rect x="923" y="1848.20" width="154.5" height="6.60" fill="#FCF9FF"/>
<rect x="923" y="1854.20" width="154.5" height="31.90" fill="#DCC4FF"/>
<rect x="923" y="1885.50" width="154.5" height="22.30" fill="#F2E7FF"/>
<rect x="923" y="1907.20" width="154.5" height="24.70" fill="#CCADFF"/>
<rect x="923" y="1931.30" width="154.5" height="2.90" fill="#B38BFF"/>
<rect x="923" y="1933.60" width="154.5" height="5.40" fill="#381BFF"/>
<rect x="923" y="1938.40" width="154.5" height="33.20" fill="#8A5DFF"/>
<rect x="923" y="1971.00" width="154.5" height="22.30" fill="#BC97FF"/>
<rect x="923" y="1992.70" width="154.5" height="10.20" fill="#EBDCFF"/>
<rect x="923" y="2002.30" width="154.5" height="17.50" fill="#7145FF"/>
<rect x="923" y="2019.20" width="154.5" height="15.00" fill="#B38BFF"/>
<rect x="923" y="2033.60" width="154.5" height="24.70" fill="#CAE5B0"/>
<rect x="923" y="2057.70" width="154.5" height="7.80" fill="#FFFFFF"/>
<rect x="923" y="2064.90" width="154.5" height="32.00" fill="#C3E2A7"/>
<rect x="923" y="2096.30" width="154.5" height="5.40" fill="#E5F2D7"/>
<rect x="923" y="2101.10" width="154.5" height="34.30" fill="#B6DC93"/>
<rect x="923" y="2134.80" width="154.5" height="68.00" fill="#92CB63"/>
<rect x="923" y="2202.20" width="154.5" height="54.80" fill="#BCDF9D"/>
<rect x="923" y="2256.40" width="154.5" height="11.40" fill="#EBF5E1"/>
<rect x="923" y="2267.20" width="154.5" height="18.70" fill="#C3E2A7"/>
<rect x="923" y="2285.30" width="154.5" height="27.10" fill="#A0D276"/>
<rect x="923" y="2311.80" width="154.5" height="34.30" fill="#F9FCF5"/>
<rect x="923" y="2345.50" width="154.5" height="22.30" fill="#E5F2D7"/>
<rect x="923" y="2367.20" width="154.5" height="21.90" fill="#F2F9EB"/>
<rect x="923" y="1707.21" width="154.5" height="2.41" fill="#875AFF"/>
<rect x="923" y="1712.00" width="154.5" height="4.81" fill="#E2CEFF"/>
<rect x="923" y="1719.22" width="154.5" height="2.41" fill="#E6D4FF"/>
<rect x="923" y="1721.63" width="154.5" height="2.41" fill="#C5A3FF"/>
<rect x="923" y="1724.04" width="154.5" height="4.81" fill="#CAAAFF"/>
<rect x="923" y="1728.85" width="154.5" height="1.25" fill="#DFC9FF"/>
<rect x="923" y="1732.51" width="154.5" height="2.41" fill="#FCFAFF"/>
<rect x="923" y="1734.91" width="154.5" height="1.19" fill="#FBF8FF"/>
<rect x="923" y="1740.91" width="154.5" height="4.81" fill="#CEAFFF"/>
<rect x="923" y="1745.73" width="154.5" height="2.41" fill="#EDE0FF"/>
<rect x="923" y="1750.54" width="154.5" height="2.41" fill="#CDAEFF"/>
<rect x="923" y="1754.20" width="154.5" height="2.41" fill="#8659FF"/>
<rect x="923" y="1756.61" width="154.5" height="4.81" fill="#AB82FF"/>
<rect x="923" y="1761.42" width="154.5" height="2.41" fill="#8558FF"/>
<rect x="923" y="1775.00" width="154.5" height="2.41" fill="#9467FF"/>
<rect x="923" y="1777.41" width="154.5" height="4.81" fill="#683EFF"/>
<rect x="923" y="1782.22" width="154.5" height="2.41" fill="#643AFF"/>
<rect x="923" y="1787.41" width="154.5" height="2.41" fill="#8B5EFF"/>
<rect x="923" y="1794.63" width="154.5" height="2.41" fill="#B189FF"/>
<rect x="923" y="1799.44" width="154.5" height="2.41" fill="#AC82FF"/>
<rect x="923" y="1801.85" width="154.5" height="2.41" fill="#B58EFF"/>
<rect x="923" y="1804.26" width="154.5" height="1.74" fill="#B58DFF"/>
<rect x="923" y="1808.41" width="154.5" height="4.81" fill="#E1CDFF"/>
<rect x="923" y="1813.22" width="154.5" height="4.81" fill="#C29EFF"/>
<rect x="923" y="1818.04" width="154.5" height="2.41" fill="#DFC9FF"/>
<rect x="923" y="1822.85" width="154.5" height="2.41" fill="#DDC5FF"/>
<rect x="923" y="1825.26" width="154.5" height="4.81" fill="#E0CBFF"/>
<rect x="923" y="1830.07" width="154.5" height="2.41" fill="#E0CBFF"/>
<rect x="923" y="1832.48" width="154.5" height="4.81" fill="#C29FFF"/>
<rect x="923" y="1837.30" width="154.5" height="4.81" fill="#C6A5FF"/>
<rect x="923" y="1842.20" width="154.5" height="4.81" fill="#B48DFF"/>
<rect x="923" y="1847.01" width="154.5" height="1.19" fill="#B28AFF"/>
<rect x="923" y="1853.01" width="154.5" height="1.19" fill="#FCFAFF"/>
<rect x="923" y="1854.20" width="154.5" height="2.41" fill="#CBACFF"/>
<rect x="923" y="1856.61" width="154.5" height="2.41" fill="#D0B3FF"/>
<rect x="923" y="1859.01" width="154.5" height="4.81" fill="#C9A9FF"/>
<rect x="923" y="1866.24" width="154.5" height="2.41" fill="#E6D5FF"/>
<rect x="923" y="1871.05" width="154.5" height="2.41" fill="#CAAAFF"/>
<rect x="923" y="1887.91" width="154.5" height="2.41" fill="#E4D1FF"/>
<rect x="923" y="1892.72" width="154.5" height="2.41" fill="#EADBFF"/>
<rect x="923" y="1897.54" width="154.5" height="2.41" fill="#E4D1FF"/>
<rect x="923" y="1899.94" width="154.5" height="4.81" fill="#EEE2FF"/>
<rect x="923" y="1904.76" width="154.5" height="2.44" fill="#EFE3FF"/>
<rect x="923" y="1909.61" width="154.5" height="4.81" fill="#DDC6FF"/>
<rect x="923" y="1914.42" width="154.5" height="2.41" fill="#BD98FF"/>
<rect x="923" y="1916.83" width="154.5" height="2.41" fill="#DBC4FF"/>
<rect x="923" y="1921.64" width="154.5" height="2.41" fill="#C29FFF"/>
<rect x="923" y="1924.05" width="154.5" height="2.41" fill="#D6BBFF"/>
<rect x="923" y="1926.46" width="154.5" height="2.41" fill="#DAC1FF"/>
<rect x="923" y="1945.62" width="154.5" height="2.41" fill="#6C41FF"/>
<rect x="923" y="1948.03" width="154.5" height="2.41" fill="#794DFF"/>
<rect x="923" y="1960.07" width="154.5" height="2.41" fill="#7549FF"/>
<rect x="923" y="1967.29" width="154.5" height="2.41" fill="#9F73FF"/>
<rect x="923" y="1969.70" width="154.5" height="1.30" fill="#7E51FF"/>
<rect x="923" y="1971.00" width="154.5" height="2.41" fill="#AC83FF"/>
<rect x="923" y="1985.44" width="154.5" height="4.81" fill="#C6A4FF"/>
<rect x="923" y="1997.51" width="154.5" height="4.79" fill="#E0CAFF"/>
<rect x="923" y="2002.30" width="154.5" height="4.81" fill="#875AFF"/>
<rect x="923" y="2007.11" width="154.5" height="4.81" fill="#4F2BFF"/>
<rect x="923" y="2011.93" width="154.5" height="4.81" fill="#8C5FFF"/>
<rect x="923" y="2016.74" width="154.5" height="2.41" fill="#5F37FF"/>
<rect x="923" y="2019.20" width="154.5" height="4.81" fill="#BC97FF"/>
<rect x="923" y="2024.01" width="154.5" height="4.81" fill="#A176FF"/>
<rect x="923" y="2028.83" width="154.5" height="2.41" fill="#9B6FFF"/>
<rect x="923" y="2036.01" width="154.5" height="4.81" fill="#D6EBC1"/>
<rect x="923" y="2040.82" width="154.5" height="2.41" fill="#BDDF9E"/>
<rect x="923" y="2043.23" width="154.5" height="4.81" fill="#D7ECC3"/>
<rect x="923" y="2050.45" width="154.5" height="2.41" fill="#C3E2A6"/>
<rect x="923" y="2060.11" width="154.5" height="2.41" fill="#FFFFFF"/>
<rect x="923" y="2064.90" width="154.5" height="2.41" fill="#CEE7B6"/>
<rect x="923" y="2067.31" width="154.5" height="2.41" fill="#B9DD98"/>
<rect x="923" y="2072.12" width="154.5" height="4.81" fill="#CCE7B4"/>
<rect x="923" y="2079.34" width="154.5" height="4.81" fill="#B8DD96"/>
<rect x="923" y="2084.16" width="154.5" height="2.41" fill="#CDE7B5"/>
<rect x="923" y="2086.57" width="154.5" height="2.41" fill="#B6DC94"/>
<rect x="923" y="2088.97" width="154.5" height="2.41" fill="#D3EABE"/>
<rect x="923" y="2093.79" width="154.5" height="2.41" fill="#CAE5B0"/>
<rect x="923" y="2096.30" width="154.5" height="4.80" fill="#DCEECA"/>
<rect x="923" y="2108.32" width="154.5" height="4.81" fill="#AED889"/>
<rect x="923" y="2115.54" width="154.5" height="2.41" fill="#C5E3AA"/>
<rect x="923" y="2125.17" width="154.5" height="4.81" fill="#BFE0A1"/>
<rect x="923" y="2134.80" width="154.5" height="4.81" fill="#9ED174"/>
<rect x="923" y="2139.61" width="154.5" height="2.41" fill="#80C44B"/>
<rect x="923" y="2144.43" width="154.5" height="4.81" fill="#82C54E"/>
<rect x="923" y="2154.06" width="154.5" height="4.81" fill="#88C756"/>
<rect x="923" y="2158.87" width="154.5" height="2.41" fill="#9ED173"/>
<rect x="923" y="2163.69" width="154.5" height="2.41" fill="#85C652"/>
<rect x="923" y="2166.10" width="154.5" height="4.81" fill="#9DD173"/>
<rect x="923" y="2170.91" width="154.5" height="4.81" fill="#82C54F"/>
<rect x="923" y="2180.54" width="154.5" height="4.81" fill="#83C54F"/>
<rect x="923" y="2187.76" width="154.5" height="4.81" fill="#99CF6D"/>
<rect x="923" y="2192.58" width="154.5" height="4.81" fill="#9CD071"/>
<rect x="923" y="2202.20" width="154.5" height="4.81" fill="#CAE5B0"/>
<rect x="923" y="2207.01" width="154.5" height="4.81" fill="#ABD785"/>
<rect x="923" y="2211.83" width="154.5" height="4.81" fill="#B5DB92"/>
<rect x="923" y="2233.50" width="154.5" height="4.81" fill="#CDE7B4"/>
<rect x="923" y="2245.53" width="154.5" height="4.81" fill="#AFD98A"/>
<rect x="923" y="2250.35" width="154.5" height="4.81" fill="#ABD785"/>
<rect x="923" y="2255.16" width="154.5" height="1.24" fill="#C7E4AC"/>
<rect x="923" y="2256.40" width="154.5" height="4.81" fill="#F8FBF4"/>
<rect x="923" y="2263.62" width="154.5" height="3.58" fill="#F8FCF5"/>
<rect x="923" y="2267.20" width="154.5" height="2.41" fill="#D2E9BB"/>
<rect x="923" y="2279.24" width="154.5" height="4.81" fill="#BADE9A"/>
<rect x="923" y="2284.05" width="154.5" height="1.25" fill="#CFE8B8"/>
<rect x="923" y="2287.71" width="154.5" height="2.41" fill="#B1DA8D"/>
<rect x="923" y="2290.11" width="154.5" height="4.81" fill="#AFD88A"/>
<rect x="923" y="2294.93" width="154.5" height="4.81" fill="#B0D98C"/>
<rect x="923" y="2302.15" width="154.5" height="2.41" fill="#B1DA8E"/>
<rect x="923" y="2304.56" width="154.5" height="2.41" fill="#92CB63"/>
<rect x="923" y="2306.97" width="154.5" height="4.81" fill="#97CE6A"/>
<rect x="923" y="2314.21" width="154.5" height="4.81" fill="#F9FCF6"/>
<rect x="923" y="2319.02" width="154.5" height="2.41" fill="#FAFDF7"/>
<rect x="923" y="2321.43" width="154.5" height="4.81" fill="#F7FBF3"/>
<rect x="923" y="2326.24" width="154.5" height="2.41" fill="#FAFDF7"/>
<rect x="923" y="2331.06" width="154.5" height="4.81" fill="#F9FCF6"/>
<rect x="923" y="2335.87" width="154.5" height="2.41" fill="#F7FBF3"/>
<rect x="923" y="2338.28" width="154.5" height="2.41" fill="#F9FCF6"/>
<rect x="923" y="2343.10" width="154.5" height="2.40" fill="#F9FCF6"/>
<rect x="923" y="2352.72" width="154.5" height="2.41" fill="#F2F9EC"/>
<rect x="923" y="2357.54" width="154.5" height="2.41" fill="#F5FAF0"/>
<rect x="923" y="2362.35" width="154.5" height="2.41" fill="#F2F8EA"/>
<rect x="923" y="2364.76" width="154.5" height="2.44" fill="#D9ECC5"/>
<rect x="923" y="2369.61" width="154.5" height="2.41" fill="#E3F1D4"/>
<rect x="923" y="2372.01" width="154.5" height="2.41" fill="#E7F3DB"/>
<rect x="923" y="2376.83" width="154.5" height="2.41" fill="#FCFEFA"/>
<rect x="923" y="2381.64" width="154.5" height="2.41" fill="#F5FAF0"/>
<rect x="923" y="2384.05" width="154.5" height="4.45" fill="#F5FAF0"/>
<path d="M347.5,1662.5 V1579 H808.5 V1650" stroke="#000" stroke-width="2" fill="none"/>
<path d="M231.5,1701.5 V1662.5 H462.5 V1668.5" stroke="#000" stroke-width="2" fill="none"/>
<path d="M385,1701.5 V1668.5 H540 V1701.5" stroke="#000" stroke-width="2" fill="none"/>
<path d="M693,1701.5 V1650 H923.5 V1664" stroke="#000" stroke-width="2" fill="none"/>
<path d="M847,1701.5 V1664 H1000.5 V1701.5" stroke="#000" stroke-width="2" fill="none"/>
<path d="M142.6,1706.20L152.5,1706.20 M142.6,1708.61L152.5,1708.61 M142.6,1706.20L142.6,1708.61 M137.2,1707.41L142.6,1707.41 M137.2,1711.02L152.5,1711.02 M137.2,1707.41L137.2,1711.02 M130.2,1709.21L137.2,1709.21 M130.2,1713.42L152.5,1713.42 M130.2,1709.21L130.2,1713.42 M118.4,1711.32L130.2,1711.32 M139.4,1715.83L152.5,1715.83 M139.4,1718.24L152.5,1718.24 M139.4,1715.83L139.4,1718.24 M129.6,1717.03L139.4,1717.03 M135.5,1720.64L152.5,1720.64 M135.5,1723.05L152.5,1723.05 M135.5,1720.64L135.5,1723.05 M129.6,1721.85L135.5,1721.85 M129.6,1717.03L129.6,1721.85 M118.4,1719.44L129.6,1719.44 M118.4,1711.32L118.4,1719.44 M94.1,1715.38L118.4,1715.38 M143.5,1725.46L152.5,1725.46 M143.5,1727.86L152.5,1727.86 M143.5,1725.46L143.5,1727.86 M138.1,1726.66L143.5,1726.66 M138.1,1730.27L152.5,1730.27 M138.1,1726.66L138.1,1730.27 M124.0,1728.47L138.1,1728.47 M137.4,1732.68L152.5,1732.68 M137.4,1735.08L152.5,1735.08 M137.4,1732.68L137.4,1735.08 M129.9,1733.88L137.4,1733.88 M137.6,1737.49L152.5,1737.49 M137.6,1739.90L152.5,1739.90 M137.6,1737.49L137.6,1739.90 M134.8,1738.69L137.6,1738.69 M140.2,1742.30L152.5,1742.30 M140.2,1744.71L152.5,1744.71 M140.2,1742.30L140.2,1744.71 M134.8,1743.51L140.2,1743.51 M134.8,1738.69L134.8,1743.51 M129.9,1741.10L134.8,1741.10 M129.9,1733.88L129.9,1741.10 M124.0,1737.49L129.9,1737.49 M124.0,1728.47L124.0,1737.49 M105.6,1732.98L124.0,1732.98 M137.9,1747.12L152.5,1747.12 M137.9,1749.52L152.5,1749.52 M137.9,1747.12L137.9,1749.52 M131.3,1748.32L137.9,1748.32 M131.3,1751.93L152.5,1751.93 M131.3,1748.32L131.3,1751.93 M121.2,1750.13L131.3,1750.13 M136.8,1754.34L152.5,1754.34 M136.8,1756.74L152.5,1756.74 M136.8,1754.34L136.8,1756.74 M121.2,1755.54L136.8,1755.54 M121.2,1750.13L121.2,1755.54 M105.6,1752.83L121.2,1752.83 M105.6,1732.98L105.6,1752.83 M94.1,1742.91L105.6,1742.91 M94.1,1715.38L94.1,1742.91 M85.5,1729.14L94.1,1729.14 M139.4,1759.15L152.5,1759.15 M141.7,1761.56L152.5,1761.56 M141.7,1763.96L152.5,1763.96 M141.7,1761.56L141.7,1763.96 M139.4,1762.76L141.7,1762.76 M139.4,1759.15L139.4,1762.76 M135.5,1760.96L139.4,1760.96 M147.7,1766.37L152.5,1766.37 M147.7,1768.78L152.5,1768.78 M147.7,1766.37L147.7,1768.78 M143.9,1767.57L147.7,1767.57 M143.9,1771.18L152.5,1771.18 M143.9,1767.57L143.9,1771.18 M140.4,1769.38L143.9,1769.38 M143.1,1773.59L152.5,1773.59 M143.1,1776.00L152.5,1776.00 M143.1,1773.59L143.1,1776.00 M140.4,1774.79L143.1,1774.79 M140.4,1769.38L140.4,1774.79 M135.5,1772.09L140.4,1772.09 M135.5,1760.96L135.5,1772.09 M124.2,1766.52L135.5,1766.52 M138.7,1778.40L152.5,1778.40 M143.8,1780.81L152.5,1780.81 M143.8,1783.22L152.5,1783.22 M143.8,1780.81L143.8,1783.22 M138.7,1782.01L143.8,1782.01 M138.7,1778.40L138.7,1782.01 M133.1,1780.21L138.7,1780.21 M137.8,1785.62L152.5,1785.62 M137.8,1788.03L152.5,1788.03 M137.8,1785.62L137.8,1788.03 M133.1,1786.83L137.8,1786.83 M133.1,1780.21L133.1,1786.83 M124.2,1783.52L133.1,1783.52 M124.2,1766.52L124.2,1783.52 M110.3,1775.02L124.2,1775.02 M142.1,1790.44L152.5,1790.44 M146.5,1792.84L152.5,1792.84 M146.5,1795.25L152.5,1795.25 M146.5,1792.84L146.5,1795.25 M142.1,1794.05L146.5,1794.05 M142.1,1790.44L142.1,1794.05 M139.7,1792.24L142.1,1792.24 M145.9,1797.66L152.5,1797.66 M145.9,1800.06L152.5,1800.06 M145.9,1797.66L145.9,1800.06 M144.1,1798.86L145.9,1798.86 M145.8,1802.47L152.5,1802.47 M145.8,1804.88L152.5,1804.88 M145.8,1802.47L145.8,1804.88 M144.1,1803.67L145.8,1803.67 M144.1,1798.86L144.1,1803.67 M139.7,1801.27L144.1,1801.27 M139.7,1792.24L139.7,1801.27 M136.7,1796.76L139.7,1796.76 M142.6,1807.28L152.5,1807.28 M142.6,1809.69L152.5,1809.69 M142.6,1807.28L142.6,1809.69 M139.7,1808.49L142.6,1808.49 M147.6,1812.10L152.5,1812.10 M147.6,1814.50L152.5,1814.50 M147.6,1812.10L147.6,1814.50 M146.0,1813.30L147.6,1813.30 M146.0,1816.91L152.5,1816.91 M146.0,1813.30L146.0,1816.91 M139.7,1815.11L146.0,1815.11 M139.7,1808.49L139.7,1815.11 M136.7,1811.80L139.7,1811.80 M136.7,1796.76L136.7,1811.80 M121.6,1804.28L136.7,1804.28 M144.1,1819.32L152.5,1819.32 M147.7,1821.72L152.5,1821.72 M147.7,1824.13L152.5,1824.13 M147.7,1821.72L147.7,1824.13 M144.1,1822.93L147.7,1822.93 M144.1,1819.32L144.1,1822.93 M141.7,1821.12L144.1,1821.12 M141.7,1826.54L152.5,1826.54 M141.7,1821.12L141.7,1826.54 M139.3,1823.83L141.7,1823.83 M142.6,1828.94L152.5,1828.94 M144.4,1831.35L152.5,1831.35 M144.4,1833.76L152.5,1833.76 M144.4,1831.35L144.4,1833.76 M142.6,1832.55L144.4,1832.55 M142.6,1828.94L142.6,1832.55 M139.3,1830.75L142.6,1830.75 M139.3,1823.83L139.3,1830.75 M128.5,1827.29L139.3,1827.29 M145.7,1836.16L152.5,1836.16 M145.7,1838.57L152.5,1838.57 M145.7,1836.16L145.7,1838.57 M139.3,1837.37L145.7,1837.37 M143.9,1840.98L152.5,1840.98 M143.9,1843.38L152.5,1843.38 M143.9,1840.98L143.9,1843.38 M139.3,1842.18L143.9,1842.18 M139.3,1837.37L139.3,1842.18 M134.2,1839.77L139.3,1839.77 M138.1,1845.79L152.5,1845.79 M146.6,1848.20L152.5,1848.20 M146.6,1850.60L152.5,1850.60 M146.6,1848.20L146.6,1850.60 M144.8,1849.40L146.6,1849.40 M144.8,1853.01L152.5,1853.01 M144.8,1849.40L144.8,1853.01 M138.1,1851.21L144.8,1851.21 M138.1,1845.79L138.1,1851.21 M134.2,1848.50L138.1,1848.50 M134.2,1839.77L134.2,1848.50 M128.5,1844.14L134.2,1844.14 M128.5,1827.29L128.5,1844.14 M121.6,1835.71L128.5,1835.71 M121.6,1804.28L121.6,1835.71 M110.3,1819.99L121.6,1819.99 M110.3,1775.02L110.3,1819.99 M103.4,1797.51L110.3,1797.51 M147.1,1855.42L152.5,1855.42 M148.1,1857.82L152.5,1857.82 M148.1,1860.23L152.5,1860.23 M148.1,1857.82L148.1,1860.23 M147.1,1859.03L148.1,1859.03 M147.1,1855.42L147.1,1859.03 M144.1,1857.22L147.1,1857.22 M144.1,1862.64L152.5,1862.64 M144.1,1857.22L144.1,1862.64 M136.3,1859.93L144.1,1859.93 M147.5,1865.04L152.5,1865.04 M147.5,1867.45L152.5,1867.45 M147.5,1865.04L147.5,1867.45 M144.2,1866.25L147.5,1866.25 M149.0,1869.86L152.5,1869.86 M149.0,1872.26L152.5,1872.26 M149.0,1869.86L149.0,1872.26 M147.8,1871.06L149.0,1871.06 M149.7,1874.67L152.5,1874.67 M149.7,1877.08L152.5,1877.08 M149.7,1874.67L149.7,1877.08 M147.8,1875.88L149.7,1875.88 M147.8,1871.06L147.8,1875.88 M144.2,1873.47L147.8,1873.47 M144.2,1866.25L144.2,1873.47 M136.3,1869.86L144.2,1869.86 M136.3,1859.93L136.3,1869.86 M121.4,1864.89L136.3,1864.89 M142.6,1879.49L152.5,1879.49 M142.6,1881.89L152.5,1881.89 M142.6,1879.49L142.6,1881.89 M139.3,1880.69L142.6,1880.69 M139.3,1884.30L152.5,1884.30 M139.3,1880.69L139.3,1884.30 M128.6,1882.49L139.3,1882.49 M133.9,1886.71L152.5,1886.71 M138.4,1889.11L152.5,1889.11 M138.4,1891.52L152.5,1891.52 M138.4,1889.11L138.4,1891.52 M133.9,1890.32L138.4,1890.32 M133.9,1886.71L133.9,1890.32 M128.6,1888.51L133.9,1888.51 M128.6,1882.49L128.6,1888.51 M121.4,1885.50L128.6,1885.50 M121.4,1864.89L121.4,1885.50 M110.3,1875.20L121.4,1875.20 M135.0,1893.93L152.5,1893.93 M135.0,1896.33L152.5,1896.33 M135.0,1893.93L135.0,1896.33 M125.6,1895.13L135.0,1895.13 M133.1,1898.74L152.5,1898.74 M133.1,1901.15L152.5,1901.15 M133.1,1898.74L133.1,1901.15 M125.6,1899.94L133.1,1899.94 M125.6,1895.13L125.6,1899.94 M118.4,1897.54L125.6,1897.54 M144.1,1903.55L152.5,1903.55 M145.4,1905.96L152.5,1905.96 M145.4,1908.37L152.5,1908.37 M145.4,1905.96L145.4,1908.37 M144.1,1907.16L145.4,1907.16 M144.1,1903.55L144.1,1907.16 M142.0,1905.36L144.1,1905.36 M146.1,1910.77L152.5,1910.77 M146.1,1913.18L152.5,1913.18 M146.1,1910.77L146.1,1913.18 M142.0,1911.98L146.1,1911.98 M142.0,1905.36L142.0,1911.98 M135.2,1908.67L142.0,1908.67 M142.6,1915.59L152.5,1915.59 M142.6,1917.99L152.5,1917.99 M142.6,1915.59L142.6,1917.99 M137.9,1916.79L142.6,1916.79 M141.7,1920.40L152.5,1920.40 M141.7,1922.81L152.5,1922.81 M141.7,1920.40L141.7,1922.81 M137.9,1921.60L141.7,1921.60 M137.9,1916.79L137.9,1921.60 M135.2,1919.20L137.9,1919.20 M135.2,1908.67L135.2,1919.20 M118.4,1913.93L135.2,1913.93 M118.4,1897.54L118.4,1913.93 M110.3,1905.73L118.4,1905.73 M110.3,1875.20L110.3,1905.73 M103.4,1890.47L110.3,1890.47 M103.4,1797.51L103.4,1890.47 M87.7,1843.99L103.4,1843.99 M147.1,1925.21L152.5,1925.21 M147.1,1927.62L152.5,1927.62 M147.1,1925.21L147.1,1927.62 M142.2,1926.42L147.1,1926.42 M142.2,1930.03L152.5,1930.03 M142.2,1926.42L142.2,1930.03 M135.5,1928.22L142.2,1928.22 M142.1,1932.43L152.5,1932.43 M142.1,1934.84L152.5,1934.84 M142.1,1932.43L142.1,1934.84 M135.5,1933.64L142.1,1933.64 M135.5,1928.22L135.5,1933.64 M120.7,1930.93L135.5,1930.93 M135.2,1937.25L152.5,1937.25 M142.6,1939.65L152.5,1939.65 M142.6,1942.06L152.5,1942.06 M142.6,1939.65L142.6,1942.06 M135.2,1940.86L142.6,1940.86 M135.2,1937.25L135.2,1940.86 M120.7,1939.05L135.2,1939.05 M120.7,1930.93L120.7,1939.05 M104.3,1934.99L120.7,1934.99 M143.6,1944.47L152.5,1944.47 M143.6,1946.87L152.5,1946.87 M143.6,1944.47L143.6,1946.87 M138.2,1945.67L143.6,1945.67 M147.0,1949.28L152.5,1949.28 M147.0,1951.69L152.5,1951.69 M147.0,1949.28L147.0,1951.69 M144.8,1950.48L147.0,1950.48 M144.8,1954.09L152.5,1954.09 M144.8,1950.48L144.8,1954.09 M138.2,1952.29L144.8,1952.29 M138.2,1945.67L138.2,1952.29 M130.1,1948.98L138.2,1948.98 M144.4,1956.50L152.5,1956.50 M144.4,1958.91L152.5,1958.91 M144.4,1956.50L144.4,1958.91 M138.0,1957.70L144.4,1957.70 M144.0,1961.31L152.5,1961.31 M144.0,1963.72L152.5,1963.72 M144.0,1961.31L144.0,1963.72 M138.0,1962.52L144.0,1962.52 M138.0,1957.70L138.0,1962.52 M130.1,1960.11L138.0,1960.11 M130.1,1948.98L130.1,1960.11 M121.2,1954.54L130.1,1954.54 M142.1,1966.13L152.5,1966.13 M142.1,1968.53L152.5,1968.53 M142.1,1966.13L142.1,1968.53 M137.1,1967.33L142.1,1967.33 M144.4,1970.94L152.5,1970.94 M144.4,1973.35L152.5,1973.35 M144.4,1970.94L144.4,1973.35 M137.1,1972.14L144.4,1972.14 M137.1,1967.33L137.1,1972.14 M132.5,1969.74L137.1,1969.74 M142.1,1975.75L152.5,1975.75 M142.1,1978.16L152.5,1978.16 M142.1,1975.75L142.1,1978.16 M135.6,1976.96L142.1,1976.96 M139.1,1980.57L152.5,1980.57 M139.1,1982.97L152.5,1982.97 M139.1,1980.57L139.1,1982.97 M135.6,1981.77L139.1,1981.77 M135.6,1976.96L135.6,1981.77 M132.5,1979.36L135.6,1979.36 M132.5,1969.74L132.5,1979.36 M121.2,1974.55L132.5,1974.55 M121.2,1954.54L121.2,1974.55 M104.3,1964.55L121.2,1964.55 M104.3,1934.99L104.3,1964.55 M92.8,1949.77L104.3,1949.77 M141.4,1985.38L152.5,1985.38 M141.4,1987.79L152.5,1987.79 M141.4,1985.38L141.4,1987.79 M132.9,1986.58L141.4,1986.58 M141.9,1990.19L152.5,1990.19 M145.6,1992.60L152.5,1992.60 M145.6,1995.01L152.5,1995.01 M145.6,1992.60L145.6,1995.01 M141.9,1993.80L145.6,1993.80 M141.9,1990.19L141.9,1993.80 M132.9,1992.00L141.9,1992.00 M132.9,1986.58L132.9,1992.00 M127.4,1989.29L132.9,1989.29 M132.4,1997.41L152.5,1997.41 M141.3,1999.82L152.5,1999.82 M141.3,2002.23L152.5,2002.23 M141.3,1999.82L141.3,2002.23 M132.4,2001.02L141.3,2001.02 M132.4,1997.41L132.4,2001.02 M127.4,1999.22L132.4,1999.22 M127.4,1989.29L127.4,1999.22 M118.4,1994.25L127.4,1994.25 M137.0,2004.63L152.5,2004.63 M141.8,2007.04L152.5,2007.04 M141.8,2009.45L152.5,2009.45 M141.8,2007.04L141.8,2009.45 M137.0,2008.24L141.8,2008.24 M137.0,2004.63L137.0,2008.24 M132.0,2006.44L137.0,2006.44 M132.0,2011.85L152.5,2011.85 M132.0,2006.44L132.0,2011.85 M118.4,2009.15L132.0,2009.15 M118.4,1994.25L118.4,2009.15 M103.4,2001.70L118.4,2001.70 M134.7,2014.26L152.5,2014.26 M134.7,2016.67L152.5,2016.67 M134.7,2014.26L134.7,2016.67 M128.5,2015.46L134.7,2015.46 M140.3,2019.07L152.5,2019.07 M140.3,2021.48L152.5,2021.48 M140.3,2019.07L140.3,2021.48 M128.5,2020.28L140.3,2020.28 M128.5,2015.46L128.5,2020.28 M114.4,2017.87L128.5,2017.87 M135.4,2023.89L152.5,2023.89 M135.4,2026.29L152.5,2026.29 M135.4,2023.89L135.4,2026.29 M121.1,2025.09L135.4,2025.09 M138.5,2028.70L152.5,2028.70 M138.5,2031.11L152.5,2031.11 M138.5,2028.70L138.5,2031.11 M133.6,2029.90L138.5,2029.90 M133.6,2033.51L152.5,2033.51 M133.6,2029.90L133.6,2033.51 M121.1,2031.71L133.6,2031.71 M121.1,2025.09L121.1,2031.71 M114.4,2028.40L121.1,2028.40 M114.4,2017.87L114.4,2028.40 M103.4,2023.13L114.4,2023.13 M103.4,2001.70L103.4,2023.13 M92.8,2012.42L103.4,2012.42 M92.8,1949.77L92.8,2012.42 M87.7,1981.09L92.8,1981.09 M87.7,1843.99L87.7,1981.09 M85.5,1912.54L87.7,1912.54 M85.5,1729.14L85.5,1912.54 M29.7,1820.84L85.5,1820.84 M124.8,2035.92L152.5,2035.92 M124.8,2038.33L152.5,2038.33 M124.8,2035.92L124.8,2038.33 M119.5,2037.12L124.8,2037.12 M127.2,2040.73L152.5,2040.73 M131.4,2043.14L152.5,2043.14 M131.4,2045.55L152.5,2045.55 M131.4,2043.14L131.4,2045.55 M127.2,2044.34L131.4,2044.34 M127.2,2040.73L127.2,2044.34 M119.5,2042.54L127.2,2042.54 M119.5,2037.12L119.5,2042.54 M111.4,2039.83L119.5,2039.83 M145.4,2047.95L152.5,2047.95 M145.4,2050.36L152.5,2050.36 M145.4,2047.95L145.4,2050.36 M143.4,2049.16L145.4,2049.16 M145.3,2052.77L152.5,2052.77 M145.3,2055.17L152.5,2055.17 M145.3,2052.77L145.3,2055.17 M143.4,2053.97L145.3,2053.97 M143.4,2049.16L143.4,2053.97 M134.8,2051.56L143.4,2051.56 M143.0,2057.58L152.5,2057.58 M143.0,2059.99L152.5,2059.99 M143.0,2057.58L143.0,2059.99 M140.4,2058.78L143.0,2058.78 M140.4,2062.39L152.5,2062.39 M140.4,2058.78L140.4,2062.39 M134.8,2060.59L140.4,2060.59 M134.8,2051.56L134.8,2060.59 M124.0,2056.08L134.8,2056.08 M144.4,2064.80L152.5,2064.80 M144.4,2067.21L152.5,2067.21 M144.4,2064.80L144.4,2067.21 M138.6,2066.00L144.4,2066.00 M138.6,2069.61L152.5,2069.61 M138.6,2066.00L138.6,2069.61 M131.7,2067.81L138.6,2067.81 M140.6,2072.02L152.5,2072.02 M140.6,2074.43L152.5,2074.43 M140.6,2072.02L140.6,2074.43 M131.7,2073.22L140.6,2073.22 M131.7,2067.81L131.7,2073.22 M124.0,2070.52L131.7,2070.52 M124.0,2056.08L124.0,2070.52 M111.4,2063.30L124.0,2063.30 M111.4,2039.83L111.4,2063.30 M81.3,2051.56L111.4,2051.56 M143.4,2076.83L152.5,2076.83 M143.4,2079.24L152.5,2079.24 M143.4,2076.83L143.4,2079.24 M138.1,2078.04L143.4,2078.04 M142.2,2081.65L152.5,2081.65 M142.2,2084.05L152.5,2084.05 M142.2,2081.65L142.2,2084.05 M138.1,2082.85L142.2,2082.85 M138.1,2078.04L138.1,2082.85 M134.6,2080.44L138.1,2080.44 M147.5,2086.46L152.5,2086.46 M147.5,2088.87L152.5,2088.87 M147.5,2086.46L147.5,2088.87 M142.8,2087.66L147.5,2087.66 M142.8,2091.27L152.5,2091.27 M142.8,2087.66L142.8,2091.27 M134.6,2089.47L142.8,2089.47 M134.6,2080.44L134.6,2089.47 M118.4,2084.96L134.6,2084.96 M146.4,2093.68L152.5,2093.68 M146.4,2096.09L152.5,2096.09 M146.4,2093.68L146.4,2096.09 M144.6,2094.88L146.4,2094.88 M148.5,2098.49L152.5,2098.49 M148.5,2100.90L152.5,2100.90 M148.5,2098.49L148.5,2100.90 M144.6,2099.70L148.5,2099.70 M144.6,2094.88L144.6,2099.70 M139.8,2097.29L144.6,2097.29 M144.1,2103.31L152.5,2103.31 M144.1,2105.71L152.5,2105.71 M144.1,2103.31L144.1,2105.71 M139.8,2104.51L144.1,2104.51 M139.8,2097.29L139.8,2104.51 M131.3,2100.90L139.8,2100.90 M145.4,2108.12L152.5,2108.12 M147.8,2110.53L152.5,2110.53 M147.8,2112.93L152.5,2112.93 M147.8,2110.53L147.8,2112.93 M145.4,2111.73L147.8,2111.73 M145.4,2108.12L145.4,2111.73 M143.9,2109.93L145.4,2109.93 M146.6,2115.34L152.5,2115.34 M149.2,2117.75L152.5,2117.75 M149.2,2120.15L152.5,2120.15 M149.2,2117.75L149.2,2120.15 M146.6,2118.95L149.2,2118.95 M146.6,2115.34L146.6,2118.95 M143.9,2117.15L146.6,2117.15 M143.9,2109.93L143.9,2117.15 M136.8,2113.54L143.9,2113.54 M143.6,2122.56L152.5,2122.56 M146.0,2124.97L152.5,2124.97 M146.0,2127.37L152.5,2127.37 M146.0,2124.97L146.0,2127.37 M143.6,2126.17L146.0,2126.17 M143.6,2122.56L143.6,2126.17 M136.8,2124.37L143.6,2124.37 M136.8,2113.54L136.8,2124.37 M131.3,2118.95L136.8,2118.95 M131.3,2100.90L131.3,2118.95 M118.4,2109.93L131.3,2109.93 M118.4,2084.96L118.4,2109.93 M104.3,2097.44L118.4,2097.44 M141.7,2129.78L152.5,2129.78 M141.7,2132.19L152.5,2132.19 M141.7,2129.78L141.7,2132.19 M134.7,2130.98L141.7,2130.98 M134.7,2134.59L152.5,2134.59 M134.7,2130.98L134.7,2134.59 M122.7,2132.79L134.7,2132.79 M132.3,2137.00L152.5,2137.00 M132.3,2139.41L152.5,2139.41 M132.3,2137.00L132.3,2139.41 M122.7,2138.20L132.3,2138.20 M122.7,2132.79L122.7,2138.20 M115.2,2135.50L122.7,2135.50 M132.1,2141.81L152.5,2141.81 M140.4,2144.22L152.5,2144.22 M140.4,2146.63L152.5,2146.63 M140.4,2144.22L140.4,2146.63 M132.1,2145.42L140.4,2145.42 M132.1,2141.81L132.1,2145.42 M121.9,2143.62L132.1,2143.62 M139.2,2149.03L152.5,2149.03 M142.9,2151.44L152.5,2151.44 M142.9,2153.85L152.5,2153.85 M142.9,2151.44L142.9,2153.85 M139.2,2152.64L142.9,2152.64 M139.2,2149.03L139.2,2152.64 M132.1,2150.84L139.2,2150.84 M141.6,2156.25L152.5,2156.25 M141.6,2158.66L152.5,2158.66 M141.6,2156.25L141.6,2158.66 M132.1,2157.46L141.6,2157.46 M132.1,2150.84L132.1,2157.46 M121.9,2154.15L132.1,2154.15 M121.9,2143.62L121.9,2154.15 M115.2,2148.88L121.9,2148.88 M115.2,2135.50L115.2,2148.88 M104.3,2142.19L115.2,2142.19 M104.3,2097.44L104.3,2142.19 M95.4,2119.82L104.3,2119.82 M143.4,2161.07L152.5,2161.07 M146.5,2163.47L152.5,2163.47 M146.5,2165.88L152.5,2165.88 M146.5,2163.47L146.5,2165.88 M143.4,2164.68L146.5,2164.68 M143.4,2161.07L143.4,2164.68 M138.4,2162.87L143.4,2162.87 M143.5,2168.29L152.5,2168.29 M147.9,2170.69L152.5,2170.69 M147.9,2173.10L152.5,2173.10 M147.9,2170.69L147.9,2173.10 M143.5,2171.90L147.9,2171.90 M143.5,2168.29L143.5,2171.90 M138.4,2170.09L143.5,2170.09 M138.4,2162.87L138.4,2170.09 M125.0,2166.48L138.4,2166.48 M139.8,2175.51L152.5,2175.51 M139.8,2177.91L152.5,2177.91 M139.8,2175.51L139.8,2177.91 M133.0,2176.71L139.8,2176.71 M140.6,2180.32L152.5,2180.32 M140.6,2182.73L152.5,2182.73 M140.6,2180.32L140.6,2182.73 M133.0,2181.52L140.6,2181.52 M133.0,2176.71L133.0,2181.52 M125.0,2179.12L133.0,2179.12 M125.0,2166.48L125.0,2179.12 M98.6,2172.80L125.0,2172.80 M142.5,2185.13L152.5,2185.13 M145.5,2187.54L152.5,2187.54 M145.5,2189.95L152.5,2189.95 M145.5,2187.54L145.5,2189.95 M142.5,2188.74L145.5,2188.74 M142.5,2185.13L142.5,2188.74 M137.9,2186.94L142.5,2186.94 M146.7,2192.35L152.5,2192.35 M146.7,2194.76L152.5,2194.76 M146.7,2192.35L146.7,2194.76 M144.7,2193.56L146.7,2193.56 M147.6,2197.17L152.5,2197.17 M147.6,2199.57L152.5,2199.57 M147.6,2197.17L147.6,2199.57 M144.7,2198.37L147.6,2198.37 M144.7,2193.56L144.7,2198.37 M137.9,2195.96L144.7,2195.96 M137.9,2186.94L137.9,2195.96 M124.9,2191.45L137.9,2191.45 M133.8,2201.98L152.5,2201.98 M133.8,2204.39L152.5,2204.39 M133.8,2201.98L133.8,2204.39 M130.3,2203.18L133.8,2203.18 M130.3,2206.79L152.5,2206.79 M130.3,2203.18L130.3,2206.79 M124.9,2204.99L130.3,2204.99 M124.9,2191.45L124.9,2204.99 M113.3,2198.22L124.9,2198.22 M138.4,2209.20L152.5,2209.20 M138.4,2211.61L152.5,2211.61 M138.4,2209.20L138.4,2211.61 M130.2,2210.40L138.4,2210.40 M139.3,2214.01L152.5,2214.01 M143.6,2216.42L152.5,2216.42 M143.6,2218.83L152.5,2218.83 M143.6,2216.42L143.6,2218.83 M139.3,2217.62L143.6,2217.62 M139.3,2214.01L139.3,2217.62 M130.2,2215.82L139.3,2215.82 M130.2,2210.40L130.2,2215.82 M122.3,2213.11L130.2,2213.11 M136.1,2221.24L152.5,2221.24 M136.1,2223.64L152.5,2223.64 M136.1,2221.24L136.1,2223.64 M128.9,2222.44L136.1,2222.44 M135.9,2226.05L152.5,2226.05 M135.9,2228.46L152.5,2228.46 M135.9,2226.05L135.9,2228.46 M128.9,2227.25L135.9,2227.25 M128.9,2222.44L128.9,2227.25 M122.3,2224.85L128.9,2224.85 M122.3,2213.11L122.3,2224.85 M113.3,2218.98L122.3,2218.98 M113.3,2198.22L113.3,2218.98 M98.6,2208.60L113.3,2208.60 M98.6,2172.80L98.6,2208.60 M95.4,2190.70L98.6,2190.70 M95.4,2119.82L95.4,2190.70 M85.5,2155.26L95.4,2155.26 M145.8,2230.86L152.5,2230.86 M145.8,2233.27L152.5,2233.27 M145.8,2230.86L145.8,2233.27 M140.3,2232.07L145.8,2232.07 M140.3,2235.68L152.5,2235.68 M140.3,2232.07L140.3,2235.68 M130.5,2233.87L140.3,2233.87 M145.5,2238.08L152.5,2238.08 M145.5,2240.49L152.5,2240.49 M145.5,2238.08L145.5,2240.49 M139.5,2239.29L145.5,2239.29 M139.5,2242.90L152.5,2242.90 M139.5,2239.29L139.5,2242.90 M130.5,2241.09L139.5,2241.09 M130.5,2233.87L130.5,2241.09 M117.3,2237.48L130.5,2237.48 M141.6,2245.30L152.5,2245.30 M141.6,2247.71L152.5,2247.71 M141.6,2245.30L141.6,2247.71 M132.4,2246.51L141.6,2246.51 M132.4,2250.12L152.5,2250.12 M132.4,2246.51L132.4,2250.12 M126.5,2248.31L132.4,2248.31 M132.6,2252.52L152.5,2252.52 M132.6,2254.93L152.5,2254.93 M132.6,2252.52L132.6,2254.93 M126.5,2253.73L132.6,2253.73 M126.5,2248.31L126.5,2253.73 M117.3,2251.02L126.5,2251.02 M117.3,2237.48L117.3,2251.02 M107.3,2244.25L117.3,2244.25 M141.5,2257.34L152.5,2257.34 M144.7,2259.74L152.5,2259.74 M144.7,2262.15L152.5,2262.15 M144.7,2259.74L144.7,2262.15 M141.5,2260.95L144.7,2260.95 M141.5,2257.34L141.5,2260.95 M133.3,2259.14L141.5,2259.14 M142.6,2264.56L152.5,2264.56 M142.6,2266.96L152.5,2266.96 M142.6,2264.56L142.6,2266.96 M136.3,2265.76L142.6,2265.76 M144.2,2269.37L152.5,2269.37 M144.2,2271.78L152.5,2271.78 M144.2,2269.37L144.2,2271.78 M136.3,2270.57L144.2,2270.57 M136.3,2265.76L136.3,2270.57 M133.3,2268.17L136.3,2268.17 M133.3,2259.14L133.3,2268.17 M118.2,2263.65L133.3,2263.65 M142.6,2274.18L152.5,2274.18 M142.6,2276.59L152.5,2276.59 M142.6,2274.18L142.6,2276.59 M140.3,2275.39L142.6,2275.39 M147.3,2279.00L152.5,2279.00 M147.3,2281.40L152.5,2281.40 M147.3,2279.00L147.3,2281.40 M144.5,2280.20L147.3,2280.20 M144.5,2283.81L152.5,2283.81 M144.5,2280.20L144.5,2283.81 M140.3,2282.00L144.5,2282.00 M140.3,2275.39L140.3,2282.00 M136.9,2278.69L140.3,2278.69 M140.3,2286.22L152.5,2286.22 M145.7,2288.62L152.5,2288.62 M145.7,2291.03L152.5,2291.03 M145.7,2288.62L145.7,2291.03 M140.3,2289.83L145.7,2289.83 M140.3,2286.22L140.3,2289.83 M136.9,2288.02L140.3,2288.02 M136.9,2278.69L136.9,2288.02 M129.4,2283.36L136.9,2283.36 M142.4,2293.44L152.5,2293.44 M142.4,2295.84L152.5,2295.84 M142.4,2293.44L142.4,2295.84 M140.4,2294.64L142.4,2294.64 M146.4,2298.25L152.5,2298.25 M146.4,2300.66L152.5,2300.66 M146.4,2298.25L146.4,2300.66 M144.1,2299.45L146.4,2299.45 M144.1,2303.06L152.5,2303.06 M144.1,2299.45L144.1,2303.06 M140.4,2301.26L144.1,2301.26 M140.4,2294.64L140.4,2301.26 M129.4,2297.95L140.4,2297.95 M129.4,2283.36L129.4,2297.95 M118.2,2290.65L129.4,2290.65 M118.2,2263.65L118.2,2290.65 M107.3,2277.15L118.2,2277.15 M107.3,2244.25L107.3,2277.15 M87.7,2260.70L107.3,2260.70 M141.3,2305.47L152.5,2305.47 M141.3,2307.88L152.5,2307.88 M141.3,2305.47L141.3,2307.88 M136.3,2306.67L141.3,2306.67 M143.4,2310.28L152.5,2310.28 M143.4,2312.69L152.5,2312.69 M143.4,2310.28L143.4,2312.69 M141.0,2311.49L143.4,2311.49 M142.8,2315.10L152.5,2315.10 M142.8,2317.50L152.5,2317.50 M142.8,2315.10L142.8,2317.50 M141.0,2316.30L142.8,2316.30 M141.0,2311.49L141.0,2316.30 M136.3,2313.89L141.0,2313.89 M136.3,2306.67L136.3,2313.89 M123.2,2310.28L136.3,2310.28 M143.4,2319.91L152.5,2319.91 M143.4,2322.32L152.5,2322.32 M143.4,2319.91L143.4,2322.32 M135.8,2321.11L143.4,2321.11 M140.7,2324.72L152.5,2324.72 M140.7,2327.13L152.5,2327.13 M140.7,2324.72L140.7,2327.13 M135.8,2325.93L140.7,2325.93 M135.8,2321.11L135.8,2325.93 M123.2,2323.52L135.8,2323.52 M123.2,2310.28L123.2,2323.52 M117.9,2316.90L123.2,2316.90 M145.5,2329.54L152.5,2329.54 M145.5,2331.94L152.5,2331.94 M145.5,2329.54L145.5,2331.94 M139.2,2330.74L145.5,2330.74 M149.6,2334.35L152.5,2334.35 M149.6,2336.76L152.5,2336.76 M149.6,2334.35L149.6,2336.76 M147.1,2335.55L149.6,2335.55 M147.1,2339.16L152.5,2339.16 M147.1,2335.55L147.1,2339.16 M144.8,2337.36L147.1,2337.36 M144.8,2341.57L152.5,2341.57 M144.8,2337.36L144.8,2341.57 M139.2,2339.46L144.8,2339.46 M139.2,2330.74L139.2,2339.46 M129.2,2335.10L139.2,2335.10 M138.9,2343.98L152.5,2343.98 M138.9,2346.38L152.5,2346.38 M138.9,2343.98L138.9,2346.38 M129.2,2345.18L138.9,2345.18 M129.2,2335.10L129.2,2345.18 M117.9,2340.14L129.2,2340.14 M117.9,2316.90L117.9,2340.14 M103.0,2328.52L117.9,2328.52 M132.7,2348.79L152.5,2348.79 M143.4,2351.20L152.5,2351.20 M143.4,2353.60L152.5,2353.60 M143.4,2351.20L143.4,2353.60 M138.1,2352.40L143.4,2352.40 M138.1,2356.01L152.5,2356.01 M138.1,2352.40L138.1,2356.01 M132.7,2354.20L138.1,2354.20 M132.7,2348.79L132.7,2354.20 M123.6,2351.50L132.7,2351.50 M145.3,2358.42L152.5,2358.42 M145.3,2360.82L152.5,2360.82 M145.3,2358.42L145.3,2360.82 M141.5,2359.62L145.3,2359.62 M141.5,2363.23L152.5,2363.23 M141.5,2359.62L141.5,2363.23 M137.5,2361.42L141.5,2361.42 M145.8,2365.64L152.5,2365.64 M145.8,2368.04L152.5,2368.04 M145.8,2365.64L145.8,2368.04 M141.8,2366.84L145.8,2366.84 M141.8,2370.45L152.5,2370.45 M141.8,2366.84L141.8,2370.45 M137.5,2368.64L141.8,2368.64 M137.5,2361.42L137.5,2368.64 M123.6,2365.03L137.5,2365.03 M123.6,2351.50L123.6,2365.03 M117.5,2358.27L123.6,2358.27 M142.3,2372.86L152.5,2372.86 M145.3,2375.26L152.5,2375.26 M145.3,2377.67L152.5,2377.67 M145.3,2375.26L145.3,2377.67 M142.3,2376.47L145.3,2376.47 M142.3,2372.86L142.3,2376.47 M135.3,2374.66L142.3,2374.66 M139.0,2380.08L152.5,2380.08 M139.0,2382.48L152.5,2382.48 M139.0,2380.08L139.0,2382.48 M135.3,2381.28L139.0,2381.28 M135.3,2374.66L135.3,2381.28 M132.1,2377.97L135.3,2377.97 M135.8,2384.89L152.5,2384.89 M135.8,2387.30L152.5,2387.30 M135.8,2384.89L135.8,2387.30 M132.1,2386.09L135.8,2386.09 M132.1,2377.97L132.1,2386.09 M117.5,2382.03L132.1,2382.03 M117.5,2358.27L117.5,2382.03 M103.0,2370.15L117.5,2370.15 M103.0,2328.52L103.0,2370.15 M87.7,2349.33L103.0,2349.33 M87.7,2260.70L87.7,2349.33 M85.5,2305.02L87.7,2305.02 M85.5,2155.26L85.5,2305.02 M81.3,2230.14L85.5,2230.14 M81.3,2051.56L81.3,2230.14 M29.7,2140.85L81.3,2140.85 M29.7,1820.84L29.7,2140.85" stroke="#000" stroke-width="1.9" fill="none" stroke-linecap="square"/>
<defs><linearGradient id="lg" x1="0" y1="0" x2="0" y2="1"><stop offset="0.000" stop-color="#72BE38"/><stop offset="0.025" stop-color="#72BE38"/><stop offset="0.050" stop-color="#76C03E"/><stop offset="0.075" stop-color="#7FC34A"/><stop offset="0.100" stop-color="#87C755"/><stop offset="0.125" stop-color="#8FCA60"/><stop offset="0.150" stop-color="#98CE6B"/><stop offset="0.175" stop-color="#9FD275"/><stop offset="0.200" stop-color="#A7D580"/><stop offset="0.225" stop-color="#AFD98A"/><stop offset="0.250" stop-color="#B7DC95"/><stop offset="0.275" stop-color="#BEE09F"/><stop offset="0.300" stop-color="#C6E3AA"/><stop offset="0.325" stop-color="#CDE7B4"/><stop offset="0.350" stop-color="#D4EABF"/><stop offset="0.375" stop-color="#DBEEC9"/><stop offset="0.400" stop-color="#E3F1D4"/><stop offset="0.425" stop-color="#EAF5DF"/><stop offset="0.450" stop-color="#F1F8E9"/><stop offset="0.475" stop-color="#F8FCF4"/><stop offset="0.500" stop-color="#FFFFFF"/><stop offset="0.525" stop-color="#F8F2FF"/><stop offset="0.550" stop-color="#F0E5FF"/><stop offset="0.575" stop-color="#E9D9FF"/><stop offset="0.600" stop-color="#E1CCFF"/><stop offset="0.625" stop-color="#D9C0FF"/><stop offset="0.650" stop-color="#D0B3FF"/><stop offset="0.675" stop-color="#C8A7FF"/><stop offset="0.700" stop-color="#BF9AFF"/><stop offset="0.725" stop-color="#B58EFF"/><stop offset="0.750" stop-color="#AB81FF"/><stop offset="0.775" stop-color="#A075FF"/><stop offset="0.800" stop-color="#9569FF"/><stop offset="0.825" stop-color="#895CFF"/><stop offset="0.850" stop-color="#7C4FFF"/><stop offset="0.875" stop-color="#6D42FF"/><stop offset="0.900" stop-color="#5C34FF"/><stop offset="0.925" stop-color="#4624FF"/><stop offset="0.950" stop-color="#250FFF"/><stop offset="0.975" stop-color="#0000FF"/><stop offset="1.000" stop-color="#0000FF"/></linearGradient></defs>
<rect x="1090.6" y="1988.6" width="29.2" height="147.5" fill="url(#lg)"/>
<line x1="1090.6" y1="1994.1" x2="1097.4" y2="1994.1" stroke="#fff" stroke-width="1.2"/>
<line x1="1112.7" y1="1994.1" x2="1119.8" y2="1994.1" stroke="#fff" stroke-width="1.2"/>
<line x1="1090.6" y1="2028.3" x2="1097.4" y2="2028.3" stroke="#fff" stroke-width="1.2"/>
<line x1="1112.7" y1="2028.3" x2="1119.8" y2="2028.3" stroke="#fff" stroke-width="1.2"/>
<line x1="1090.6" y1="2096.5" x2="1097.4" y2="2096.5" stroke="#fff" stroke-width="1.2"/>
<line x1="1112.7" y1="2096.5" x2="1119.8" y2="2096.5" stroke="#fff" stroke-width="1.2"/>
<line x1="1090.6" y1="2130.7" x2="1097.4" y2="2130.7" stroke="#fff" stroke-width="1.2"/>
<line x1="1112.7" y1="2130.7" x2="1119.8" y2="2130.7" stroke="#fff" stroke-width="1.2"/>
<text x="1126" y="2002.6" font-family="Liberation Sans" font-size="24" fill="#000">2</text>
<text x="1126" y="2036.8" font-family="Liberation Sans" font-size="24" fill="#000">1</text>
<text x="1126" y="2070.9" font-family="Liberation Sans" font-size="24" fill="#000">0</text>
<text x="1126" y="2105.0" font-family="Liberation Sans" font-size="24" fill="#000">−1</text>
<text x="1126" y="2139.2" font-family="Liberation Sans" font-size="24" fill="#000">−2</text>
<text transform="translate(242.0,2475.6) rotate(-90)" font-family="Liberation Sans" font-size="35" fill="#000">BF3</text>
<text transform="translate(396.0,2475.6) rotate(-90)" font-family="Liberation Sans" font-size="35" fill="#000">BF1</text>
<text transform="translate(549.7,2475.6) rotate(-90)" font-family="Liberation Sans" font-size="35" fill="#000">BF2</text>
<text transform="translate(703.9,2493.2) rotate(-90)" font-family="Liberation Sans" font-size="35" fill="#000">SOL1</text>
<text transform="translate(857.5,2493.2) rotate(-90)" font-family="Liberation Sans" font-size="35" fill="#000">SOL2</text>
<text transform="translate(1011.0,2493.2) rotate(-90)" font-family="Liberation Sans" font-size="35" fill="#000">SOL3</text>
</g>
</svg></body></html>
